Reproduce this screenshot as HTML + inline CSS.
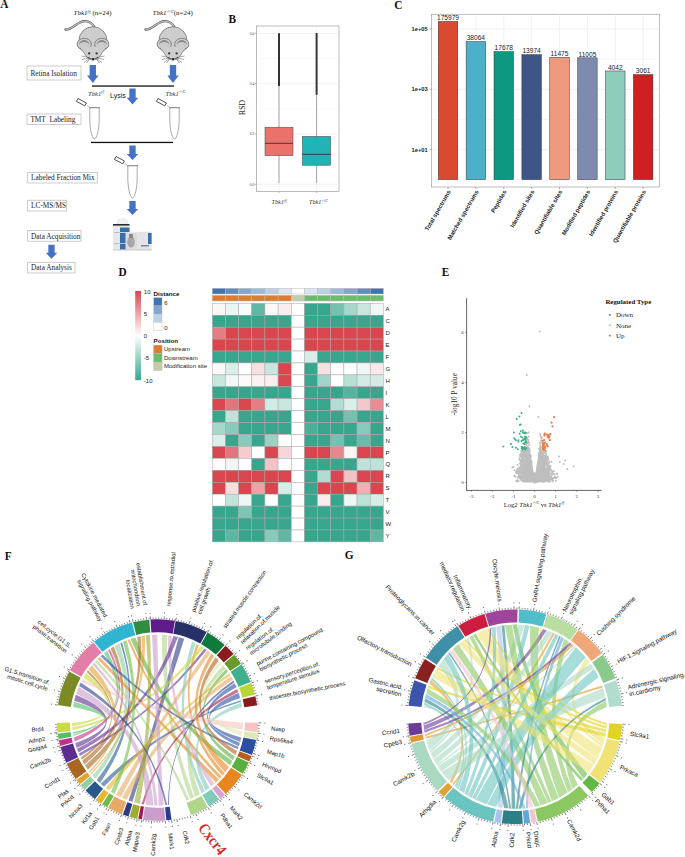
<!DOCTYPE html><html><head><meta charset="utf-8"><style>html,body{margin:0;padding:0;background:#fff;overflow:hidden}svg{display:block}</style></head><body>
<svg width="685" height="857" viewBox="0 0 685 857">
<rect width="685" height="857" fill="#fff"/>
<text x="0" y="0" font-family='"Liberation Serif", serif' font-size="11.3" font-weight="bold" fill="#111" transform="translate(0.3,8.3) scale(1,1.13)">A</text>
<text x="73.5" y="15.2" font-family='"Liberation Serif", serif' font-size="7" fill="#222"><tspan font-style="italic">Tbk1</tspan><tspan font-size="3.8" dy="-2.7" font-style="italic">f/f</tspan><tspan dy="2.7"> (n=24)</tspan></text>
<text x="152.5" y="15.2" font-family='"Liberation Serif", serif' font-size="7" fill="#222"><tspan font-style="italic">Tbk1</tspan><tspan font-size="3.8" dy="-2.7" font-style="italic">-/-/C</tspan><tspan dy="2.7">(n=24)</tspan></text>
<g transform="translate(0,0)"><path d="M95,28 C91,21 85,20 80,22.5 C75,25 70,30 65.5,29.5" fill="none" stroke="#555" stroke-width="2.3" stroke-linecap="round"/><path d="M95,28 C91,21 85,20 80,22.5 C75,25 70,30 65.8,29.5" fill="none" stroke="#c4c4c4" stroke-width="1.2" stroke-linecap="round"/><ellipse cx="93" cy="40.3" rx="14" ry="13.6" fill="#cdcdcd" stroke="#555" stroke-width="0.6"/><ellipse cx="84.2" cy="44.2" rx="7.1" ry="5.9" fill="#cbcbcb" stroke="#555" stroke-width="0.6"/><ellipse cx="101.8" cy="44.2" rx="7.1" ry="5.9" fill="#cbcbcb" stroke="#555" stroke-width="0.6"/><path d="M79.8,47.5 C81,50 84,52 86,56 C88,58.5 91,60 93,60.3 C95,60 98,58.5 100,56 C102,52 105,50 106.2,47.5 C103,45 98,47 93,47 C88,47 83,45 79.8,47.5 Z" fill="#cdcdcd"/><path d="M79.8,47.5 C81,50 84,52 86,56 C88,58.5 91,60 93,60.3 C95,60 98,58.5 100,56 C102,52 105,50 106.2,47.5" fill="none" stroke="#555" stroke-width="0.6"/><path d="M78.60000000000001,44.6 C80.7,38.6 87.7,38.6 89.8,44.6 C87.2,41.2 81.2,41.2 78.60000000000001,44.6 Z" fill="#8a8a8a"/><path d="M96.2,44.6 C98.3,38.6 105.3,38.6 107.39999999999999,44.6 C104.8,41.2 98.8,41.2 96.2,44.6 Z" fill="#8a8a8a"/><circle cx="89.2" cy="53.4" r="1.15" fill="#333"/><circle cx="96.6" cy="53.4" r="1.15" fill="#333"/><rect x="92" y="58" width="2" height="2" fill="#222"/><g stroke="#444" stroke-width="0.45" fill="none"><line x1="89" y1="57.5" x2="81.5" y2="56"/><line x1="89" y1="58" x2="82" y2="59.5"/><line x1="89.5" y1="58.5" x2="84" y2="62.5"/><line x1="90" y1="58.5" x2="86.5" y2="63"/><line x1="97" y1="57.5" x2="104.5" y2="56"/><line x1="97" y1="58" x2="104" y2="59.5"/><line x1="96.5" y1="58.5" x2="102" y2="62.5"/><line x1="96" y1="58.5" x2="99.5" y2="63"/></g><path d="M88,57 C90,59.5 96,59.5 98,57" fill="none" stroke="#444" stroke-width="0.8"/></g>
<g transform="translate(80,0)"><path d="M95,28 C91,21 85,20 80,22.5 C75,25 70,30 65.5,29.5" fill="none" stroke="#555" stroke-width="2.3" stroke-linecap="round"/><path d="M95,28 C91,21 85,20 80,22.5 C75,25 70,30 65.8,29.5" fill="none" stroke="#c4c4c4" stroke-width="1.2" stroke-linecap="round"/><ellipse cx="93" cy="40.3" rx="14" ry="13.6" fill="#cdcdcd" stroke="#555" stroke-width="0.6"/><ellipse cx="84.2" cy="44.2" rx="7.1" ry="5.9" fill="#cbcbcb" stroke="#555" stroke-width="0.6"/><ellipse cx="101.8" cy="44.2" rx="7.1" ry="5.9" fill="#cbcbcb" stroke="#555" stroke-width="0.6"/><path d="M79.8,47.5 C81,50 84,52 86,56 C88,58.5 91,60 93,60.3 C95,60 98,58.5 100,56 C102,52 105,50 106.2,47.5 C103,45 98,47 93,47 C88,47 83,45 79.8,47.5 Z" fill="#cdcdcd"/><path d="M79.8,47.5 C81,50 84,52 86,56 C88,58.5 91,60 93,60.3 C95,60 98,58.5 100,56 C102,52 105,50 106.2,47.5" fill="none" stroke="#555" stroke-width="0.6"/><path d="M78.60000000000001,44.6 C80.7,38.6 87.7,38.6 89.8,44.6 C87.2,41.2 81.2,41.2 78.60000000000001,44.6 Z" fill="#8a8a8a"/><path d="M96.2,44.6 C98.3,38.6 105.3,38.6 107.39999999999999,44.6 C104.8,41.2 98.8,41.2 96.2,44.6 Z" fill="#8a8a8a"/><circle cx="89.2" cy="53.4" r="1.15" fill="#333"/><circle cx="96.6" cy="53.4" r="1.15" fill="#333"/><rect x="92" y="58" width="2" height="2" fill="#222"/><g stroke="#444" stroke-width="0.45" fill="none"><line x1="89" y1="57.5" x2="81.5" y2="56"/><line x1="89" y1="58" x2="82" y2="59.5"/><line x1="89.5" y1="58.5" x2="84" y2="62.5"/><line x1="90" y1="58.5" x2="86.5" y2="63"/><line x1="97" y1="57.5" x2="104.5" y2="56"/><line x1="97" y1="58" x2="104" y2="59.5"/><line x1="96.5" y1="58.5" x2="102" y2="62.5"/><line x1="96" y1="58.5" x2="99.5" y2="63"/></g><path d="M88,57 C90,59.5 96,59.5 98,57" fill="none" stroke="#444" stroke-width="0.8"/></g>
<path d="M89.64,65 L95.96,65 L95.96,75.44 L98.55,75.44 L92.8,83 L87.05,75.44 L89.64,75.44 Z" fill="#4472C4"/>
<path d="M169.84,65 L176.16,65 L176.16,75.44 L178.75,75.44 L173,83 L167.25,75.44 L169.84,75.44 Z" fill="#4472C4"/>
<rect x="92" y="85.4" width="82" height="1.3" fill="#111"/>
<text x="88" y="95.5" font-family='"Liberation Serif", serif' font-size="6.6" font-style="italic" fill="#333">Tbk1<tspan font-size="3.6" dy="-2.4">f/f</tspan></text>
<text x="165.5" y="95.5" font-family='"Liberation Serif", serif' font-size="6.6" font-style="italic" fill="#333">Tbk1<tspan font-size="3.6" dy="-2.4">-/-/C</tspan></text>
<text x="110.00" y="98.00" font-family='"Liberation Sans", sans-serif' font-size="7" text-anchor="start" fill="#222">Lysis</text>
<path d="M129.34,88.5 L135.66,88.5 L135.66,97.78 L138.25,97.78 L132.5,104.5 L126.75,97.78 L129.34,97.78 Z" fill="#4472C4"/>
<rect x="27" y="66" width="54" height="14" fill="#fff" stroke="#aaa" stroke-width="0.6"/>
<text x="30.40" y="75.77" font-family='"Liberation Serif", serif' font-size="7.3" text-anchor="start" fill="#222">Retina Isolation</text>
<rect x="27" y="114" width="54" height="10.5" fill="#fff" stroke="#aaa" stroke-width="0.6"/>
<text x="30.40" y="122.02" font-family='"Liberation Serif", serif' font-size="7.3" text-anchor="start" fill="#222">TMT&#160;&#160;Labeling</text>
<path d="M89.8,108 L89.8,121.4 C90.5,134 93.0,139 94.5,139 C96.0,139 98.5,134 99.2,121.4 L99.2,108" fill="#fff" stroke="#555" stroke-width="0.5"/>
<rect x="89" y="107" width="11" height="1.3" fill="#999"/>
<g transform="rotate(28 81.5 102.5)"><rect x="76.5" y="100.6" width="9.5" height="3.3" fill="#fff" stroke="#333" stroke-width="0.75"/></g>
<path d="M87,105.5 L89,107" stroke="#777" stroke-width="0.5"/>
<path d="M169.8,108 L169.8,121.4 C170.5,134 173.0,139 174.5,139 C176.0,139 178.5,134 179.2,121.4 L179.2,108" fill="#fff" stroke="#555" stroke-width="0.5"/>
<rect x="169" y="107" width="11" height="1.3" fill="#999"/>
<g transform="rotate(28 161.5 102.5)"><rect x="156.5" y="100.6" width="9.5" height="3.3" fill="#fff" stroke="#333" stroke-width="0.75"/></g>
<path d="M167,105.5 L169,107" stroke="#777" stroke-width="0.5"/>
<rect x="91" y="141.8" width="82" height="1.3" fill="#111"/>
<path d="M129.34,145.5 L135.66,145.5 L135.66,153.91 L138.25,153.91 L132.5,160 L126.75,153.91 L129.34,153.91 Z" fill="#4472C4"/>
<path d="M127.8,166 L127.8,179.85 C128.5,193 131.0,198 132.5,198 C134.0,198 136.5,193 137.2,179.85 L137.2,166" fill="#fff" stroke="#555" stroke-width="0.5"/>
<rect x="127" y="165" width="11" height="1.3" fill="#999"/>
<g transform="rotate(28 119.5 160.5)"><rect x="114.5" y="158.6" width="9.5" height="3.3" fill="#fff" stroke="#333" stroke-width="0.75"/></g>
<path d="M125,163.5 L127,165" stroke="#777" stroke-width="0.5"/>
<rect x="27.7" y="172.3" width="69.5" height="10.699999999999989" fill="#fff" stroke="#aaa" stroke-width="0.6"/>
<text x="31.10" y="180.42" font-family='"Liberation Serif", serif' font-size="7.3" text-anchor="start" fill="#222">Labeled Fraction Mix</text>
<rect x="27.7" y="200.2" width="38.89999999999999" height="10.800000000000011" fill="#fff" stroke="#aaa" stroke-width="0.6"/>
<text x="31.10" y="208.37" font-family='"Liberation Serif", serif' font-size="7.3" text-anchor="start" fill="#222">LC-MS/MS</text>
<path d="M129.34,201 L135.66,201 L135.66,209.12 L138.25,209.12 L132.5,215 L126.75,209.12 L129.34,209.12 Z" fill="#4472C4"/>
<rect x="27.7" y="230.6" width="53.3" height="10.599999999999994" fill="#fff" stroke="#aaa" stroke-width="0.6"/>
<text x="31.10" y="238.67" font-family='"Liberation Serif", serif' font-size="7.3" text-anchor="start" fill="#222">Data Acquisition</text>
<path d="M48.34,244.7 L54.66,244.7 L54.66,252.82 L57.25,252.82 L51.5,258.7 L45.75,252.82 L48.34,252.82 Z" fill="#4472C4"/>
<rect x="27.7" y="262.2" width="47.3" height="10.800000000000011" fill="#fff" stroke="#aaa" stroke-width="0.6"/>
<text x="31.10" y="270.37" font-family='"Liberation Serif", serif' font-size="7.3" text-anchor="start" fill="#222">Data Analysis</text>
<g><path d="M117,224 C117,220 119,219 121,219 C122,218 124,218 125,220 C126,219 128,220 128,222 L128,224 Z" fill="#f0f0f0" stroke="#ccc" stroke-width="0.3"/><rect x="113" y="224" width="16.5" height="26.3" fill="#e6e8ea"/><rect x="113" y="224" width="16.5" height="1.6" fill="#2a2a2a"/><rect x="120" y="227.5" width="9.5" height="4.5" fill="#3a6ea5"/><rect x="120" y="232.8" width="6" height="10.5" fill="#3a6ea5"/><rect x="120" y="244" width="6" height="5.5" fill="#3a6ea5"/><rect x="114" y="232" width="5.5" height="0.6" fill="#999"/><rect x="114" y="243.5" width="5.5" height="0.6" fill="#999"/><rect x="125.5" y="232.5" width="11.8" height="17" fill="#dcdcdc"/><ellipse cx="131" cy="242" rx="3.8" ry="5.5" fill="#a8a8a8"/><rect x="129" y="234" width="4" height="4" fill="#888"/><rect x="137.1" y="231.7" width="14.5" height="18.5" fill="#e4e4e4"/><rect x="148" y="233" width="3.6" height="11" fill="#3a6ea5"/><rect x="141" y="245" width="8" height="1.5" fill="#6a8fb5"/><rect x="113" y="249.6" width="38.6" height="0.8" fill="#bbb"/></g>
<text x="0" y="0" font-family='"Liberation Serif", serif' font-size="11.3" font-weight="bold" fill="#111" transform="translate(118.4,275.5) scale(1,1.13)">D</text>
<text x="0" y="0" font-family='"Liberation Serif", serif' font-size="11.3" font-weight="bold" fill="#111" transform="translate(228.5,22.8) scale(1,1.13)">B</text>
<rect x="256.5" y="26" width="82.5" height="165.5" fill="#fff" stroke="#777" stroke-width="0.5"/>
<line x1="256.5" x2="339" y1="159.15" y2="159.15" stroke="#f2f2f2" stroke-width="0.5"/>
<line x1="256.5" x2="339" y1="108.85" y2="108.85" stroke="#f2f2f2" stroke-width="0.5"/>
<line x1="256.5" x2="339" y1="58.55" y2="58.55" stroke="#f2f2f2" stroke-width="0.5"/>
<line x1="256.5" x2="339" y1="184.30" y2="184.30" stroke="#ebebeb" stroke-width="0.7"/>
<line x1="255.0" x2="256.5" y1="184.30" y2="184.30" stroke="#555" stroke-width="0.4"/>
<text x="254.50" y="185.60" font-family='"Liberation Serif", serif' font-size="3.8" text-anchor="end" fill="#444">0.0</text>
<line x1="256.5" x2="339" y1="134.00" y2="134.00" stroke="#ebebeb" stroke-width="0.7"/>
<line x1="255.0" x2="256.5" y1="134.00" y2="134.00" stroke="#555" stroke-width="0.4"/>
<text x="254.50" y="135.30" font-family='"Liberation Serif", serif' font-size="3.8" text-anchor="end" fill="#444">0.2</text>
<line x1="256.5" x2="339" y1="83.70" y2="83.70" stroke="#ebebeb" stroke-width="0.7"/>
<line x1="255.0" x2="256.5" y1="83.70" y2="83.70" stroke="#555" stroke-width="0.4"/>
<text x="254.50" y="85.00" font-family='"Liberation Serif", serif' font-size="3.8" text-anchor="end" fill="#444">0.4</text>
<line x1="256.5" x2="339" y1="33.40" y2="33.40" stroke="#ebebeb" stroke-width="0.7"/>
<line x1="255.0" x2="256.5" y1="33.40" y2="33.40" stroke="#555" stroke-width="0.4"/>
<text x="254.50" y="34.70" font-family='"Liberation Serif", serif' font-size="3.8" text-anchor="end" fill="#444">0.6</text>
<line x1="279" x2="279" y1="26" y2="191.5" stroke="#ebebeb" stroke-width="0.7"/>
<line x1="279" x2="279" y1="191.5" y2="193.0" stroke="#555" stroke-width="0.4"/>
<line x1="316.6" x2="316.6" y1="26" y2="191.5" stroke="#ebebeb" stroke-width="0.7"/>
<line x1="316.6" x2="316.6" y1="191.5" y2="193.0" stroke="#555" stroke-width="0.4"/>
<line x1="279" x2="279" y1="33.3" y2="183.2" stroke="#555" stroke-width="0.5"/>
<rect x="278" y="33.3" width="2" height="52.7" fill="#333"/>
<rect x="265" y="127.2" width="28" height="28.5" fill="#EA726A" stroke="#444" stroke-width="0.5"/>
<line x1="265" x2="293" y1="143.3" y2="143.3" stroke="#333" stroke-width="0.9"/>
<line x1="316.6" x2="316.6" y1="33.3" y2="183.2" stroke="#555" stroke-width="0.5"/>
<rect x="315.6" y="33" width="2" height="61.7" fill="#383838"/>
<rect x="302.4" y="136.4" width="28.2" height="28.8" fill="#22B3B6" stroke="#444" stroke-width="0.5"/>
<line x1="302.4" x2="330.6" y1="154.3" y2="154.3" stroke="#333" stroke-width="0.9"/>
<text x="245.00" y="107.50" font-family='"Liberation Serif", serif' font-size="7.6" text-anchor="middle" fill="#222" transform="rotate(-90.00 245.00 107.50)">RSD</text>
<text x="271.5" y="204" font-family='"Liberation Serif", serif' font-size="6.2" font-style="italic" fill="#333">Tbk1<tspan font-size="3.4" dy="-2.3">f/f</tspan></text>
<text x="309" y="204" font-family='"Liberation Serif", serif' font-size="6.2" font-style="italic" fill="#333">Tbk1<tspan font-size="3.4" dy="-2.3">-/-/C</tspan></text>
<text x="0" y="0" font-family='"Liberation Serif", serif' font-size="11.3" font-weight="bold" fill="#111" transform="translate(394.2,8.8) scale(1,1.13)">C</text>
<rect x="431.6" y="14.2" width="227.79999999999995" height="172.8" fill="#fff" stroke="#888" stroke-width="0.55"/>
<line x1="431.6" x2="659.4" y1="179.90" y2="179.90" stroke="#f0f0f0" stroke-width="0.6"/>
<line x1="431.6" x2="659.4" y1="119.50" y2="119.50" stroke="#f0f0f0" stroke-width="0.6"/>
<line x1="431.6" x2="659.4" y1="59.10" y2="59.10" stroke="#f0f0f0" stroke-width="0.6"/>
<line x1="431.6" x2="659.4" y1="149.70" y2="149.70" stroke="#e8e8e8" stroke-width="0.7"/>
<line x1="429.8" x2="431.6" y1="149.70" y2="149.70" stroke="#555" stroke-width="0.5"/>
<text x="427.80" y="151.80" font-family='"Liberation Sans", sans-serif' font-size="5.8" font-weight="bold" text-anchor="end" fill="#222">1e+01</text>
<line x1="431.6" x2="659.4" y1="89.30" y2="89.30" stroke="#e8e8e8" stroke-width="0.7"/>
<line x1="429.8" x2="431.6" y1="89.30" y2="89.30" stroke="#555" stroke-width="0.5"/>
<text x="427.80" y="91.40" font-family='"Liberation Sans", sans-serif' font-size="5.8" font-weight="bold" text-anchor="end" fill="#222">1e+03</text>
<line x1="431.6" x2="659.4" y1="28.90" y2="28.90" stroke="#e8e8e8" stroke-width="0.7"/>
<line x1="429.8" x2="431.6" y1="28.90" y2="28.90" stroke="#555" stroke-width="0.5"/>
<text x="427.80" y="31.00" font-family='"Liberation Sans", sans-serif' font-size="5.8" font-weight="bold" text-anchor="end" fill="#222">1e+05</text>
<line x1="448.00" x2="448.00" y1="14.2" y2="187" stroke="#ececec" stroke-width="0.7"/>
<line x1="475.88" x2="475.88" y1="14.2" y2="187" stroke="#ececec" stroke-width="0.7"/>
<line x1="503.76" x2="503.76" y1="14.2" y2="187" stroke="#ececec" stroke-width="0.7"/>
<line x1="531.64" x2="531.64" y1="14.2" y2="187" stroke="#ececec" stroke-width="0.7"/>
<line x1="559.52" x2="559.52" y1="14.2" y2="187" stroke="#ececec" stroke-width="0.7"/>
<line x1="587.40" x2="587.40" y1="14.2" y2="187" stroke="#ececec" stroke-width="0.7"/>
<line x1="615.28" x2="615.28" y1="14.2" y2="187" stroke="#ececec" stroke-width="0.7"/>
<line x1="643.16" x2="643.16" y1="14.2" y2="187" stroke="#ececec" stroke-width="0.7"/>
<rect x="438.25" y="21.49" width="19.5" height="158.11" fill="#DA4A33" stroke="#333" stroke-width="0.5"/>
<text x="448.00" y="20.19" font-family='"Liberation Sans", sans-serif' font-size="6.6" text-anchor="middle" fill="#222">175979</text>
<line x1="448.00" x2="448.00" y1="187" y2="188.8" stroke="#555" stroke-width="0.5"/>
<text x="451.00" y="191.60" font-family='"Liberation Sans", sans-serif' font-size="6.0" font-weight="bold" text-anchor="end" fill="#222" transform="rotate(-60.00 451.00 191.60)">Total spectrums</text>
<rect x="466.13" y="41.57" width="19.5" height="138.03" fill="#4CB0CA" stroke="#333" stroke-width="0.5"/>
<text x="475.88" y="40.27" font-family='"Liberation Sans", sans-serif' font-size="6.6" text-anchor="middle" fill="#222">38064</text>
<line x1="475.88" x2="475.88" y1="187" y2="188.8" stroke="#555" stroke-width="0.5"/>
<text x="478.88" y="191.60" font-family='"Liberation Sans", sans-serif' font-size="6.0" font-weight="bold" text-anchor="end" fill="#222" transform="rotate(-60.00 478.88 191.60)">Matched spectrums</text>
<rect x="494.01" y="51.63" width="19.5" height="127.97" fill="#0E9882" stroke="#333" stroke-width="0.5"/>
<text x="503.76" y="50.33" font-family='"Liberation Sans", sans-serif' font-size="6.6" text-anchor="middle" fill="#222">17678</text>
<line x1="503.76" x2="503.76" y1="187" y2="188.8" stroke="#555" stroke-width="0.5"/>
<text x="506.76" y="191.60" font-family='"Liberation Sans", sans-serif' font-size="6.0" font-weight="bold" text-anchor="end" fill="#222" transform="rotate(-60.00 506.76 191.60)">Peptides</text>
<rect x="521.89" y="54.71" width="19.5" height="124.89" fill="#3D5587" stroke="#333" stroke-width="0.5"/>
<text x="531.64" y="53.41" font-family='"Liberation Sans", sans-serif' font-size="6.6" text-anchor="middle" fill="#222">13974</text>
<line x1="531.64" x2="531.64" y1="187" y2="188.8" stroke="#555" stroke-width="0.5"/>
<text x="534.64" y="191.60" font-family='"Liberation Sans", sans-serif' font-size="6.0" font-weight="bold" text-anchor="end" fill="#222" transform="rotate(-60.00 534.64 191.60)">Identified sites</text>
<rect x="549.77" y="57.30" width="19.5" height="122.30" fill="#EE997E" stroke="#333" stroke-width="0.5"/>
<text x="559.52" y="56.00" font-family='"Liberation Sans", sans-serif' font-size="6.6" text-anchor="middle" fill="#222">11475</text>
<line x1="559.52" x2="559.52" y1="187" y2="188.8" stroke="#555" stroke-width="0.5"/>
<text x="562.52" y="191.60" font-family='"Liberation Sans", sans-serif' font-size="6.0" font-weight="bold" text-anchor="end" fill="#222" transform="rotate(-60.00 562.52 191.60)">Quantifiable sites</text>
<rect x="577.65" y="57.84" width="19.5" height="121.76" fill="#7F8AB0" stroke="#333" stroke-width="0.5"/>
<text x="587.40" y="56.54" font-family='"Liberation Sans", sans-serif' font-size="6.6" text-anchor="middle" fill="#222">11005</text>
<line x1="587.40" x2="587.40" y1="187" y2="188.8" stroke="#555" stroke-width="0.5"/>
<text x="590.40" y="191.60" font-family='"Liberation Sans", sans-serif' font-size="6.0" font-weight="bold" text-anchor="end" fill="#222" transform="rotate(-60.00 590.40 191.60)">Modified peptides</text>
<rect x="605.53" y="70.98" width="19.5" height="108.62" fill="#8ECDBC" stroke="#333" stroke-width="0.5"/>
<text x="615.28" y="69.68" font-family='"Liberation Sans", sans-serif' font-size="6.6" text-anchor="middle" fill="#222">4042</text>
<line x1="615.28" x2="615.28" y1="187" y2="188.8" stroke="#555" stroke-width="0.5"/>
<text x="618.28" y="191.60" font-family='"Liberation Sans", sans-serif' font-size="6.0" font-weight="bold" text-anchor="end" fill="#222" transform="rotate(-60.00 618.28 191.60)">Identified proteins</text>
<rect x="633.41" y="74.63" width="19.5" height="104.97" fill="#CE1F23" stroke="#333" stroke-width="0.5"/>
<text x="643.16" y="73.33" font-family='"Liberation Sans", sans-serif' font-size="6.6" text-anchor="middle" fill="#222">3061</text>
<line x1="643.16" x2="643.16" y1="187" y2="188.8" stroke="#555" stroke-width="0.5"/>
<text x="646.16" y="191.60" font-family='"Liberation Sans", sans-serif' font-size="6.0" font-weight="bold" text-anchor="end" fill="#222" transform="rotate(-60.00 646.16 191.60)">Quantifiable proteins</text>
<rect x="212.30" y="288.3" width="13.16" height="5.7" fill="#3f74ae" stroke="#bbb" stroke-width="0.5"/>
<rect x="225.46" y="288.3" width="13.16" height="5.7" fill="#5f8dbf" stroke="#bbb" stroke-width="0.5"/>
<rect x="238.62" y="288.3" width="13.16" height="5.7" fill="#82a6cc" stroke="#bbb" stroke-width="0.5"/>
<rect x="251.78" y="288.3" width="13.16" height="5.7" fill="#9cb9d8" stroke="#bbb" stroke-width="0.5"/>
<rect x="264.94" y="288.3" width="13.16" height="5.7" fill="#bdd0e5" stroke="#bbb" stroke-width="0.5"/>
<rect x="278.10" y="288.3" width="13.16" height="5.7" fill="#dbe5f0" stroke="#bbb" stroke-width="0.5"/>
<rect x="291.26" y="288.3" width="13.16" height="5.7" fill="#ffffff" stroke="#bbb" stroke-width="0.5"/>
<rect x="304.42" y="288.3" width="13.16" height="5.7" fill="#dbe5f0" stroke="#bbb" stroke-width="0.5"/>
<rect x="317.58" y="288.3" width="13.16" height="5.7" fill="#bdd0e5" stroke="#bbb" stroke-width="0.5"/>
<rect x="330.74" y="288.3" width="13.16" height="5.7" fill="#9cb9d8" stroke="#bbb" stroke-width="0.5"/>
<rect x="343.90" y="288.3" width="13.16" height="5.7" fill="#82a6cc" stroke="#bbb" stroke-width="0.5"/>
<rect x="357.06" y="288.3" width="13.16" height="5.7" fill="#5f8dbf" stroke="#bbb" stroke-width="0.5"/>
<rect x="370.22" y="288.3" width="13.16" height="5.7" fill="#3f74ae" stroke="#bbb" stroke-width="0.5"/>
<rect x="212.30" y="295.3" width="13.16" height="5.7" fill="#DD7C30" stroke="#bbb" stroke-width="0.5"/>
<rect x="225.46" y="295.3" width="13.16" height="5.7" fill="#DD7C30" stroke="#bbb" stroke-width="0.5"/>
<rect x="238.62" y="295.3" width="13.16" height="5.7" fill="#DD7C30" stroke="#bbb" stroke-width="0.5"/>
<rect x="251.78" y="295.3" width="13.16" height="5.7" fill="#DD7C30" stroke="#bbb" stroke-width="0.5"/>
<rect x="264.94" y="295.3" width="13.16" height="5.7" fill="#DD7C30" stroke="#bbb" stroke-width="0.5"/>
<rect x="278.10" y="295.3" width="13.16" height="5.7" fill="#DD7C30" stroke="#bbb" stroke-width="0.5"/>
<rect x="291.26" y="295.3" width="13.16" height="5.7" fill="#C2CBAE" stroke="#bbb" stroke-width="0.5"/>
<rect x="304.42" y="295.3" width="13.16" height="5.7" fill="#6ABD6B" stroke="#bbb" stroke-width="0.5"/>
<rect x="317.58" y="295.3" width="13.16" height="5.7" fill="#6ABD6B" stroke="#bbb" stroke-width="0.5"/>
<rect x="330.74" y="295.3" width="13.16" height="5.7" fill="#6ABD6B" stroke="#bbb" stroke-width="0.5"/>
<rect x="343.90" y="295.3" width="13.16" height="5.7" fill="#6ABD6B" stroke="#bbb" stroke-width="0.5"/>
<rect x="357.06" y="295.3" width="13.16" height="5.7" fill="#6ABD6B" stroke="#bbb" stroke-width="0.5"/>
<rect x="370.22" y="295.3" width="13.16" height="5.7" fill="#6ABD6B" stroke="#bbb" stroke-width="0.5"/>
<rect x="212.30" y="303.30" width="13.16" height="11.93" fill="#fdf6f6" stroke="#a8a8a8" stroke-width="0.5"/>
<rect x="225.46" y="303.30" width="13.16" height="11.93" fill="#ebf6f4" stroke="#a8a8a8" stroke-width="0.5"/>
<rect x="238.62" y="303.30" width="13.16" height="11.93" fill="#f7fbfa" stroke="#a8a8a8" stroke-width="0.5"/>
<rect x="251.78" y="303.30" width="13.16" height="11.93" fill="#60b8a4" stroke="#a8a8a8" stroke-width="0.5"/>
<rect x="264.94" y="303.30" width="13.16" height="11.93" fill="#fdf8f8" stroke="#a8a8a8" stroke-width="0.5"/>
<rect x="278.10" y="303.30" width="13.16" height="11.93" fill="#fbeced" stroke="#a8a8a8" stroke-width="0.5"/>
<rect x="291.26" y="303.30" width="13.16" height="11.93" fill="#ffffff" stroke="#a8a8a8" stroke-width="0.5"/>
<rect x="304.42" y="303.30" width="13.16" height="11.93" fill="#38a68d" stroke="#a8a8a8" stroke-width="0.5"/>
<rect x="317.58" y="303.30" width="13.16" height="11.93" fill="#38a68d" stroke="#a8a8a8" stroke-width="0.5"/>
<rect x="330.74" y="303.30" width="13.16" height="11.93" fill="#74c1af" stroke="#a8a8a8" stroke-width="0.5"/>
<rect x="343.90" y="303.30" width="13.16" height="11.93" fill="#a5d7cc" stroke="#a8a8a8" stroke-width="0.5"/>
<rect x="357.06" y="303.30" width="13.16" height="11.93" fill="#c7e6df" stroke="#a8a8a8" stroke-width="0.5"/>
<rect x="370.22" y="303.30" width="13.16" height="11.93" fill="#eff8f6" stroke="#a8a8a8" stroke-width="0.5"/>
<text x="385.58" y="311.37" font-family='"Liberation Sans", sans-serif' font-size="6" text-anchor="start" fill="#222">A</text>
<rect x="212.30" y="315.23" width="13.16" height="11.93" fill="#38a68d" stroke="#a8a8a8" stroke-width="0.5"/>
<rect x="225.46" y="315.23" width="13.16" height="11.93" fill="#38a68d" stroke="#a8a8a8" stroke-width="0.5"/>
<rect x="238.62" y="315.23" width="13.16" height="11.93" fill="#38a68d" stroke="#a8a8a8" stroke-width="0.5"/>
<rect x="251.78" y="315.23" width="13.16" height="11.93" fill="#38a68d" stroke="#a8a8a8" stroke-width="0.5"/>
<rect x="264.94" y="315.23" width="13.16" height="11.93" fill="#38a68d" stroke="#a8a8a8" stroke-width="0.5"/>
<rect x="278.10" y="315.23" width="13.16" height="11.93" fill="#38a68d" stroke="#a8a8a8" stroke-width="0.5"/>
<rect x="291.26" y="315.23" width="13.16" height="11.93" fill="#ffffff" stroke="#a8a8a8" stroke-width="0.5"/>
<rect x="304.42" y="315.23" width="13.16" height="11.93" fill="#38a68d" stroke="#a8a8a8" stroke-width="0.5"/>
<rect x="317.58" y="315.23" width="13.16" height="11.93" fill="#38a68d" stroke="#a8a8a8" stroke-width="0.5"/>
<rect x="330.74" y="315.23" width="13.16" height="11.93" fill="#38a68d" stroke="#a8a8a8" stroke-width="0.5"/>
<rect x="343.90" y="315.23" width="13.16" height="11.93" fill="#38a68d" stroke="#a8a8a8" stroke-width="0.5"/>
<rect x="357.06" y="315.23" width="13.16" height="11.93" fill="#38a68d" stroke="#a8a8a8" stroke-width="0.5"/>
<rect x="370.22" y="315.23" width="13.16" height="11.93" fill="#38a68d" stroke="#a8a8a8" stroke-width="0.5"/>
<text x="385.58" y="323.30" font-family='"Liberation Sans", sans-serif' font-size="6" text-anchor="start" fill="#222">C</text>
<rect x="212.30" y="327.16" width="13.16" height="11.93" fill="#e47e84" stroke="#a8a8a8" stroke-width="0.5"/>
<rect x="225.46" y="327.16" width="13.16" height="11.93" fill="#d9464f" stroke="#a8a8a8" stroke-width="0.5"/>
<rect x="238.62" y="327.16" width="13.16" height="11.93" fill="#d9464f" stroke="#a8a8a8" stroke-width="0.5"/>
<rect x="251.78" y="327.16" width="13.16" height="11.93" fill="#d9464f" stroke="#a8a8a8" stroke-width="0.5"/>
<rect x="264.94" y="327.16" width="13.16" height="11.93" fill="#d9464f" stroke="#a8a8a8" stroke-width="0.5"/>
<rect x="278.10" y="327.16" width="13.16" height="11.93" fill="#d9464f" stroke="#a8a8a8" stroke-width="0.5"/>
<rect x="291.26" y="327.16" width="13.16" height="11.93" fill="#ffffff" stroke="#a8a8a8" stroke-width="0.5"/>
<rect x="304.42" y="327.16" width="13.16" height="11.93" fill="#d9464f" stroke="#a8a8a8" stroke-width="0.5"/>
<rect x="317.58" y="327.16" width="13.16" height="11.93" fill="#d9464f" stroke="#a8a8a8" stroke-width="0.5"/>
<rect x="330.74" y="327.16" width="13.16" height="11.93" fill="#d9464f" stroke="#a8a8a8" stroke-width="0.5"/>
<rect x="343.90" y="327.16" width="13.16" height="11.93" fill="#d9464f" stroke="#a8a8a8" stroke-width="0.5"/>
<rect x="357.06" y="327.16" width="13.16" height="11.93" fill="#d9464f" stroke="#a8a8a8" stroke-width="0.5"/>
<rect x="370.22" y="327.16" width="13.16" height="11.93" fill="#d9464f" stroke="#a8a8a8" stroke-width="0.5"/>
<text x="385.58" y="335.23" font-family='"Liberation Sans", sans-serif' font-size="6" text-anchor="start" fill="#222">D</text>
<rect x="212.30" y="339.09" width="13.16" height="11.93" fill="#d9464f" stroke="#a8a8a8" stroke-width="0.5"/>
<rect x="225.46" y="339.09" width="13.16" height="11.93" fill="#d9464f" stroke="#a8a8a8" stroke-width="0.5"/>
<rect x="238.62" y="339.09" width="13.16" height="11.93" fill="#d9464f" stroke="#a8a8a8" stroke-width="0.5"/>
<rect x="251.78" y="339.09" width="13.16" height="11.93" fill="#d9464f" stroke="#a8a8a8" stroke-width="0.5"/>
<rect x="264.94" y="339.09" width="13.16" height="11.93" fill="#d9464f" stroke="#a8a8a8" stroke-width="0.5"/>
<rect x="278.10" y="339.09" width="13.16" height="11.93" fill="#d9464f" stroke="#a8a8a8" stroke-width="0.5"/>
<rect x="291.26" y="339.09" width="13.16" height="11.93" fill="#ffffff" stroke="#a8a8a8" stroke-width="0.5"/>
<rect x="304.42" y="339.09" width="13.16" height="11.93" fill="#d9464f" stroke="#a8a8a8" stroke-width="0.5"/>
<rect x="317.58" y="339.09" width="13.16" height="11.93" fill="#d9464f" stroke="#a8a8a8" stroke-width="0.5"/>
<rect x="330.74" y="339.09" width="13.16" height="11.93" fill="#d9464f" stroke="#a8a8a8" stroke-width="0.5"/>
<rect x="343.90" y="339.09" width="13.16" height="11.93" fill="#d9464f" stroke="#a8a8a8" stroke-width="0.5"/>
<rect x="357.06" y="339.09" width="13.16" height="11.93" fill="#d9464f" stroke="#a8a8a8" stroke-width="0.5"/>
<rect x="370.22" y="339.09" width="13.16" height="11.93" fill="#d9464f" stroke="#a8a8a8" stroke-width="0.5"/>
<text x="385.58" y="347.16" font-family='"Liberation Sans", sans-serif' font-size="6" text-anchor="start" fill="#222">E</text>
<rect x="212.30" y="351.02" width="13.16" height="11.93" fill="#38a68d" stroke="#a8a8a8" stroke-width="0.5"/>
<rect x="225.46" y="351.02" width="13.16" height="11.93" fill="#38a68d" stroke="#a8a8a8" stroke-width="0.5"/>
<rect x="238.62" y="351.02" width="13.16" height="11.93" fill="#38a68d" stroke="#a8a8a8" stroke-width="0.5"/>
<rect x="251.78" y="351.02" width="13.16" height="11.93" fill="#38a68d" stroke="#a8a8a8" stroke-width="0.5"/>
<rect x="264.94" y="351.02" width="13.16" height="11.93" fill="#38a68d" stroke="#a8a8a8" stroke-width="0.5"/>
<rect x="278.10" y="351.02" width="13.16" height="11.93" fill="#38a68d" stroke="#a8a8a8" stroke-width="0.5"/>
<rect x="291.26" y="351.02" width="13.16" height="11.93" fill="#ffffff" stroke="#a8a8a8" stroke-width="0.5"/>
<rect x="304.42" y="351.02" width="13.16" height="11.93" fill="#d7ede8" stroke="#a8a8a8" stroke-width="0.5"/>
<rect x="317.58" y="351.02" width="13.16" height="11.93" fill="#38a68d" stroke="#a8a8a8" stroke-width="0.5"/>
<rect x="330.74" y="351.02" width="13.16" height="11.93" fill="#38a68d" stroke="#a8a8a8" stroke-width="0.5"/>
<rect x="343.90" y="351.02" width="13.16" height="11.93" fill="#38a68d" stroke="#a8a8a8" stroke-width="0.5"/>
<rect x="357.06" y="351.02" width="13.16" height="11.93" fill="#38a68d" stroke="#a8a8a8" stroke-width="0.5"/>
<rect x="370.22" y="351.02" width="13.16" height="11.93" fill="#38a68d" stroke="#a8a8a8" stroke-width="0.5"/>
<text x="385.58" y="359.08" font-family='"Liberation Sans", sans-serif' font-size="6" text-anchor="start" fill="#222">F</text>
<rect x="212.30" y="362.95" width="13.16" height="11.93" fill="#fdf8f8" stroke="#a8a8a8" stroke-width="0.5"/>
<rect x="225.46" y="362.95" width="13.16" height="11.93" fill="#dbefea" stroke="#a8a8a8" stroke-width="0.5"/>
<rect x="238.62" y="362.95" width="13.16" height="11.93" fill="#ffffff" stroke="#a8a8a8" stroke-width="0.5"/>
<rect x="251.78" y="362.95" width="13.16" height="11.93" fill="#f9e1e3" stroke="#a8a8a8" stroke-width="0.5"/>
<rect x="264.94" y="362.95" width="13.16" height="11.93" fill="#c7e6df" stroke="#a8a8a8" stroke-width="0.5"/>
<rect x="278.10" y="362.95" width="13.16" height="11.93" fill="#d9464f" stroke="#a8a8a8" stroke-width="0.5"/>
<rect x="291.26" y="362.95" width="13.16" height="11.93" fill="#ffffff" stroke="#a8a8a8" stroke-width="0.5"/>
<rect x="304.42" y="362.95" width="13.16" height="11.93" fill="#38a68d" stroke="#a8a8a8" stroke-width="0.5"/>
<rect x="317.58" y="362.95" width="13.16" height="11.93" fill="#f9e1e3" stroke="#a8a8a8" stroke-width="0.5"/>
<rect x="330.74" y="362.95" width="13.16" height="11.93" fill="#ffffff" stroke="#a8a8a8" stroke-width="0.5"/>
<rect x="343.90" y="362.95" width="13.16" height="11.93" fill="#ffffff" stroke="#a8a8a8" stroke-width="0.5"/>
<rect x="357.06" y="362.95" width="13.16" height="11.93" fill="#eff8f6" stroke="#a8a8a8" stroke-width="0.5"/>
<rect x="370.22" y="362.95" width="13.16" height="11.93" fill="#fae9ea" stroke="#a8a8a8" stroke-width="0.5"/>
<text x="385.58" y="371.01" font-family='"Liberation Sans", sans-serif' font-size="6" text-anchor="start" fill="#222">G</text>
<rect x="212.30" y="374.88" width="13.16" height="11.93" fill="#c7e6df" stroke="#a8a8a8" stroke-width="0.5"/>
<rect x="225.46" y="374.88" width="13.16" height="11.93" fill="#eff8f6" stroke="#a8a8a8" stroke-width="0.5"/>
<rect x="238.62" y="374.88" width="13.16" height="11.93" fill="#fef9fa" stroke="#a8a8a8" stroke-width="0.5"/>
<rect x="251.78" y="374.88" width="13.16" height="11.93" fill="#fcf0f1" stroke="#a8a8a8" stroke-width="0.5"/>
<rect x="264.94" y="374.88" width="13.16" height="11.93" fill="#fbeced" stroke="#a8a8a8" stroke-width="0.5"/>
<rect x="278.10" y="374.88" width="13.16" height="11.93" fill="#d9464f" stroke="#a8a8a8" stroke-width="0.5"/>
<rect x="291.26" y="374.88" width="13.16" height="11.93" fill="#ffffff" stroke="#a8a8a8" stroke-width="0.5"/>
<rect x="304.42" y="374.88" width="13.16" height="11.93" fill="#38a68d" stroke="#a8a8a8" stroke-width="0.5"/>
<rect x="317.58" y="374.88" width="13.16" height="11.93" fill="#9fd4c8" stroke="#a8a8a8" stroke-width="0.5"/>
<rect x="330.74" y="374.88" width="13.16" height="11.93" fill="#ffffff" stroke="#a8a8a8" stroke-width="0.5"/>
<rect x="343.90" y="374.88" width="13.16" height="11.93" fill="#b9e0d7" stroke="#a8a8a8" stroke-width="0.5"/>
<rect x="357.06" y="374.88" width="13.16" height="11.93" fill="#d3ebe6" stroke="#a8a8a8" stroke-width="0.5"/>
<rect x="370.22" y="374.88" width="13.16" height="11.93" fill="#d3ebe6" stroke="#a8a8a8" stroke-width="0.5"/>
<text x="385.58" y="382.94" font-family='"Liberation Sans", sans-serif' font-size="6" text-anchor="start" fill="#222">H</text>
<rect x="212.30" y="386.81" width="13.16" height="11.93" fill="#38a68d" stroke="#a8a8a8" stroke-width="0.5"/>
<rect x="225.46" y="386.81" width="13.16" height="11.93" fill="#38a68d" stroke="#a8a8a8" stroke-width="0.5"/>
<rect x="238.62" y="386.81" width="13.16" height="11.93" fill="#38a68d" stroke="#a8a8a8" stroke-width="0.5"/>
<rect x="251.78" y="386.81" width="13.16" height="11.93" fill="#38a68d" stroke="#a8a8a8" stroke-width="0.5"/>
<rect x="264.94" y="386.81" width="13.16" height="11.93" fill="#38a68d" stroke="#a8a8a8" stroke-width="0.5"/>
<rect x="278.10" y="386.81" width="13.16" height="11.93" fill="#38a68d" stroke="#a8a8a8" stroke-width="0.5"/>
<rect x="291.26" y="386.81" width="13.16" height="11.93" fill="#ffffff" stroke="#a8a8a8" stroke-width="0.5"/>
<rect x="304.42" y="386.81" width="13.16" height="11.93" fill="#38a68d" stroke="#a8a8a8" stroke-width="0.5"/>
<rect x="317.58" y="386.81" width="13.16" height="11.93" fill="#38a68d" stroke="#a8a8a8" stroke-width="0.5"/>
<rect x="330.74" y="386.81" width="13.16" height="11.93" fill="#38a68d" stroke="#a8a8a8" stroke-width="0.5"/>
<rect x="343.90" y="386.81" width="13.16" height="11.93" fill="#56b39e" stroke="#a8a8a8" stroke-width="0.5"/>
<rect x="357.06" y="386.81" width="13.16" height="11.93" fill="#38a68d" stroke="#a8a8a8" stroke-width="0.5"/>
<rect x="370.22" y="386.81" width="13.16" height="11.93" fill="#38a68d" stroke="#a8a8a8" stroke-width="0.5"/>
<text x="385.58" y="394.88" font-family='"Liberation Sans", sans-serif' font-size="6" text-anchor="start" fill="#222">I</text>
<rect x="212.30" y="398.74" width="13.16" height="11.93" fill="#d9464f" stroke="#a8a8a8" stroke-width="0.5"/>
<rect x="225.46" y="398.74" width="13.16" height="11.93" fill="#e2747b" stroke="#a8a8a8" stroke-width="0.5"/>
<rect x="238.62" y="398.74" width="13.16" height="11.93" fill="#d9464f" stroke="#a8a8a8" stroke-width="0.5"/>
<rect x="251.78" y="398.74" width="13.16" height="11.93" fill="#e47e84" stroke="#a8a8a8" stroke-width="0.5"/>
<rect x="264.94" y="398.74" width="13.16" height="11.93" fill="#d1ebe5" stroke="#a8a8a8" stroke-width="0.5"/>
<rect x="278.10" y="398.74" width="13.16" height="11.93" fill="#c7e6df" stroke="#a8a8a8" stroke-width="0.5"/>
<rect x="291.26" y="398.74" width="13.16" height="11.93" fill="#ffffff" stroke="#a8a8a8" stroke-width="0.5"/>
<rect x="304.42" y="398.74" width="13.16" height="11.93" fill="#38a68d" stroke="#a8a8a8" stroke-width="0.5"/>
<rect x="317.58" y="398.74" width="13.16" height="11.93" fill="#38a68d" stroke="#a8a8a8" stroke-width="0.5"/>
<rect x="330.74" y="398.74" width="13.16" height="11.93" fill="#b3ddd4" stroke="#a8a8a8" stroke-width="0.5"/>
<rect x="343.90" y="398.74" width="13.16" height="11.93" fill="#dbefea" stroke="#a8a8a8" stroke-width="0.5"/>
<rect x="357.06" y="398.74" width="13.16" height="11.93" fill="#f4c8ca" stroke="#a8a8a8" stroke-width="0.5"/>
<rect x="370.22" y="398.74" width="13.16" height="11.93" fill="#e78c92" stroke="#a8a8a8" stroke-width="0.5"/>
<text x="385.58" y="406.81" font-family='"Liberation Sans", sans-serif' font-size="6" text-anchor="start" fill="#222">K</text>
<rect x="212.30" y="410.67" width="13.16" height="11.93" fill="#38a68d" stroke="#a8a8a8" stroke-width="0.5"/>
<rect x="225.46" y="410.67" width="13.16" height="11.93" fill="#bfe3db" stroke="#a8a8a8" stroke-width="0.5"/>
<rect x="238.62" y="410.67" width="13.16" height="11.93" fill="#38a68d" stroke="#a8a8a8" stroke-width="0.5"/>
<rect x="251.78" y="410.67" width="13.16" height="11.93" fill="#38a68d" stroke="#a8a8a8" stroke-width="0.5"/>
<rect x="264.94" y="410.67" width="13.16" height="11.93" fill="#38a68d" stroke="#a8a8a8" stroke-width="0.5"/>
<rect x="278.10" y="410.67" width="13.16" height="11.93" fill="#38a68d" stroke="#a8a8a8" stroke-width="0.5"/>
<rect x="291.26" y="410.67" width="13.16" height="11.93" fill="#ffffff" stroke="#a8a8a8" stroke-width="0.5"/>
<rect x="304.42" y="410.67" width="13.16" height="11.93" fill="#38a68d" stroke="#a8a8a8" stroke-width="0.5"/>
<rect x="317.58" y="410.67" width="13.16" height="11.93" fill="#38a68d" stroke="#a8a8a8" stroke-width="0.5"/>
<rect x="330.74" y="410.67" width="13.16" height="11.93" fill="#38a68d" stroke="#a8a8a8" stroke-width="0.5"/>
<rect x="343.90" y="410.67" width="13.16" height="11.93" fill="#74c1af" stroke="#a8a8a8" stroke-width="0.5"/>
<rect x="357.06" y="410.67" width="13.16" height="11.93" fill="#38a68d" stroke="#a8a8a8" stroke-width="0.5"/>
<rect x="370.22" y="410.67" width="13.16" height="11.93" fill="#38a68d" stroke="#a8a8a8" stroke-width="0.5"/>
<text x="385.58" y="418.74" font-family='"Liberation Sans", sans-serif' font-size="6" text-anchor="start" fill="#222">L</text>
<rect x="212.30" y="422.60" width="13.16" height="11.93" fill="#a5d7cc" stroke="#a8a8a8" stroke-width="0.5"/>
<rect x="225.46" y="422.60" width="13.16" height="11.93" fill="#88cabb" stroke="#a8a8a8" stroke-width="0.5"/>
<rect x="238.62" y="422.60" width="13.16" height="11.93" fill="#38a68d" stroke="#a8a8a8" stroke-width="0.5"/>
<rect x="251.78" y="422.60" width="13.16" height="11.93" fill="#38a68d" stroke="#a8a8a8" stroke-width="0.5"/>
<rect x="264.94" y="422.60" width="13.16" height="11.93" fill="#38a68d" stroke="#a8a8a8" stroke-width="0.5"/>
<rect x="278.10" y="422.60" width="13.16" height="11.93" fill="#38a68d" stroke="#a8a8a8" stroke-width="0.5"/>
<rect x="291.26" y="422.60" width="13.16" height="11.93" fill="#ffffff" stroke="#a8a8a8" stroke-width="0.5"/>
<rect x="304.42" y="422.60" width="13.16" height="11.93" fill="#4caf98" stroke="#a8a8a8" stroke-width="0.5"/>
<rect x="317.58" y="422.60" width="13.16" height="11.93" fill="#38a68d" stroke="#a8a8a8" stroke-width="0.5"/>
<rect x="330.74" y="422.60" width="13.16" height="11.93" fill="#38a68d" stroke="#a8a8a8" stroke-width="0.5"/>
<rect x="343.90" y="422.60" width="13.16" height="11.93" fill="#38a68d" stroke="#a8a8a8" stroke-width="0.5"/>
<rect x="357.06" y="422.60" width="13.16" height="11.93" fill="#88cabb" stroke="#a8a8a8" stroke-width="0.5"/>
<rect x="370.22" y="422.60" width="13.16" height="11.93" fill="#38a68d" stroke="#a8a8a8" stroke-width="0.5"/>
<text x="385.58" y="430.67" font-family='"Liberation Sans", sans-serif' font-size="6" text-anchor="start" fill="#222">M</text>
<rect x="212.30" y="434.53" width="13.16" height="11.93" fill="#dbefea" stroke="#a8a8a8" stroke-width="0.5"/>
<rect x="225.46" y="434.53" width="13.16" height="11.93" fill="#38a68d" stroke="#a8a8a8" stroke-width="0.5"/>
<rect x="238.62" y="434.53" width="13.16" height="11.93" fill="#88cabb" stroke="#a8a8a8" stroke-width="0.5"/>
<rect x="251.78" y="434.53" width="13.16" height="11.93" fill="#38a68d" stroke="#a8a8a8" stroke-width="0.5"/>
<rect x="264.94" y="434.53" width="13.16" height="11.93" fill="#9cd2c6" stroke="#a8a8a8" stroke-width="0.5"/>
<rect x="278.10" y="434.53" width="13.16" height="11.93" fill="#ffffff" stroke="#a8a8a8" stroke-width="0.5"/>
<rect x="291.26" y="434.53" width="13.16" height="11.93" fill="#ffffff" stroke="#a8a8a8" stroke-width="0.5"/>
<rect x="304.42" y="434.53" width="13.16" height="11.93" fill="#38a68d" stroke="#a8a8a8" stroke-width="0.5"/>
<rect x="317.58" y="434.53" width="13.16" height="11.93" fill="#38a68d" stroke="#a8a8a8" stroke-width="0.5"/>
<rect x="330.74" y="434.53" width="13.16" height="11.93" fill="#74c1af" stroke="#a8a8a8" stroke-width="0.5"/>
<rect x="343.90" y="434.53" width="13.16" height="11.93" fill="#38a68d" stroke="#a8a8a8" stroke-width="0.5"/>
<rect x="357.06" y="434.53" width="13.16" height="11.93" fill="#6abcaa" stroke="#a8a8a8" stroke-width="0.5"/>
<rect x="370.22" y="434.53" width="13.16" height="11.93" fill="#38a68d" stroke="#a8a8a8" stroke-width="0.5"/>
<text x="385.58" y="442.59" font-family='"Liberation Sans", sans-serif' font-size="6" text-anchor="start" fill="#222">N</text>
<rect x="212.30" y="446.46" width="13.16" height="11.93" fill="#d9464f" stroke="#a8a8a8" stroke-width="0.5"/>
<rect x="225.46" y="446.46" width="13.16" height="11.93" fill="#e2747b" stroke="#a8a8a8" stroke-width="0.5"/>
<rect x="238.62" y="446.46" width="13.16" height="11.93" fill="#f4cbce" stroke="#a8a8a8" stroke-width="0.5"/>
<rect x="251.78" y="446.46" width="13.16" height="11.93" fill="#ffffff" stroke="#a8a8a8" stroke-width="0.5"/>
<rect x="264.94" y="446.46" width="13.16" height="11.93" fill="#d9464f" stroke="#a8a8a8" stroke-width="0.5"/>
<rect x="278.10" y="446.46" width="13.16" height="11.93" fill="#f7d6d8" stroke="#a8a8a8" stroke-width="0.5"/>
<rect x="291.26" y="446.46" width="13.16" height="11.93" fill="#ffffff" stroke="#a8a8a8" stroke-width="0.5"/>
<rect x="304.42" y="446.46" width="13.16" height="11.93" fill="#d9464f" stroke="#a8a8a8" stroke-width="0.5"/>
<rect x="317.58" y="446.46" width="13.16" height="11.93" fill="#d9464f" stroke="#a8a8a8" stroke-width="0.5"/>
<rect x="330.74" y="446.46" width="13.16" height="11.93" fill="#e6878d" stroke="#a8a8a8" stroke-width="0.5"/>
<rect x="343.90" y="446.46" width="13.16" height="11.93" fill="#fdf4f4" stroke="#a8a8a8" stroke-width="0.5"/>
<rect x="357.06" y="446.46" width="13.16" height="11.93" fill="#d9464f" stroke="#a8a8a8" stroke-width="0.5"/>
<rect x="370.22" y="446.46" width="13.16" height="11.93" fill="#d9464f" stroke="#a8a8a8" stroke-width="0.5"/>
<text x="385.58" y="454.53" font-family='"Liberation Sans", sans-serif' font-size="6" text-anchor="start" fill="#222">P</text>
<rect x="212.30" y="458.39" width="13.16" height="11.93" fill="#ffffff" stroke="#a8a8a8" stroke-width="0.5"/>
<rect x="225.46" y="458.39" width="13.16" height="11.93" fill="#eff8f6" stroke="#a8a8a8" stroke-width="0.5"/>
<rect x="238.62" y="458.39" width="13.16" height="11.93" fill="#ffffff" stroke="#a8a8a8" stroke-width="0.5"/>
<rect x="251.78" y="458.39" width="13.16" height="11.93" fill="#38a68d" stroke="#a8a8a8" stroke-width="0.5"/>
<rect x="264.94" y="458.39" width="13.16" height="11.93" fill="#f2c2c5" stroke="#a8a8a8" stroke-width="0.5"/>
<rect x="278.10" y="458.39" width="13.16" height="11.93" fill="#ffffff" stroke="#a8a8a8" stroke-width="0.5"/>
<rect x="291.26" y="458.39" width="13.16" height="11.93" fill="#ffffff" stroke="#a8a8a8" stroke-width="0.5"/>
<rect x="304.42" y="458.39" width="13.16" height="11.93" fill="#38a68d" stroke="#a8a8a8" stroke-width="0.5"/>
<rect x="317.58" y="458.39" width="13.16" height="11.93" fill="#38a68d" stroke="#a8a8a8" stroke-width="0.5"/>
<rect x="330.74" y="458.39" width="13.16" height="11.93" fill="#38a68d" stroke="#a8a8a8" stroke-width="0.5"/>
<rect x="343.90" y="458.39" width="13.16" height="11.93" fill="#38a68d" stroke="#a8a8a8" stroke-width="0.5"/>
<rect x="357.06" y="458.39" width="13.16" height="11.93" fill="#bde2d9" stroke="#a8a8a8" stroke-width="0.5"/>
<rect x="370.22" y="458.39" width="13.16" height="11.93" fill="#bde2d9" stroke="#a8a8a8" stroke-width="0.5"/>
<text x="385.58" y="466.45" font-family='"Liberation Sans", sans-serif' font-size="6" text-anchor="start" fill="#222">Q</text>
<rect x="212.30" y="470.32" width="13.16" height="11.93" fill="#d9464f" stroke="#a8a8a8" stroke-width="0.5"/>
<rect x="225.46" y="470.32" width="13.16" height="11.93" fill="#d9464f" stroke="#a8a8a8" stroke-width="0.5"/>
<rect x="238.62" y="470.32" width="13.16" height="11.93" fill="#d9464f" stroke="#a8a8a8" stroke-width="0.5"/>
<rect x="251.78" y="470.32" width="13.16" height="11.93" fill="#d9464f" stroke="#a8a8a8" stroke-width="0.5"/>
<rect x="264.94" y="470.32" width="13.16" height="11.93" fill="#d9464f" stroke="#a8a8a8" stroke-width="0.5"/>
<rect x="278.10" y="470.32" width="13.16" height="11.93" fill="#d9464f" stroke="#a8a8a8" stroke-width="0.5"/>
<rect x="291.26" y="470.32" width="13.16" height="11.93" fill="#ffffff" stroke="#a8a8a8" stroke-width="0.5"/>
<rect x="304.42" y="470.32" width="13.16" height="11.93" fill="#38a68d" stroke="#a8a8a8" stroke-width="0.5"/>
<rect x="317.58" y="470.32" width="13.16" height="11.93" fill="#afdbd1" stroke="#a8a8a8" stroke-width="0.5"/>
<rect x="330.74" y="470.32" width="13.16" height="11.93" fill="#d9464f" stroke="#a8a8a8" stroke-width="0.5"/>
<rect x="343.90" y="470.32" width="13.16" height="11.93" fill="#f2c2c5" stroke="#a8a8a8" stroke-width="0.5"/>
<rect x="357.06" y="470.32" width="13.16" height="11.93" fill="#d9464f" stroke="#a8a8a8" stroke-width="0.5"/>
<rect x="370.22" y="470.32" width="13.16" height="11.93" fill="#d9464f" stroke="#a8a8a8" stroke-width="0.5"/>
<text x="385.58" y="478.38" font-family='"Liberation Sans", sans-serif' font-size="6" text-anchor="start" fill="#222">R</text>
<rect x="212.30" y="482.25" width="13.16" height="11.93" fill="#d9464f" stroke="#a8a8a8" stroke-width="0.5"/>
<rect x="225.46" y="482.25" width="13.16" height="11.93" fill="#f8dedf" stroke="#a8a8a8" stroke-width="0.5"/>
<rect x="238.62" y="482.25" width="13.16" height="11.93" fill="#d9464f" stroke="#a8a8a8" stroke-width="0.5"/>
<rect x="251.78" y="482.25" width="13.16" height="11.93" fill="#eca2a7" stroke="#a8a8a8" stroke-width="0.5"/>
<rect x="264.94" y="482.25" width="13.16" height="11.93" fill="#d9464f" stroke="#a8a8a8" stroke-width="0.5"/>
<rect x="278.10" y="482.25" width="13.16" height="11.93" fill="#d7ede8" stroke="#a8a8a8" stroke-width="0.5"/>
<rect x="291.26" y="482.25" width="13.16" height="11.93" fill="#ffffff" stroke="#a8a8a8" stroke-width="0.5"/>
<rect x="304.42" y="482.25" width="13.16" height="11.93" fill="#38a68d" stroke="#a8a8a8" stroke-width="0.5"/>
<rect x="317.58" y="482.25" width="13.16" height="11.93" fill="#d9464f" stroke="#a8a8a8" stroke-width="0.5"/>
<rect x="330.74" y="482.25" width="13.16" height="11.93" fill="#d9464f" stroke="#a8a8a8" stroke-width="0.5"/>
<rect x="343.90" y="482.25" width="13.16" height="11.93" fill="#d9464f" stroke="#a8a8a8" stroke-width="0.5"/>
<rect x="357.06" y="482.25" width="13.16" height="11.93" fill="#efafb3" stroke="#a8a8a8" stroke-width="0.5"/>
<rect x="370.22" y="482.25" width="13.16" height="11.93" fill="#d9464f" stroke="#a8a8a8" stroke-width="0.5"/>
<text x="385.58" y="490.31" font-family='"Liberation Sans", sans-serif' font-size="6" text-anchor="start" fill="#222">S</text>
<rect x="212.30" y="494.18" width="13.16" height="11.93" fill="#ffffff" stroke="#a8a8a8" stroke-width="0.5"/>
<rect x="225.46" y="494.18" width="13.16" height="11.93" fill="#c3e4dd" stroke="#a8a8a8" stroke-width="0.5"/>
<rect x="238.62" y="494.18" width="13.16" height="11.93" fill="#edf7f5" stroke="#a8a8a8" stroke-width="0.5"/>
<rect x="251.78" y="494.18" width="13.16" height="11.93" fill="#38a68d" stroke="#a8a8a8" stroke-width="0.5"/>
<rect x="264.94" y="494.18" width="13.16" height="11.93" fill="#ffffff" stroke="#a8a8a8" stroke-width="0.5"/>
<rect x="278.10" y="494.18" width="13.16" height="11.93" fill="#38a68d" stroke="#a8a8a8" stroke-width="0.5"/>
<rect x="291.26" y="494.18" width="13.16" height="11.93" fill="#ffffff" stroke="#a8a8a8" stroke-width="0.5"/>
<rect x="304.42" y="494.18" width="13.16" height="11.93" fill="#38a68d" stroke="#a8a8a8" stroke-width="0.5"/>
<rect x="317.58" y="494.18" width="13.16" height="11.93" fill="#fbebec" stroke="#a8a8a8" stroke-width="0.5"/>
<rect x="330.74" y="494.18" width="13.16" height="11.93" fill="#38a68d" stroke="#a8a8a8" stroke-width="0.5"/>
<rect x="343.90" y="494.18" width="13.16" height="11.93" fill="#edf7f5" stroke="#a8a8a8" stroke-width="0.5"/>
<rect x="357.06" y="494.18" width="13.16" height="11.93" fill="#bde2d9" stroke="#a8a8a8" stroke-width="0.5"/>
<rect x="370.22" y="494.18" width="13.16" height="11.93" fill="#d7ede8" stroke="#a8a8a8" stroke-width="0.5"/>
<text x="385.58" y="502.25" font-family='"Liberation Sans", sans-serif' font-size="6" text-anchor="start" fill="#222">T</text>
<rect x="212.30" y="506.11" width="13.16" height="11.93" fill="#38a68d" stroke="#a8a8a8" stroke-width="0.5"/>
<rect x="225.46" y="506.11" width="13.16" height="11.93" fill="#38a68d" stroke="#a8a8a8" stroke-width="0.5"/>
<rect x="238.62" y="506.11" width="13.16" height="11.93" fill="#7ec5b5" stroke="#a8a8a8" stroke-width="0.5"/>
<rect x="251.78" y="506.11" width="13.16" height="11.93" fill="#38a68d" stroke="#a8a8a8" stroke-width="0.5"/>
<rect x="264.94" y="506.11" width="13.16" height="11.93" fill="#38a68d" stroke="#a8a8a8" stroke-width="0.5"/>
<rect x="278.10" y="506.11" width="13.16" height="11.93" fill="#38a68d" stroke="#a8a8a8" stroke-width="0.5"/>
<rect x="291.26" y="506.11" width="13.16" height="11.93" fill="#ffffff" stroke="#a8a8a8" stroke-width="0.5"/>
<rect x="304.42" y="506.11" width="13.16" height="11.93" fill="#38a68d" stroke="#a8a8a8" stroke-width="0.5"/>
<rect x="317.58" y="506.11" width="13.16" height="11.93" fill="#38a68d" stroke="#a8a8a8" stroke-width="0.5"/>
<rect x="330.74" y="506.11" width="13.16" height="11.93" fill="#38a68d" stroke="#a8a8a8" stroke-width="0.5"/>
<rect x="343.90" y="506.11" width="13.16" height="11.93" fill="#38a68d" stroke="#a8a8a8" stroke-width="0.5"/>
<rect x="357.06" y="506.11" width="13.16" height="11.93" fill="#38a68d" stroke="#a8a8a8" stroke-width="0.5"/>
<rect x="370.22" y="506.11" width="13.16" height="11.93" fill="#38a68d" stroke="#a8a8a8" stroke-width="0.5"/>
<text x="385.58" y="514.18" font-family='"Liberation Sans", sans-serif' font-size="6" text-anchor="start" fill="#222">V</text>
<rect x="212.30" y="518.04" width="13.16" height="11.93" fill="#38a68d" stroke="#a8a8a8" stroke-width="0.5"/>
<rect x="225.46" y="518.04" width="13.16" height="11.93" fill="#38a68d" stroke="#a8a8a8" stroke-width="0.5"/>
<rect x="238.62" y="518.04" width="13.16" height="11.93" fill="#38a68d" stroke="#a8a8a8" stroke-width="0.5"/>
<rect x="251.78" y="518.04" width="13.16" height="11.93" fill="#38a68d" stroke="#a8a8a8" stroke-width="0.5"/>
<rect x="264.94" y="518.04" width="13.16" height="11.93" fill="#38a68d" stroke="#a8a8a8" stroke-width="0.5"/>
<rect x="278.10" y="518.04" width="13.16" height="11.93" fill="#38a68d" stroke="#a8a8a8" stroke-width="0.5"/>
<rect x="291.26" y="518.04" width="13.16" height="11.93" fill="#ffffff" stroke="#a8a8a8" stroke-width="0.5"/>
<rect x="304.42" y="518.04" width="13.16" height="11.93" fill="#38a68d" stroke="#a8a8a8" stroke-width="0.5"/>
<rect x="317.58" y="518.04" width="13.16" height="11.93" fill="#38a68d" stroke="#a8a8a8" stroke-width="0.5"/>
<rect x="330.74" y="518.04" width="13.16" height="11.93" fill="#38a68d" stroke="#a8a8a8" stroke-width="0.5"/>
<rect x="343.90" y="518.04" width="13.16" height="11.93" fill="#38a68d" stroke="#a8a8a8" stroke-width="0.5"/>
<rect x="357.06" y="518.04" width="13.16" height="11.93" fill="#38a68d" stroke="#a8a8a8" stroke-width="0.5"/>
<rect x="370.22" y="518.04" width="13.16" height="11.93" fill="#38a68d" stroke="#a8a8a8" stroke-width="0.5"/>
<text x="385.58" y="526.11" font-family='"Liberation Sans", sans-serif' font-size="6" text-anchor="start" fill="#222">W</text>
<rect x="212.30" y="529.97" width="13.16" height="11.93" fill="#38a68d" stroke="#a8a8a8" stroke-width="0.5"/>
<rect x="225.46" y="529.97" width="13.16" height="11.93" fill="#5cb6a2" stroke="#a8a8a8" stroke-width="0.5"/>
<rect x="238.62" y="529.97" width="13.16" height="11.93" fill="#38a68d" stroke="#a8a8a8" stroke-width="0.5"/>
<rect x="251.78" y="529.97" width="13.16" height="11.93" fill="#38a68d" stroke="#a8a8a8" stroke-width="0.5"/>
<rect x="264.94" y="529.97" width="13.16" height="11.93" fill="#88cabb" stroke="#a8a8a8" stroke-width="0.5"/>
<rect x="278.10" y="529.97" width="13.16" height="11.93" fill="#60b8a4" stroke="#a8a8a8" stroke-width="0.5"/>
<rect x="291.26" y="529.97" width="13.16" height="11.93" fill="#ffffff" stroke="#a8a8a8" stroke-width="0.5"/>
<rect x="304.42" y="529.97" width="13.16" height="11.93" fill="#38a68d" stroke="#a8a8a8" stroke-width="0.5"/>
<rect x="317.58" y="529.97" width="13.16" height="11.93" fill="#38a68d" stroke="#a8a8a8" stroke-width="0.5"/>
<rect x="330.74" y="529.97" width="13.16" height="11.93" fill="#38a68d" stroke="#a8a8a8" stroke-width="0.5"/>
<rect x="343.90" y="529.97" width="13.16" height="11.93" fill="#38a68d" stroke="#a8a8a8" stroke-width="0.5"/>
<rect x="357.06" y="529.97" width="13.16" height="11.93" fill="#38a68d" stroke="#a8a8a8" stroke-width="0.5"/>
<rect x="370.22" y="529.97" width="13.16" height="11.93" fill="#60b8a4" stroke="#a8a8a8" stroke-width="0.5"/>
<text x="385.58" y="538.04" font-family='"Liberation Sans", sans-serif' font-size="6" text-anchor="start" fill="#222">Y</text>
<defs><linearGradient id="cb" x1="0" y1="0" x2="0" y2="1"><stop offset="0" stop-color="#d9464f"/><stop offset="0.25" stop-color="#eca2a7"/><stop offset="0.5" stop-color="#ffffff"/><stop offset="0.75" stop-color="#9cd2c6"/><stop offset="1" stop-color="#38a68d"/></linearGradient></defs>
<rect x="135.2" y="291" width="5.8" height="89.2" fill="url(#cb)"/>
<text x="143.80" y="293.60" font-family='"Liberation Sans", sans-serif' font-size="6" text-anchor="start" fill="#222">10</text>
<text x="143.80" y="315.80" font-family='"Liberation Sans", sans-serif' font-size="6" text-anchor="start" fill="#222">5</text>
<text x="143.80" y="338.10" font-family='"Liberation Sans", sans-serif' font-size="6" text-anchor="start" fill="#222">0</text>
<text x="143.80" y="360.30" font-family='"Liberation Sans", sans-serif' font-size="6" text-anchor="start" fill="#222">-5</text>
<text x="143.80" y="382.60" font-family='"Liberation Sans", sans-serif' font-size="6" text-anchor="start" fill="#222">-10</text>
<text x="153.60" y="295.60" font-family='"Liberation Sans", sans-serif' font-size="6.2" font-weight="bold" text-anchor="start" fill="#111">Distance</text>
<rect x="153.8" y="297.70" width="8.2" height="8.2" fill="#3f74ae" stroke="#bbb" stroke-width="0.4"/>
<rect x="153.8" y="305.90" width="8.2" height="8.2" fill="#82a6cc" stroke="#bbb" stroke-width="0.4"/>
<rect x="153.8" y="314.10" width="8.2" height="8.2" fill="#bdd0e5" stroke="#bbb" stroke-width="0.4"/>
<rect x="153.8" y="322.30" width="8.2" height="8.2" fill="#ffffff" stroke="#bbb" stroke-width="0.4"/>
<text x="164.20" y="304.50" font-family='"Liberation Sans", sans-serif' font-size="6" text-anchor="start" fill="#222">6</text>
<text x="164.20" y="329.80" font-family='"Liberation Sans", sans-serif' font-size="6" text-anchor="start" fill="#222">0</text>
<text x="153.60" y="342.70" font-family='"Liberation Sans", sans-serif' font-size="6.2" font-weight="bold" text-anchor="start" fill="#111">Position</text>
<rect x="153.6" y="345.10" width="8.5" height="8.5" fill="#DD7C30" stroke="#bbb" stroke-width="0.4"/>
<text x="164.00" y="351.40" font-family='"Liberation Sans", sans-serif' font-size="6" text-anchor="start" fill="#222">Upstream</text>
<rect x="153.6" y="353.60" width="8.5" height="8.5" fill="#6ABD6B" stroke="#bbb" stroke-width="0.4"/>
<text x="164.00" y="359.90" font-family='"Liberation Sans", sans-serif' font-size="6" text-anchor="start" fill="#222">Downstream</text>
<rect x="153.6" y="362.10" width="8.5" height="8.5" fill="#C2CBAE" stroke="#bbb" stroke-width="0.4"/>
<text x="164.00" y="368.40" font-family='"Liberation Sans", sans-serif' font-size="6" text-anchor="start" fill="#222">Modification site</text>
<text x="0" y="0" font-family='"Liberation Serif", serif' font-size="11.3" font-weight="bold" fill="#111" transform="translate(441.7,276.0) scale(1,1.13)">E</text>
<line x1="466.6" x2="466.6" y1="298.2" y2="490.6" stroke="#222" stroke-width="0.7"/>
<line x1="466.3" x2="601.6" y1="490.4" y2="490.4" stroke="#222" stroke-width="0.7"/>
<line x1="465" x2="466.6" y1="482.60" y2="482.60" stroke="#333" stroke-width="0.4"/>
<text x="463.80" y="484.30" font-family='"Liberation Serif", serif' font-size="4.9" text-anchor="end" fill="#333">0</text>
<line x1="465" x2="466.6" y1="432.60" y2="432.60" stroke="#333" stroke-width="0.4"/>
<text x="463.80" y="434.30" font-family='"Liberation Serif", serif' font-size="4.9" text-anchor="end" fill="#333">2</text>
<line x1="465" x2="466.6" y1="382.60" y2="382.60" stroke="#333" stroke-width="0.4"/>
<text x="463.80" y="384.30" font-family='"Liberation Serif", serif' font-size="4.9" text-anchor="end" fill="#333">4</text>
<line x1="465" x2="466.6" y1="332.60" y2="332.60" stroke="#333" stroke-width="0.4"/>
<text x="463.80" y="334.30" font-family='"Liberation Serif", serif' font-size="4.9" text-anchor="end" fill="#333">6</text>
<line x1="471.30" x2="471.30" y1="490.4" y2="492" stroke="#333" stroke-width="0.4"/>
<text x="471.30" y="498.00" font-family='"Liberation Serif", serif' font-size="4.9" text-anchor="middle" fill="#333">-3</text>
<line x1="492.40" x2="492.40" y1="490.4" y2="492" stroke="#333" stroke-width="0.4"/>
<text x="492.40" y="498.00" font-family='"Liberation Serif", serif' font-size="4.9" text-anchor="middle" fill="#333">-2</text>
<line x1="513.50" x2="513.50" y1="490.4" y2="492" stroke="#333" stroke-width="0.4"/>
<text x="513.50" y="498.00" font-family='"Liberation Serif", serif' font-size="4.9" text-anchor="middle" fill="#333">-1</text>
<line x1="534.60" x2="534.60" y1="490.4" y2="492" stroke="#333" stroke-width="0.4"/>
<text x="534.60" y="498.00" font-family='"Liberation Serif", serif' font-size="4.9" text-anchor="middle" fill="#333">0</text>
<line x1="555.70" x2="555.70" y1="490.4" y2="492" stroke="#333" stroke-width="0.4"/>
<text x="555.70" y="498.00" font-family='"Liberation Serif", serif' font-size="4.9" text-anchor="middle" fill="#333">1</text>
<line x1="576.80" x2="576.80" y1="490.4" y2="492" stroke="#333" stroke-width="0.4"/>
<text x="576.80" y="498.00" font-family='"Liberation Serif", serif' font-size="4.9" text-anchor="middle" fill="#333">2</text>
<line x1="597.90" x2="597.90" y1="490.4" y2="492" stroke="#333" stroke-width="0.4"/>
<text x="597.90" y="498.00" font-family='"Liberation Serif", serif' font-size="4.9" text-anchor="middle" fill="#333">3</text>
<text x="534" y="506.8" font-family='"Liberation Serif", serif' font-size="6.6" text-anchor="middle" fill="#222">Log2 <tspan font-style="italic">Tbk1</tspan><tspan font-size="3.5" dy="-2.4" font-style="italic">-/-/C</tspan><tspan dy="2.4"> vs </tspan><tspan font-style="italic">Tbk1</tspan><tspan font-size="3.5" dy="-2.4" font-style="italic">f/f</tspan></text>
<text x="457.00" y="394.20" font-family='"Liberation Serif", serif' font-size="7.3" text-anchor="middle" fill="#222" transform="rotate(-90.00 457.00 394.20)">-log10 P value</text>
<text x="605.40" y="304.30" font-family='"Liberation Serif", serif' font-size="6.9" font-weight="bold" text-anchor="start" fill="#111">Regulated Type</text>
<circle cx="609.8" cy="315.00" r="1.1" fill="#3DAE85"/>
<text x="616.00" y="317.30" font-family='"Liberation Serif", serif' font-size="7" text-anchor="start" fill="#222">Down</text>
<circle cx="609.8" cy="325.30" r="1.1" fill="#BEBEBE"/>
<text x="616.00" y="327.60" font-family='"Liberation Serif", serif' font-size="7" text-anchor="start" fill="#222">None</text>
<circle cx="609.8" cy="335.60" r="1.1" fill="#EE7A48"/>
<text x="616.00" y="337.90" font-family='"Liberation Serif", serif' font-size="7" text-anchor="start" fill="#222">Up</text>
<path d="M536.7 477.4h0M533.3 479.6h0M533.9 480.7h0M538.7 478.4h0M536.9 480.3h0M535.7 480.9h0M536.7 472.8h0M537.8 477.6h0M530.3 456.5h0M533.1 477.9h0M534.3 482.2h0M530.5 475.8h0M536.8 478.8h0M540.5 457.1h0M542.5 467.4h0M532.0 474.5h0M534.2 481.7h0M536.3 480.3h0M531.0 471.3h0M539.0 466.9h0M535.4 480.3h0M525.6 461.9h0M540.9 465.4h0M533.9 479.5h0M531.0 473.4h0M534.2 482.1h0M536.8 473.2h0M541.3 471.5h0M539.1 479.1h0M528.1 465.5h0M530.4 476.2h0M529.9 466.2h0M533.0 477.2h0M535.2 480.4h0M541.7 476.6h0M528.7 436.7h0M530.3 474.5h0M537.4 471.0h0M536.1 481.2h0M537.0 478.3h0M543.2 476.1h0M538.1 477.0h0M537.9 465.8h0M539.2 477.2h0M533.1 475.9h0M520.2 455.0h0M539.0 470.3h0M539.0 459.4h0M533.6 481.3h0M538.3 475.7h0M540.4 468.2h0M533.2 478.5h0M534.8 482.4h0M537.6 471.5h0M529.0 478.2h0M534.2 481.4h0M533.3 479.8h0M522.3 470.2h0M521.0 466.1h0M536.7 475.9h0M543.0 472.8h0M535.4 481.3h0M537.6 476.6h0M535.8 480.0h0M534.6 482.6h0M538.9 476.7h0M540.9 479.5h0M533.2 479.0h0M538.9 471.8h0M536.1 478.9h0M535.3 480.4h0M536.0 480.4h0M537.1 475.6h0M531.7 477.3h0M541.8 479.2h0M534.2 481.7h0M534.3 482.1h0M533.6 477.7h0M524.1 467.8h0M538.9 471.4h0M546.6 461.9h0M533.7 479.2h0M537.1 476.0h0M520.9 462.7h0M523.9 461.8h0M540.8 467.4h0M535.4 480.9h0M535.7 481.3h0M541.5 461.0h0M531.9 479.8h0M532.4 480.1h0M538.2 474.9h0M538.0 475.8h0M530.7 461.5h0M528.0 471.2h0M530.2 462.3h0M542.7 474.4h0M522.8 471.6h0M529.2 468.3h0M546.6 459.9h0M539.5 460.5h0M533.0 481.0h0M537.9 463.5h0M531.9 476.3h0M537.0 478.6h0M521.5 470.3h0M549.2 461.9h0M532.4 481.0h0M538.0 470.3h0M535.2 481.5h0M531.4 480.2h0M533.7 478.8h0M536.6 473.4h0M531.1 476.2h0M538.5 473.2h0M541.1 465.0h0M539.3 470.0h0M537.6 472.5h0M532.0 469.3h0M537.1 469.5h0M534.6 482.5h0M534.5 482.4h0M535.4 480.5h0M535.3 482.2h0M541.1 470.6h0M529.3 466.2h0M538.4 469.4h0M533.1 476.3h0M541.7 473.7h0M538.4 473.6h0M528.5 467.7h0M533.0 475.8h0M529.8 476.7h0M532.2 474.0h0M534.3 481.6h0M535.6 479.1h0M535.3 479.5h0M527.9 452.0h0M532.6 480.0h0M532.7 472.5h0M532.0 478.0h0M540.3 474.4h0M536.9 479.5h0M542.1 475.5h0M545.4 465.3h0M532.7 477.9h0M536.7 475.2h0M532.5 481.5h0M540.5 472.1h0M534.3 481.8h0M539.2 473.3h0M533.7 480.8h0M533.5 479.1h0M535.4 481.7h0M531.9 473.0h0M537.9 477.8h0M541.0 478.4h0M537.0 477.3h0M537.0 470.1h0M530.6 475.0h0M532.8 475.5h0M535.6 480.9h0M530.9 471.0h0M530.8 464.7h0M549.5 470.8h0M548.0 473.5h0M535.4 480.2h0M532.9 474.4h0M537.0 477.3h0M534.2 481.5h0M536.9 479.0h0M536.0 480.7h0M537.7 473.8h0M530.6 473.3h0M534.6 482.6h0M535.3 481.2h0M535.4 481.0h0M529.1 466.3h0M541.0 469.8h0M533.4 480.9h0M528.7 471.2h0M534.7 482.1h0M536.9 474.5h0M526.9 433.4h0M539.3 460.1h0M529.3 464.2h0M536.3 477.3h0M535.7 481.0h0M543.6 474.9h0M537.4 476.4h0M548.7 471.1h0M524.8 469.3h0M537.8 474.6h0M538.9 469.5h0M540.7 472.0h0M532.3 480.6h0M538.0 472.6h0M534.7 482.5h0M535.1 480.9h0M541.2 468.5h0M534.8 482.4h0M538.9 477.1h0M534.9 482.1h0M537.4 475.2h0M532.7 475.9h0M527.7 462.4h0M527.0 450.4h0M536.5 476.7h0M534.2 482.1h0M528.7 463.3h0M543.2 477.4h0M526.2 472.4h0M526.8 454.8h0M541.7 471.6h0M534.5 482.2h0M522.5 456.1h0M532.0 469.6h0M529.7 463.6h0M535.8 480.3h0M539.5 475.0h0M549.6 467.9h0M533.2 477.5h0M531.4 469.4h0M534.6 482.6h0M524.6 459.9h0M534.5 482.4h0M533.3 479.7h0M531.1 474.2h0M537.2 479.2h0M531.6 475.4h0M534.7 482.3h0M535.1 480.8h0M527.6 464.1h0M533.3 479.6h0M538.4 476.2h0M530.7 472.9h0M534.3 482.0h0M536.8 479.8h0M530.1 464.5h0M531.7 474.5h0M534.3 481.6h0M535.0 481.7h0M531.9 478.6h0M528.1 479.6h0M535.8 481.5h0M535.4 480.3h0M541.9 465.9h0M541.8 471.5h0M533.6 481.2h0M527.7 469.4h0M524.3 470.4h0M534.7 482.4h0M534.9 482.4h0M535.4 480.2h0M539.3 474.9h0M540.3 456.4h0M534.9 482.4h0M532.2 478.4h0M526.1 474.9h0M531.2 477.8h0M537.0 474.8h0M534.5 482.5h0M537.4 473.5h0M536.0 479.7h0M549.5 468.5h0M538.3 473.8h0M534.4 482.2h0M539.0 455.6h0M520.5 467.0h0M530.4 459.2h0M530.0 478.0h0M533.2 479.6h0M529.8 469.2h0M527.7 462.9h0M536.0 479.7h0M533.2 480.5h0M535.1 481.2h0M540.4 460.3h0M533.7 481.6h0M532.0 475.0h0M533.5 479.2h0M537.5 477.4h0M534.6 482.5h0M535.2 481.1h0M536.7 478.6h0M536.1 479.1h0M538.3 474.0h0M532.5 472.4h0M529.7 470.1h0M536.5 476.0h0M536.8 475.9h0M536.9 479.7h0M533.9 481.7h0M534.5 482.3h0M531.3 477.2h0M537.9 474.3h0M536.6 475.8h0M525.1 476.9h0M533.8 481.3h0M538.8 479.6h0M528.9 475.1h0M534.6 482.5h0M538.1 462.9h0M520.1 456.4h0M533.6 481.4h0M536.8 479.1h0M534.1 480.7h0M527.2 476.6h0M530.5 464.4h0M535.5 479.4h0M541.0 478.4h0M532.1 475.4h0M538.1 477.0h0M531.1 467.8h0M536.0 480.3h0M534.0 480.8h0M536.3 478.0h0M534.2 481.9h0M538.7 469.8h0M530.2 479.1h0M528.6 474.2h0M538.3 474.3h0M529.6 478.9h0M535.5 480.8h0M534.6 482.5h0M535.9 479.0h0M528.9 451.1h0M535.9 480.2h0M537.8 472.3h0M532.1 476.2h0M524.8 460.3h0M534.5 482.4h0M533.3 481.1h0M530.9 475.6h0M543.9 458.3h0M534.7 482.5h0M539.9 470.2h0M528.8 448.1h0M540.0 473.7h0M535.9 480.3h0M537.7 479.0h0M531.7 479.0h0M533.4 480.2h0M531.5 473.1h0M536.8 475.8h0M534.9 482.0h0M538.5 472.0h0M533.7 481.3h0M533.5 481.2h0M538.8 462.6h0M528.7 471.3h0M537.8 479.3h0M538.7 459.4h0M539.7 472.3h0M533.8 481.3h0M537.1 471.1h0M533.2 479.9h0M535.1 481.9h0M532.0 479.0h0M537.2 475.3h0M530.5 479.1h0M541.6 460.0h0M537.5 474.6h0M535.2 482.3h0M527.1 474.9h0M534.2 481.9h0M540.3 468.5h0M521.1 475.5h0M536.4 477.6h0M536.1 477.6h0M532.8 480.0h0M524.6 460.7h0M523.0 460.8h0M532.7 476.9h0M537.9 472.8h0M532.6 478.7h0M544.9 460.0h0M536.3 479.1h0M537.4 480.1h0M541.4 437.5h0M536.5 478.5h0M540.4 475.4h0M530.3 469.8h0M539.8 470.1h0M531.6 470.2h0M525.6 452.1h0M532.8 478.3h0M530.3 475.0h0M533.4 478.8h0M531.6 475.5h0M538.2 474.3h0M533.2 478.5h0M538.7 453.0h0M534.5 482.3h0M525.9 464.4h0M534.4 482.4h0M535.3 479.9h0M536.2 480.7h0M537.4 478.2h0M532.1 480.6h0M531.3 478.6h0M528.6 473.4h0M542.3 456.8h0M533.6 481.2h0M532.3 473.8h0M539.5 471.6h0M537.8 477.3h0M540.8 464.6h0M532.5 476.9h0M535.1 482.1h0M532.3 476.6h0M537.2 476.0h0M527.6 467.1h0M535.7 481.0h0M536.9 474.0h0M533.2 479.4h0M544.8 465.1h0M536.1 478.3h0M541.9 442.5h0M539.0 467.4h0M537.4 473.5h0M536.5 477.5h0M531.6 475.4h0M536.2 481.9h0M536.7 472.8h0M537.4 468.2h0M535.1 481.3h0M535.9 481.6h0M530.1 457.6h0M542.1 474.5h0M537.4 472.8h0M538.7 475.7h0M533.9 479.8h0M540.7 474.6h0M537.1 477.6h0M534.7 482.3h0M531.0 478.2h0M526.8 473.8h0M531.7 477.2h0M531.0 475.1h0M537.4 469.1h0M531.5 476.8h0M539.8 470.8h0M534.3 481.6h0M538.0 477.2h0M538.1 479.5h0M533.3 480.0h0M532.3 478.4h0M532.4 474.5h0M532.4 476.2h0M536.4 475.9h0M536.4 475.5h0M535.7 479.2h0M537.0 480.8h0M534.8 482.2h0M525.7 456.8h0M535.2 481.1h0M534.9 481.9h0M540.3 474.1h0M539.5 476.5h0M534.5 482.4h0M533.3 479.6h0M527.2 457.0h0M534.5 482.4h0M534.5 482.4h0M533.5 481.1h0M526.9 454.7h0M534.9 481.5h0M532.7 479.8h0M537.6 479.0h0M531.8 476.5h0M531.2 477.7h0M531.9 477.4h0M534.5 482.3h0M538.6 474.3h0M534.5 482.3h0M535.6 481.3h0M528.6 452.5h0M546.9 461.1h0M541.4 473.4h0M532.1 474.8h0M527.1 472.0h0M532.2 470.7h0M532.1 474.6h0M530.6 474.3h0M533.7 481.9h0M538.4 465.4h0M535.4 480.6h0M533.1 479.6h0M530.7 475.1h0M529.3 445.3h0M532.5 474.2h0M534.9 482.1h0M535.4 481.5h0M532.3 474.9h0M534.2 481.1h0M537.9 477.2h0M533.8 481.0h0M534.7 482.5h0M538.9 476.5h0M541.5 465.4h0M533.3 479.1h0M532.0 473.7h0M537.3 476.7h0M542.8 473.5h0M521.6 466.2h0M536.2 478.1h0M535.9 481.7h0M533.5 479.2h0M531.7 472.8h0M526.5 476.0h0M538.0 479.4h0M536.0 478.6h0M543.4 476.0h0M535.7 481.7h0M533.3 480.8h0M542.5 465.5h0M534.4 482.1h0M531.5 476.7h0M537.8 473.8h0M546.7 475.9h0M525.8 460.6h0M536.0 481.9h0M529.4 468.7h0M529.6 469.1h0M536.9 477.9h0M535.9 480.0h0M539.1 463.1h0M528.4 454.9h0M531.3 474.1h0M533.5 479.2h0M528.0 467.6h0M540.8 463.1h0M533.5 481.2h0M534.0 481.5h0M538.0 474.6h0M530.5 472.3h0M530.3 476.2h0M531.3 468.6h0M528.3 440.2h0M535.5 479.1h0M528.1 453.7h0M536.2 476.1h0M533.4 479.1h0M542.3 464.5h0M535.5 480.9h0M536.4 478.0h0M534.9 482.2h0M529.7 465.0h0M529.0 460.8h0M540.2 477.1h0M538.5 463.7h0M548.3 473.5h0M537.3 478.4h0M535.5 481.1h0M520.8 461.8h0M530.7 463.8h0M532.4 476.2h0M536.2 480.1h0M531.4 475.3h0M538.2 471.4h0M535.4 481.7h0M540.8 460.6h0M536.9 475.7h0M532.0 480.1h0M525.8 468.7h0M536.4 480.8h0M536.3 475.4h0M538.6 465.8h0M534.0 481.1h0M532.8 479.4h0M531.6 476.9h0M534.6 482.6h0M534.9 482.3h0M534.8 481.8h0M541.2 469.5h0M539.1 460.7h0M537.6 475.3h0M530.2 468.7h0M543.2 472.1h0M546.0 472.8h0M528.7 458.3h0M532.3 475.3h0M536.5 476.5h0M533.1 480.1h0M533.8 481.3h0M538.6 474.3h0M528.7 475.2h0M538.3 463.1h0M540.1 468.9h0M533.8 479.5h0M527.7 462.8h0M537.2 474.7h0M530.2 463.6h0M540.6 471.6h0M527.8 465.5h0M540.7 473.7h0M531.4 477.7h0M539.0 473.8h0M528.0 454.3h0M537.3 477.8h0M538.8 472.3h0M534.3 481.9h0M536.9 476.7h0M531.1 480.3h0M539.1 476.5h0M531.7 481.0h0M529.9 469.6h0M543.0 464.7h0M537.3 478.4h0M535.3 481.1h0M537.4 469.8h0M530.4 468.9h0M531.9 473.3h0M543.1 469.7h0M537.1 471.8h0M529.8 476.6h0M532.7 474.4h0M535.8 479.3h0M526.7 449.9h0M526.3 461.0h0M524.6 467.2h0M531.7 472.8h0M539.3 465.6h0M539.4 476.3h0M525.8 460.7h0M532.6 476.9h0M536.1 477.4h0M532.2 474.9h0M528.5 449.2h0M543.6 464.9h0M529.5 471.0h0M535.0 481.0h0M537.7 479.8h0M547.1 462.1h0M530.3 478.2h0M541.8 474.0h0M533.6 478.6h0M534.3 481.6h0M527.5 469.5h0M537.6 465.5h0M543.2 462.3h0M537.5 469.7h0M535.7 480.1h0M538.9 470.7h0M535.4 481.8h0M536.6 474.5h0M536.9 475.9h0M543.5 459.1h0M530.2 478.1h0M544.8 456.1h0M536.2 478.3h0M547.4 466.3h0M526.1 465.1h0M535.3 480.3h0M538.2 468.4h0M521.9 458.1h0M535.1 481.1h0M534.0 481.2h0M529.6 473.5h0M530.7 475.9h0M536.5 477.1h0M535.6 479.9h0M535.0 482.4h0M537.8 474.5h0M538.8 469.3h0M536.3 476.1h0M531.7 473.6h0M521.1 472.9h0M545.0 475.6h0M522.5 471.0h0M549.6 462.5h0M534.0 481.5h0M538.2 481.0h0M532.2 475.9h0M536.6 479.5h0M543.6 457.0h0M536.5 477.9h0M522.1 470.6h0M531.6 469.0h0M529.1 454.2h0M523.2 454.0h0M543.8 462.6h0M533.8 479.6h0M536.4 473.9h0M533.7 480.1h0M537.2 477.0h0M534.7 482.5h0M535.0 481.6h0M534.8 482.1h0M533.5 477.7h0M536.0 481.9h0M535.3 480.2h0M529.6 458.6h0M537.0 474.5h0M534.0 481.8h0M531.3 469.4h0M537.4 480.3h0M528.1 447.8h0M541.2 437.9h0M534.4 481.9h0M533.8 481.2h0M529.0 464.2h0M539.6 457.8h0M537.4 473.0h0M533.9 480.0h0M540.3 470.0h0M536.3 476.4h0M530.2 474.5h0M529.0 472.2h0M534.5 482.4h0M534.4 481.6h0M530.2 462.4h0M537.5 474.2h0M539.5 466.1h0M530.9 465.3h0M540.0 478.7h0M527.5 473.2h0M536.6 480.2h0M534.8 482.4h0M527.9 475.7h0M530.1 462.1h0M527.2 474.5h0M531.8 471.6h0M529.8 466.0h0M532.1 476.0h0M531.2 471.3h0M532.4 478.0h0M535.9 480.3h0M531.7 473.7h0M522.6 460.1h0M533.6 479.8h0M538.5 470.8h0M538.2 471.2h0M529.9 455.0h0M539.1 478.3h0M535.4 481.5h0M527.0 467.0h0M530.0 477.2h0M535.4 481.8h0M531.6 465.8h0M533.3 481.4h0M535.5 480.4h0M532.5 477.0h0M535.3 481.3h0M535.2 482.2h0M550.8 469.6h0M535.3 481.4h0M531.4 474.6h0M531.7 475.8h0M542.3 477.1h0M527.4 452.6h0M532.7 478.5h0M531.3 468.4h0M535.9 476.7h0M533.9 481.3h0M536.3 481.4h0M532.7 479.0h0M539.9 461.7h0M534.7 482.3h0M537.6 471.1h0M536.1 476.8h0M548.0 463.4h0M537.9 469.2h0M532.1 474.2h0M537.7 468.1h0M526.0 476.4h0M533.5 479.4h0M528.1 455.4h0M538.6 467.5h0M530.0 480.1h0M532.9 477.4h0M536.7 472.0h0M537.7 469.6h0M531.5 466.1h0M530.4 474.1h0M534.7 482.5h0M536.4 476.0h0M542.9 477.6h0M520.6 453.9h0M533.4 479.3h0M520.9 462.5h0M528.2 449.8h0M536.0 479.3h0M533.1 476.4h0M544.7 459.9h0M532.5 479.7h0M531.9 471.6h0M535.1 481.3h0M542.2 458.2h0M528.6 469.5h0M547.3 471.4h0M531.0 474.7h0M532.2 470.3h0M527.9 473.6h0M535.1 480.8h0M537.9 476.2h0M544.5 463.5h0M537.7 471.0h0M536.7 475.1h0M535.9 480.4h0M534.4 482.5h0M543.0 472.5h0M531.7 476.7h0M532.9 477.2h0M534.5 482.4h0M547.5 475.8h0M528.1 472.8h0M533.5 479.6h0M529.2 470.1h0M526.7 476.8h0M535.9 480.0h0M537.8 476.3h0M535.5 481.1h0M532.9 474.8h0M536.0 476.0h0M533.5 480.8h0M532.7 476.5h0M540.5 465.7h0M529.7 452.1h0M531.4 472.5h0M535.3 480.9h0M521.2 475.5h0M535.9 480.0h0M538.9 471.7h0M533.2 480.1h0M525.7 461.0h0M529.0 442.4h0M535.8 480.9h0M531.7 474.3h0M532.2 471.9h0M538.5 477.0h0M537.0 477.4h0M534.8 482.0h0M537.3 476.9h0M534.0 481.3h0M531.8 475.7h0M545.0 477.4h0M540.6 473.1h0M525.7 467.7h0M535.4 480.1h0M528.1 470.3h0M533.1 478.7h0M536.2 479.4h0M529.6 466.7h0M539.2 470.2h0M538.6 475.5h0M529.8 474.1h0M541.3 470.5h0M540.7 451.4h0M548.7 474.4h0M532.2 476.3h0M535.0 481.6h0M537.7 475.4h0M539.9 442.5h0M534.0 482.4h0M538.0 477.8h0M533.4 480.7h0M531.0 473.3h0M534.5 482.4h0M529.8 472.8h0M534.8 482.2h0M527.4 469.6h0M540.5 470.9h0M532.1 479.0h0M533.7 480.4h0M546.0 460.6h0M531.8 475.8h0M535.8 480.7h0M532.3 474.5h0M537.6 475.4h0M531.7 470.3h0M526.8 466.9h0M536.4 479.2h0M530.1 470.3h0M533.1 479.4h0M529.8 473.1h0M534.6 482.5h0M529.3 476.2h0M530.9 476.7h0M547.5 456.7h0M536.3 478.2h0M537.6 471.1h0M535.0 482.3h0M535.8 478.7h0M545.4 469.2h0M520.3 454.6h0M539.4 463.2h0M537.8 468.5h0M547.9 474.2h0M531.4 479.4h0M534.3 481.7h0M534.4 482.2h0M533.6 481.3h0M536.8 478.4h0M543.3 454.3h0M535.1 481.9h0M532.0 476.0h0M536.3 481.3h0M533.0 476.8h0M532.7 478.2h0M523.6 468.0h0M535.5 481.3h0M534.7 482.2h0M536.8 477.5h0M535.7 479.7h0M531.9 469.3h0M542.6 470.0h0M531.8 476.3h0M536.8 475.4h0M527.4 470.1h0M538.0 462.6h0M530.0 472.2h0M539.0 472.1h0M537.0 468.8h0M521.1 455.7h0M538.5 478.7h0M522.2 476.2h0M539.5 469.9h0M532.2 474.9h0M534.3 482.0h0M536.0 477.7h0M535.1 482.0h0M529.7 479.5h0M528.5 477.0h0M533.7 481.0h0M532.4 476.2h0M531.8 474.7h0M533.3 476.4h0M532.7 477.3h0M534.2 481.4h0M532.7 480.3h0M539.6 464.4h0M542.7 471.8h0M531.3 479.5h0M539.5 468.8h0M534.2 481.5h0M536.8 479.0h0M538.6 470.9h0M537.7 474.7h0M540.8 475.6h0M526.0 468.0h0M532.9 476.1h0M544.0 461.7h0M535.5 479.7h0M532.3 474.6h0M537.4 475.1h0M540.9 467.7h0M537.3 472.3h0M535.2 482.0h0M531.1 476.8h0M533.4 478.6h0M540.7 458.6h0M536.2 479.6h0M528.8 473.9h0M537.8 479.0h0M536.1 476.3h0M537.6 478.1h0M528.9 478.5h0M539.4 474.4h0M538.3 467.3h0M531.2 465.5h0M527.6 469.2h0M527.3 458.7h0M529.1 468.4h0M525.8 461.0h0M533.0 480.1h0M534.3 482.0h0M527.9 465.1h0M534.7 482.3h0M533.2 478.1h0M522.6 450.9h0M532.6 476.2h0M535.6 479.5h0M531.0 473.3h0M537.0 473.5h0M536.6 476.5h0M523.0 453.1h0M534.6 482.6h0M539.1 473.9h0M542.6 470.1h0M533.8 480.7h0M531.4 478.4h0M519.9 459.9h0M533.4 481.0h0M536.9 470.9h0M534.7 482.4h0M533.2 478.0h0M523.8 473.2h0M532.9 472.8h0M534.2 481.4h0M531.1 472.0h0M537.9 469.9h0M539.7 451.6h0M530.7 469.1h0M538.9 476.8h0M536.8 474.3h0M532.4 471.8h0M532.1 480.2h0M536.0 477.4h0M534.4 482.4h0M533.8 479.3h0M539.2 474.1h0M530.3 480.3h0M534.5 482.3h0M524.9 471.5h0M529.4 475.3h0M538.9 475.2h0M534.4 481.8h0M537.8 476.5h0M531.5 470.8h0M540.6 436.1h0M533.7 480.6h0M537.0 471.7h0M539.8 463.0h0M534.8 482.4h0M526.4 468.8h0M532.3 476.6h0M534.6 482.5h0M540.9 463.0h0M533.3 475.4h0M533.2 478.0h0M537.0 478.7h0M532.3 477.8h0M536.9 479.1h0M534.0 480.2h0M531.4 467.6h0M534.9 482.1h0M530.2 472.5h0M530.7 472.0h0M538.7 475.2h0M533.1 478.0h0M535.5 479.7h0M548.0 474.9h0M531.8 466.3h0M536.0 477.4h0M536.0 479.8h0M521.3 473.2h0M540.8 451.4h0M530.1 473.9h0M531.1 461.2h0M534.7 482.0h0M539.4 470.7h0M531.6 475.1h0M540.9 452.9h0M535.0 481.0h0M537.5 476.1h0M536.5 477.6h0M533.4 481.3h0M533.9 480.9h0M534.0 480.7h0M535.4 480.7h0M549.5 465.4h0M536.9 476.3h0M538.8 474.2h0M535.9 480.1h0M531.7 473.8h0M545.2 465.5h0M537.7 478.3h0M532.1 478.1h0M536.2 475.5h0M531.7 476.9h0M538.5 465.9h0M538.8 456.1h0M534.5 482.4h0M535.2 481.2h0M531.4 474.4h0M527.2 473.8h0M536.6 476.9h0M533.0 478.3h0M532.5 479.1h0M534.3 481.7h0M541.7 457.4h0M537.4 471.1h0M533.4 479.2h0M535.7 480.1h0M539.2 465.0h0M541.8 473.5h0M537.6 472.2h0M536.2 479.2h0M537.3 475.5h0M545.5 468.5h0M538.8 470.7h0M523.0 471.6h0M517.7 464.9h0M538.5 476.4h0M538.1 480.0h0M531.7 473.7h0M536.7 474.1h0M531.6 474.8h0M529.7 474.1h0M532.9 478.0h0M527.8 460.2h0M535.0 482.0h0M537.9 476.7h0M538.3 471.8h0M536.3 480.7h0M532.8 477.8h0M526.7 469.0h0M531.4 474.3h0M536.2 476.3h0M534.8 482.3h0M522.4 461.8h0M535.9 479.9h0M526.0 469.3h0M536.2 480.6h0M547.8 468.4h0M532.6 478.4h0M530.9 471.6h0M525.9 453.5h0M536.5 478.4h0M531.5 479.3h0M526.9 475.7h0M526.4 453.5h0M532.0 473.8h0M541.1 477.3h0M536.1 477.3h0M533.2 480.5h0M533.2 479.8h0M528.3 456.8h0M540.2 466.3h0M531.4 480.1h0M533.9 480.7h0M537.4 479.3h0M535.9 479.2h0M536.7 477.5h0M529.1 463.0h0M538.2 474.4h0M534.3 481.7h0M531.7 479.1h0M541.4 451.1h0M542.4 470.6h0M539.5 459.8h0M533.3 477.5h0M544.1 465.6h0M532.6 475.7h0M524.8 453.5h0M538.3 477.0h0M536.6 477.3h0M536.9 479.8h0M544.0 462.3h0M535.2 481.2h0M538.3 470.6h0M536.4 478.0h0M534.9 482.0h0M533.4 481.9h0M544.0 473.6h0M532.9 481.2h0M540.7 474.6h0M535.5 480.2h0M534.4 482.3h0M527.1 475.1h0M530.4 457.9h0M532.2 476.0h0M537.2 477.0h0M539.1 479.8h0M530.3 474.9h0M543.2 465.3h0M546.9 461.1h0M523.5 462.8h0M536.9 476.7h0M529.9 473.9h0M537.5 471.7h0M538.4 464.0h0M536.0 479.9h0M533.0 476.6h0M524.6 463.3h0M534.7 482.2h0M539.0 474.9h0M533.8 480.8h0M532.3 476.9h0M536.6 471.8h0M535.4 481.2h0M535.4 480.4h0M534.3 482.0h0M519.2 458.5h0M529.1 470.2h0M540.4 462.9h0M534.3 481.8h0M537.8 472.0h0M529.6 459.3h0M532.5 479.4h0M538.8 470.0h0M533.5 479.2h0M536.6 478.7h0M538.3 470.7h0M526.6 478.8h0M530.8 479.5h0M532.9 479.5h0M530.3 466.8h0M539.4 466.5h0M531.4 479.4h0M532.1 475.4h0M539.6 456.8h0M535.4 481.6h0M531.0 470.9h0M542.7 474.3h0M537.5 471.4h0M536.4 476.1h0M533.4 478.7h0M537.2 478.5h0M527.6 473.6h0M536.7 478.2h0M534.1 481.3h0M534.8 481.9h0M541.4 465.7h0M541.1 473.9h0M533.8 480.6h0M535.4 480.7h0M536.4 474.5h0M533.3 477.6h0M532.3 477.6h0M533.3 481.8h0M549.2 468.6h0M536.0 478.9h0M531.2 479.6h0M532.0 477.1h0M533.0 479.4h0M539.3 471.2h0M536.1 481.5h0M538.9 473.3h0M530.5 470.4h0M526.2 472.2h0M527.0 471.8h0M518.8 470.6h0M545.8 462.9h0M539.0 463.1h0M529.1 457.6h0M539.4 475.4h0M533.3 479.8h0M533.5 480.0h0M533.3 477.0h0M531.9 475.2h0M540.6 470.3h0M526.5 468.6h0M535.3 481.4h0M548.1 468.2h0M542.0 467.9h0M540.3 462.2h0M536.1 478.9h0M527.4 472.5h0M528.9 457.8h0M534.3 482.1h0M536.5 477.8h0M534.5 482.4h0M533.3 480.2h0M547.3 457.9h0M531.2 472.1h0M534.9 481.8h0M529.1 473.2h0M526.1 470.9h0M537.8 478.6h0M533.9 481.2h0M539.7 473.2h0M535.3 480.1h0M536.6 476.3h0M535.2 482.2h0M535.4 481.0h0M536.1 474.5h0M535.6 481.2h0M531.9 475.0h0M539.6 467.9h0M540.4 465.6h0M533.7 478.2h0M534.5 482.5h0M533.0 475.8h0M521.9 466.6h0M531.4 469.8h0M536.8 476.1h0M521.7 451.8h0M527.8 476.7h0M540.3 459.6h0M529.2 467.5h0M532.2 475.0h0M533.6 479.6h0M537.3 479.4h0M534.9 481.6h0M538.1 474.6h0M536.4 478.3h0M536.4 481.8h0M535.5 479.6h0M533.4 479.2h0M536.3 479.5h0M537.9 473.4h0M529.3 466.4h0M531.8 479.3h0M528.3 476.0h0M536.6 479.8h0M531.6 463.0h0M538.6 464.6h0M536.7 472.5h0M539.0 477.8h0M531.3 477.8h0M535.6 480.6h0M538.6 475.3h0M531.7 475.4h0M536.0 478.8h0M531.6 467.2h0M532.6 477.2h0M533.6 480.4h0M536.4 478.1h0M541.7 468.2h0M525.6 470.5h0M532.4 479.5h0M539.4 462.2h0M531.7 473.3h0M531.4 473.4h0M537.8 479.1h0M539.1 478.7h0M538.1 470.5h0M533.1 478.2h0M534.8 482.3h0M528.8 476.5h0M534.4 482.4h0M531.6 469.8h0M536.2 478.8h0M537.2 478.0h0M532.5 478.3h0M528.8 471.2h0M533.7 479.6h0M533.3 477.6h0M532.8 477.1h0M531.1 474.0h0M528.3 458.6h0M530.3 472.9h0M535.4 480.4h0M533.8 479.3h0M535.1 481.7h0M535.2 480.6h0M529.8 471.6h0M534.3 482.2h0M532.5 478.3h0M535.2 481.8h0M538.8 478.3h0M533.8 480.6h0M531.7 479.2h0M537.5 477.5h0M535.6 480.7h0M530.9 474.6h0M533.3 481.4h0M532.2 475.1h0M528.5 469.8h0M540.5 452.2h0M545.6 470.3h0M541.1 476.6h0M537.5 468.1h0M539.5 477.8h0M537.4 467.3h0M529.2 477.8h0M538.4 474.3h0M539.4 469.6h0M537.9 475.4h0M527.5 463.0h0M541.6 466.1h0M530.9 476.6h0M525.8 453.9h0M538.4 472.5h0M535.0 480.9h0M544.5 465.7h0M532.6 475.9h0M532.2 470.8h0M538.5 464.8h0M531.7 477.8h0M535.6 480.7h0M537.2 481.4h0M546.0 465.1h0M536.8 479.2h0M532.9 478.7h0M539.9 453.1h0M527.0 450.1h0M534.4 482.3h0M543.7 456.1h0M533.5 480.2h0M534.5 482.4h0M535.4 480.8h0M542.3 478.9h0M540.6 453.5h0M540.9 473.7h0M540.3 473.7h0M544.2 464.2h0M546.1 465.3h0M534.6 482.6h0M537.7 471.7h0M531.1 478.1h0M523.4 469.2h0M537.4 476.1h0M536.3 479.0h0M537.8 479.6h0M536.6 475.1h0M535.1 481.6h0M529.8 464.7h0M533.6 479.3h0M526.8 432.9h0M523.6 468.5h0M536.3 477.3h0M537.5 465.4h0M536.7 475.8h0M535.7 479.8h0M534.6 482.6h0M531.1 463.0h0M540.9 464.1h0M536.5 477.3h0M537.0 477.9h0M521.9 462.5h0M533.6 481.0h0M531.3 473.2h0M531.3 470.6h0M541.8 438.8h0M534.7 482.5h0M527.6 471.4h0M530.9 455.8h0M541.7 463.6h0M530.1 471.0h0M530.6 471.1h0M534.0 480.5h0M531.5 473.8h0M531.7 472.1h0M541.9 464.4h0M535.3 480.1h0M534.1 481.2h0M537.3 477.0h0M529.4 477.1h0M534.1 480.9h0M530.8 475.3h0M547.9 458.8h0M535.5 479.2h0M533.4 480.6h0M538.0 465.8h0M532.1 477.9h0M538.4 476.0h0M538.8 476.7h0M527.8 468.2h0M535.1 481.5h0M539.0 448.7h0M530.6 470.2h0M535.2 480.4h0M531.9 476.7h0M531.3 472.7h0M534.3 481.8h0M536.9 475.5h0M535.2 481.5h0M541.9 466.6h0M536.1 480.6h0M531.2 473.8h0M537.2 475.5h0M532.6 478.9h0M530.5 461.8h0M540.2 470.6h0M526.8 464.8h0M535.5 480.6h0M535.7 479.4h0M531.1 473.4h0M536.8 473.8h0M529.6 472.7h0M537.2 472.7h0M532.6 479.8h0M530.8 480.0h0M537.8 469.6h0M536.0 479.4h0M529.9 471.0h0M534.1 480.9h0M523.2 471.0h0M537.0 480.6h0M535.4 480.2h0M528.9 472.5h0M535.4 479.3h0M535.9 478.4h0M534.3 481.4h0M529.9 462.8h0M535.3 481.1h0M530.5 468.2h0M525.6 457.5h0M537.7 477.8h0M546.9 472.8h0M536.1 480.2h0M528.4 465.7h0M540.8 477.4h0M530.1 468.8h0M541.0 477.3h0M536.5 475.6h0M534.2 482.4h0M532.2 478.7h0M538.2 469.9h0M536.9 481.6h0M538.0 474.0h0M537.5 474.9h0M526.9 470.8h0M534.4 482.0h0M536.7 480.1h0M520.8 464.8h0M530.8 476.3h0M536.2 479.6h0M533.9 480.6h0M535.3 480.2h0M533.1 477.8h0M531.2 475.9h0M528.6 476.1h0M536.8 480.0h0M534.0 480.7h0M533.5 479.2h0M541.8 456.1h0M540.4 461.3h0M526.9 466.1h0M536.1 475.6h0M536.2 475.1h0M538.0 478.9h0M533.6 480.4h0M533.0 479.8h0M533.3 479.2h0M528.7 476.3h0M528.1 468.8h0M530.1 464.9h0M537.4 475.5h0M531.9 477.8h0M532.3 479.4h0M536.1 480.1h0M536.7 474.3h0M532.4 477.1h0M541.3 477.1h0M542.9 477.6h0M537.6 475.0h0M533.2 478.3h0M533.8 480.6h0M531.1 477.9h0M531.9 477.8h0M535.3 481.1h0M537.5 470.9h0M541.2 466.6h0M539.8 476.1h0M530.0 469.8h0M532.7 478.2h0M532.2 478.1h0M530.1 478.1h0M538.3 472.3h0M529.1 467.8h0M533.5 480.9h0M535.0 480.9h0M532.5 474.8h0M536.4 479.9h0M531.1 476.4h0M534.0 481.6h0M531.2 461.2h0M540.0 450.7h0M533.5 480.1h0M538.0 471.5h0M542.5 458.7h0M546.5 459.9h0M536.2 479.1h0M534.0 481.1h0M533.2 476.8h0M532.7 475.9h0M537.1 480.3h0M543.0 473.2h0M542.6 471.1h0M537.3 474.0h0M532.5 477.4h0M539.7 458.1h0M528.3 473.4h0M536.6 479.2h0M532.6 479.3h0M534.7 482.3h0M540.6 474.2h0M542.0 469.6h0M534.5 482.3h0M540.1 471.2h0M537.2 477.6h0M534.5 482.4h0M539.2 480.5h0M534.9 481.5h0M532.9 475.6h0M543.4 458.6h0M538.5 475.8h0M536.3 480.9h0M534.3 481.8h0M533.1 480.1h0M533.4 479.3h0M532.0 470.8h0M533.0 479.3h0M541.1 464.6h0M534.4 482.3h0M531.6 470.0h0M529.7 473.0h0M528.4 470.1h0M534.2 482.0h0M531.3 478.9h0M535.5 480.4h0M542.5 459.1h0M532.5 477.3h0M536.4 478.1h0M538.2 475.4h0M541.1 440.5h0M534.1 482.3h0M535.0 481.3h0M527.9 463.2h0M542.7 465.0h0M521.8 462.7h0M544.5 472.6h0M536.5 477.7h0M530.6 479.6h0M532.1 477.1h0M523.8 471.7h0M521.7 460.4h0M532.8 476.6h0M522.6 460.5h0M530.5 476.2h0M531.5 479.8h0M533.6 481.1h0M529.3 479.3h0M543.5 452.8h0M537.8 475.5h0M535.2 480.9h0M534.8 481.7h0M529.6 462.8h0M537.5 469.0h0M525.9 462.5h0M524.1 475.4h0M535.5 480.4h0M530.1 460.5h0M538.4 468.4h0M521.9 461.3h0M534.9 482.3h0M534.9 482.2h0M528.9 471.2h0M532.5 475.3h0M536.9 476.4h0M539.0 461.0h0M532.6 476.7h0M537.6 478.5h0M530.5 470.2h0M529.9 460.9h0M544.6 470.0h0M542.4 477.8h0M538.7 474.6h0M532.5 480.3h0M531.2 464.5h0M536.8 474.7h0M531.4 479.5h0M534.3 482.2h0M531.7 477.3h0M534.6 482.6h0M535.8 477.4h0M539.0 471.7h0M541.4 474.3h0M527.6 472.0h0M538.6 459.5h0M525.4 471.9h0M541.4 475.8h0M536.5 472.7h0M538.0 468.6h0M532.1 474.8h0M534.1 480.7h0M528.9 475.7h0M539.6 449.0h0M545.3 475.5h0M530.4 467.9h0M536.0 477.1h0M523.7 470.3h0M533.3 480.1h0M536.6 477.7h0M522.7 476.1h0M542.8 469.8h0M534.0 481.3h0M537.4 470.0h0M532.3 475.9h0M530.6 473.2h0M533.7 479.9h0M532.2 480.8h0M525.6 463.4h0M538.8 456.4h0M528.9 462.0h0M537.2 476.5h0M532.5 472.9h0M529.8 472.3h0M541.6 471.8h0M532.1 478.5h0M531.8 476.2h0M535.9 479.7h0M538.4 471.6h0M523.9 477.2h0M539.1 473.7h0M533.0 480.5h0M538.2 471.1h0M537.9 477.7h0M536.6 476.2h0M533.2 481.0h0M536.0 476.5h0M530.8 465.2h0M536.8 477.2h0M529.2 468.6h0M533.2 477.1h0M530.8 473.6h0M539.0 457.6h0M534.1 481.3h0M532.6 476.7h0M533.2 479.9h0M526.9 468.2h0M539.6 453.3h0M538.0 474.4h0M539.9 477.1h0M527.4 461.6h0M537.0 471.5h0M538.5 476.9h0M529.4 449.0h0M531.2 468.3h0M529.5 470.8h0M526.6 476.3h0M537.6 473.1h0M529.7 472.6h0M533.9 480.4h0M529.0 453.4h0M539.2 475.3h0M538.2 478.5h0M534.5 482.4h0M530.7 468.3h0M536.8 474.4h0M542.3 452.8h0M523.2 454.1h0M544.4 467.1h0M529.0 467.7h0M526.3 454.1h0M530.0 458.5h0M545.2 468.2h0M529.5 465.2h0M536.3 479.0h0M531.7 468.5h0M537.7 475.2h0M536.7 478.3h0M527.8 439.4h0M529.6 472.3h0M533.0 479.1h0M529.9 474.3h0M535.0 482.3h0M538.5 476.1h0M538.1 478.8h0M533.1 476.1h0M542.2 478.0h0M537.6 478.1h0M532.3 475.5h0M538.5 468.5h0M544.7 456.6h0M546.2 454.2h0M527.5 468.0h0M539.6 479.5h0M536.7 480.7h0M535.3 481.1h0M531.2 467.8h0M533.0 477.4h0M534.3 481.7h0M545.7 450.9h0M533.8 482.2h0M532.9 480.6h0M534.4 482.3h0M534.9 482.0h0M535.7 478.3h0M530.3 469.6h0M536.7 477.0h0M536.2 477.9h0M544.7 461.0h0M534.3 481.6h0M544.0 462.2h0M538.6 474.4h0M533.1 476.6h0M530.6 480.0h0M520.1 474.8h0M528.2 460.2h0M536.4 480.2h0M537.7 481.1h0M528.9 463.9h0M538.8 471.7h0M543.5 467.1h0M534.2 482.2h0M535.7 481.1h0M539.2 457.7h0M528.5 470.0h0M536.3 479.9h0M547.1 463.1h0M535.7 477.0h0M522.4 471.6h0M535.3 480.0h0M536.6 479.3h0M533.3 478.0h0M538.5 474.5h0M540.5 479.9h0M533.4 481.4h0M530.3 471.0h0M521.5 455.8h0M535.2 481.5h0M541.8 465.6h0M535.0 481.8h0M522.3 460.9h0M534.9 482.0h0M527.8 473.7h0M537.5 478.9h0M530.8 462.3h0M535.0 481.4h0M538.4 474.8h0M530.3 477.0h0M542.2 473.4h0M537.6 477.8h0M535.6 479.1h0M531.1 467.6h0M535.1 481.4h0M533.1 479.5h0M535.2 480.9h0M530.0 463.6h0M541.8 462.8h0M530.5 469.7h0M533.8 480.7h0M539.6 470.8h0M523.5 455.0h0M531.0 466.8h0M535.2 481.7h0M530.3 480.1h0M535.0 482.0h0M542.7 462.4h0M527.9 476.3h0M531.9 478.9h0M535.4 481.2h0M532.4 477.9h0M531.1 480.1h0M546.7 458.1h0M541.6 470.3h0M547.4 469.3h0M535.1 482.4h0M533.0 475.8h0M534.5 482.4h0M532.0 470.6h0M535.5 481.2h0M533.8 480.5h0M534.9 482.0h0M533.6 480.6h0M521.5 459.6h0M535.1 481.4h0M532.5 476.9h0M535.4 480.7h0M532.6 480.9h0M536.1 479.2h0M526.6 452.2h0M532.5 479.0h0M536.8 476.0h0M531.9 476.8h0M530.7 457.1h0M534.0 481.6h0M536.0 480.6h0M529.9 466.2h0M534.2 481.4h0M536.8 474.3h0M529.7 455.5h0M527.1 455.9h0M520.5 470.8h0M533.5 480.4h0M528.9 456.0h0M536.7 472.7h0M536.1 476.8h0M538.5 473.0h0M537.2 474.7h0M539.6 476.2h0M532.4 481.0h0M525.3 475.0h0M530.8 473.6h0M539.5 470.1h0M535.3 481.8h0M539.5 461.5h0M527.8 467.6h0M549.1 468.3h0M539.2 465.6h0M537.5 471.9h0M533.8 481.5h0M533.9 480.0h0M533.4 476.8h0M537.5 467.0h0M527.2 439.2h0M537.1 479.0h0M542.3 447.6h0M535.1 482.0h0M540.6 471.2h0M529.6 463.4h0M526.9 458.1h0M538.2 474.0h0M538.0 480.1h0M538.5 474.3h0M530.8 479.6h0M532.4 473.7h0M532.1 472.3h0M536.1 479.3h0M535.0 482.0h0M536.3 478.4h0M540.8 474.2h0M530.9 479.9h0M541.6 457.6h0M536.8 478.6h0M538.4 471.1h0M530.7 470.5h0M532.6 478.2h0M531.6 478.9h0M533.5 480.6h0M531.0 475.9h0M521.0 463.2h0M531.9 474.9h0M534.9 482.3h0M532.5 479.5h0M530.9 468.7h0M532.5 477.1h0M536.6 479.2h0M533.7 481.7h0M531.1 469.6h0M536.4 479.1h0M537.9 481.0h0M538.2 467.1h0M547.8 464.7h0M539.1 471.3h0M534.3 482.0h0M543.1 455.7h0M538.6 471.3h0M531.1 474.9h0M538.2 475.5h0M536.7 475.9h0M531.7 472.5h0M533.3 480.4h0M529.7 459.0h0M535.8 480.4h0M535.3 480.9h0M535.6 478.8h0M536.3 480.0h0M534.9 481.9h0M540.0 469.5h0M536.0 480.3h0M537.5 472.7h0M529.6 477.6h0M536.7 479.7h0M528.7 465.8h0M532.5 479.0h0M530.4 478.4h0M537.5 476.2h0M531.4 477.3h0M537.4 478.8h0M530.1 477.4h0M532.8 478.8h0M535.4 480.2h0M543.1 463.3h0M536.1 478.8h0M533.5 481.6h0M535.3 481.4h0M531.3 470.9h0M536.3 481.1h0M529.0 466.6h0M540.5 467.8h0M532.1 472.3h0M548.3 463.1h0M527.2 476.9h0M529.6 474.4h0M532.3 479.1h0M541.6 464.9h0M533.2 480.4h0M535.9 480.1h0M535.4 480.7h0M545.1 460.6h0M531.9 467.6h0M537.0 472.6h0M538.5 480.9h0M540.3 468.5h0M534.2 481.0h0M534.9 481.2h0M532.8 477.8h0M531.3 476.6h0M534.6 482.6h0M538.1 471.9h0M538.6 466.6h0M535.8 481.4h0M548.6 459.7h0M534.6 482.6h0M539.6 469.0h0M533.0 476.3h0M538.1 476.8h0M537.1 478.3h0M534.1 480.9h0M533.4 480.6h0M537.5 476.3h0M532.9 476.8h0M537.4 468.4h0M529.6 457.8h0M533.0 480.7h0M531.5 479.1h0M548.9 474.9h0M535.2 481.6h0M538.0 473.6h0M526.7 478.5h0M536.3 476.4h0M521.0 462.2h0M531.3 470.9h0M537.9 477.5h0M530.9 468.8h0M533.5 481.2h0M551.9 470.9h0M533.6 480.1h0M531.7 474.8h0M539.3 471.4h0M534.0 480.5h0M543.8 474.6h0M532.0 473.7h0M529.6 460.0h0M535.3 482.0h0M529.8 463.4h0M532.6 477.5h0M527.8 478.1h0M539.9 469.7h0M533.3 481.0h0M537.7 464.0h0M531.7 478.4h0M530.4 471.6h0M530.0 462.5h0M537.8 477.4h0M538.6 474.1h0M535.4 481.5h0M536.4 476.6h0M540.8 476.1h0M529.7 478.0h0M538.3 466.8h0M535.4 480.4h0M534.7 482.4h0M532.4 477.2h0M539.2 453.7h0M524.6 453.2h0M531.1 468.9h0M545.2 459.5h0M537.6 474.6h0M526.4 466.9h0M533.3 479.2h0M535.8 481.6h0M531.1 473.8h0M534.8 482.2h0M544.6 464.3h0M534.7 482.4h0M541.4 460.3h0M534.5 482.5h0M533.9 481.7h0M538.2 469.9h0M538.1 471.6h0M534.9 481.7h0M535.4 481.3h0M536.6 479.0h0M531.4 469.2h0M542.3 456.1h0M530.6 472.1h0M534.7 482.3h0M529.1 476.9h0M535.8 481.0h0M531.0 471.8h0M531.5 474.9h0M523.5 457.0h0M541.7 474.5h0M544.3 462.4h0M523.4 458.2h0M536.7 478.2h0M530.8 468.9h0M537.6 477.5h0M533.7 480.4h0M532.6 476.9h0M539.4 469.9h0M533.8 479.4h0M538.8 479.7h0M538.8 473.4h0M531.0 467.7h0M531.0 463.2h0M539.1 473.2h0M532.1 475.5h0M538.1 476.3h0M524.5 454.0h0M530.1 473.2h0M539.7 462.4h0M539.8 477.9h0M535.5 481.1h0M534.4 482.2h0M520.0 472.9h0M535.1 481.2h0M541.2 473.5h0M534.2 481.5h0M529.7 467.3h0M532.3 477.9h0M538.1 478.5h0M534.9 481.9h0M532.2 476.1h0M538.4 470.1h0M528.2 458.2h0M537.2 473.8h0M533.3 479.6h0M535.6 478.8h0M535.8 480.1h0M529.4 480.2h0M540.8 473.5h0M532.6 476.6h0M543.7 475.1h0M529.2 469.6h0M538.7 477.4h0M536.6 480.2h0M532.0 477.1h0M535.9 480.4h0M541.9 469.7h0M531.6 477.2h0M546.2 461.5h0M535.9 478.6h0M538.0 477.3h0M534.0 481.8h0M541.9 458.8h0M535.5 478.4h0M532.9 477.5h0M535.5 479.3h0M532.2 477.3h0M548.6 468.3h0M537.1 475.8h0M539.8 468.6h0M534.4 482.3h0M530.1 475.0h0M545.7 462.4h0M536.7 477.1h0M536.9 472.0h0M526.7 470.8h0M536.3 481.6h0M531.3 465.0h0M532.5 480.1h0M520.5 461.6h0M538.8 471.4h0M536.9 475.5h0M535.9 479.4h0M536.7 474.2h0M522.7 469.1h0M527.7 458.4h0M530.7 474.9h0M531.7 473.4h0M532.1 478.1h0M533.9 480.6h0M529.7 473.2h0M519.4 459.4h0M532.4 478.9h0M526.4 476.0h0M530.1 465.5h0M545.5 476.3h0M533.6 479.5h0M539.2 462.1h0M522.8 451.1h0M539.3 472.3h0M536.8 478.0h0M535.5 480.8h0M531.0 475.2h0M535.5 481.2h0M531.5 475.5h0M535.3 480.4h0M539.4 465.2h0M528.9 475.1h0M523.9 471.3h0M540.8 453.3h0M533.8 480.7h0M532.1 470.9h0M534.2 481.4h0M537.1 470.1h0M532.3 476.5h0M537.1 474.7h0M529.5 478.7h0M537.8 479.9h0M536.3 475.6h0M535.3 480.9h0M533.9 480.0h0M529.7 472.0h0M543.6 459.1h0M531.0 475.5h0M535.8 478.7h0M526.7 444.7h0M539.0 473.5h0M539.3 463.1h0M541.9 468.0h0M534.6 482.6h0M534.6 482.6h0M531.4 476.2h0M528.3 475.3h0M524.5 450.3h0M539.1 456.8h0M535.6 480.7h0M534.5 482.3h0M534.3 481.2h0M533.9 480.7h0M530.9 465.1h0M536.4 476.0h0M538.3 473.6h0M536.3 476.6h0M534.9 481.8h0M534.9 482.3h0M528.2 459.1h0M538.3 474.1h0M534.4 482.0h0M531.4 465.4h0M542.1 466.1h0M528.0 458.9h0M528.6 461.1h0M542.3 453.2h0M533.8 481.3h0M531.3 479.0h0M535.7 480.8h0M525.8 462.9h0M540.8 472.7h0M528.7 432.5h0M539.2 462.4h0M537.8 475.5h0M540.3 472.6h0M532.6 476.6h0M538.1 476.3h0M536.8 479.4h0M538.6 469.3h0M541.1 469.9h0M536.7 470.8h0M535.1 480.7h0M535.0 481.6h0M533.5 479.7h0M536.4 479.3h0M536.3 477.1h0M536.0 478.4h0M531.0 471.7h0M534.4 482.2h0M523.4 465.3h0M538.1 468.7h0M530.6 477.7h0M535.7 479.3h0M533.3 477.6h0M539.7 474.3h0M521.5 463.2h0M532.4 473.5h0M540.2 449.8h0M533.7 479.7h0M537.0 478.1h0M521.4 469.4h0M535.8 481.3h0M535.0 481.3h0M538.9 459.5h0M537.9 470.7h0M527.9 476.2h0M535.0 481.5h0M537.2 472.3h0M530.7 474.2h0M537.0 474.7h0M539.0 458.0h0M534.0 480.8h0M539.6 459.4h0M544.7 465.6h0M535.2 481.8h0M544.4 475.5h0M538.1 476.6h0M536.6 480.0h0M527.8 459.9h0M533.0 474.9h0M535.5 480.2h0M525.4 451.1h0M535.8 479.9h0M522.6 467.3h0M531.1 460.3h0M535.1 481.9h0M535.4 481.3h0M529.3 464.4h0M537.0 478.9h0M542.9 466.5h0M528.1 441.9h0M539.8 447.2h0M535.8 478.7h0M538.0 474.6h0M524.1 477.4h0M532.0 476.4h0M537.4 477.3h0M538.6 465.2h0M539.0 478.2h0M533.5 480.4h0M536.2 475.6h0M533.1 477.5h0M526.4 471.9h0M537.7 472.8h0M522.8 475.1h0M528.3 475.6h0M537.5 477.7h0M537.5 470.2h0M535.4 482.2h0M528.2 467.8h0M535.6 482.1h0M536.7 474.1h0M532.8 475.2h0M537.7 464.1h0M521.7 475.9h0M532.6 476.6h0M536.6 476.9h0M522.0 470.5h0M523.6 455.2h0M533.4 481.8h0M539.8 461.1h0M540.7 464.2h0M534.8 482.1h0M533.5 480.8h0M525.2 474.8h0M546.7 464.3h0M532.3 471.1h0M532.9 477.0h0M533.6 481.0h0M532.3 478.0h0M536.8 477.7h0M528.8 473.9h0M531.2 474.2h0M528.5 463.0h0M540.4 475.4h0M531.6 475.2h0M532.1 475.5h0M538.8 458.9h0M536.2 476.6h0M523.9 460.2h0M535.9 477.0h0M537.9 463.2h0M534.9 481.9h0M532.0 476.8h0M533.3 479.8h0M533.6 481.8h0M532.2 477.2h0M532.1 474.5h0M543.3 454.4h0M536.9 480.4h0M549.5 470.4h0M533.7 481.1h0M535.3 480.3h0M528.3 459.9h0M539.9 452.1h0M537.2 477.6h0M532.2 478.0h0M541.3 469.3h0M536.7 477.4h0M530.2 477.7h0M530.8 474.5h0M532.1 479.0h0M527.0 474.1h0M530.0 479.7h0M531.7 472.1h0M528.6 472.8h0M525.5 463.2h0M531.2 474.7h0M535.6 478.4h0M523.7 477.1h0M544.6 465.8h0M533.6 479.4h0M537.2 477.9h0M535.2 480.6h0M538.8 471.4h0M533.2 476.8h0M533.4 479.6h0M530.0 476.0h0M520.3 474.9h0M542.7 470.3h0M532.8 480.7h0M533.8 480.2h0M535.5 481.5h0M538.4 476.6h0M531.7 471.6h0M528.6 477.7h0M539.3 453.9h0M531.6 471.7h0M524.8 468.5h0M537.9 469.9h0M534.9 482.1h0M533.8 480.6h0M534.5 482.4h0M525.0 466.0h0M528.1 448.3h0M533.6 482.0h0M534.3 482.1h0M537.5 479.6h0M533.3 481.1h0M534.4 482.1h0M537.2 469.2h0M532.1 470.7h0M535.0 482.1h0M547.9 457.4h0M534.3 481.9h0M532.7 480.7h0M533.0 479.2h0M546.1 469.7h0M537.1 476.8h0M538.0 468.9h0M516.0 471.9h0M533.9 482.1h0M532.7 477.7h0M529.3 466.4h0M539.1 458.3h0M537.2 476.9h0M537.3 477.8h0M532.2 471.4h0M541.5 470.7h0M532.9 476.6h0M536.5 475.6h0M534.8 482.3h0M535.8 479.3h0M531.0 474.4h0M530.8 475.5h0M540.0 476.0h0M536.6 476.5h0M531.2 474.9h0M529.4 458.3h0M535.6 479.3h0M528.1 476.0h0M536.4 479.3h0M538.0 478.2h0M542.6 474.1h0M535.9 478.7h0M534.2 481.0h0M537.4 476.6h0M538.0 473.2h0M525.2 473.1h0M535.5 480.2h0M535.5 481.3h0M525.3 467.6h0M543.5 467.9h0M538.7 478.4h0M536.3 478.7h0M527.4 459.9h0M534.5 482.3h0M531.2 471.7h0M533.1 479.0h0M534.4 482.2h0M539.8 470.7h0M536.7 478.6h0M537.2 475.3h0M532.1 476.0h0M537.1 472.3h0M535.5 480.3h0M539.8 477.1h0M531.9 481.4h0M540.6 475.1h0M534.8 482.2h0M530.9 470.2h0M530.3 474.0h0M523.6 474.5h0M534.9 481.8h0M534.8 482.1h0M529.6 463.2h0M531.8 465.7h0M540.4 478.2h0M532.2 478.0h0M535.9 479.8h0M532.5 473.7h0M538.5 466.3h0M538.1 467.8h0M534.7 482.3h0M544.7 472.5h0M525.5 469.5h0M532.4 477.7h0M537.6 470.4h0M534.6 482.5h0M539.1 459.2h0M534.4 482.4h0M522.6 471.4h0M526.4 470.7h0M531.3 480.0h0M530.3 478.5h0M541.4 468.3h0M534.9 481.8h0M537.3 472.9h0M533.3 479.0h0M539.5 467.9h0M534.5 482.4h0M532.4 476.9h0M534.1 481.2h0M526.5 460.7h0M528.2 467.6h0M534.4 482.0h0M538.6 470.9h0M528.0 455.6h0M535.0 481.0h0M540.4 469.5h0M537.0 475.5h0M538.4 465.6h0M531.5 475.3h0M543.7 456.6h0M530.7 466.6h0M531.1 468.1h0M536.2 479.2h0M535.4 480.8h0M531.7 479.9h0M528.3 443.2h0M530.9 475.3h0M536.3 478.6h0M524.9 460.3h0M534.8 482.0h0M539.6 468.2h0M527.0 449.0h0M535.8 478.8h0M541.9 437.6h0M537.5 477.1h0M529.9 474.8h0M535.6 479.9h0M529.7 471.3h0M535.7 479.0h0M533.1 478.3h0M535.7 481.5h0M535.1 481.7h0M538.1 466.9h0M538.9 465.4h0M532.9 478.1h0M537.0 480.9h0M532.8 477.1h0M531.9 478.8h0M532.7 475.4h0M535.7 480.3h0M539.0 465.9h0M532.4 474.8h0M537.6 477.8h0M538.3 471.2h0M538.9 458.9h0M544.5 451.4h0M541.0 465.0h0M535.4 480.8h0M523.4 456.5h0M541.8 457.1h0M535.4 478.9h0M537.4 479.5h0M541.9 463.9h0M523.8 453.2h0M533.7 479.8h0M532.3 478.2h0M542.0 458.2h0M537.0 468.1h0M539.7 476.3h0M534.9 482.1h0M536.0 480.4h0M537.2 473.9h0M534.5 482.3h0M530.1 468.2h0M534.1 482.0h0M534.4 481.9h0M538.4 463.0h0M537.1 475.0h0M532.0 472.9h0M536.4 478.6h0M532.4 480.1h0M543.8 471.2h0M534.0 481.0h0M539.9 457.5h0M537.8 472.4h0M532.5 480.3h0M535.9 479.3h0M530.5 466.2h0M535.6 479.4h0M543.8 456.3h0M535.8 477.5h0M537.9 468.2h0M535.5 481.5h0M529.9 479.0h0M530.8 469.9h0M535.0 481.6h0M543.6 466.0h0M531.6 474.7h0M532.9 478.4h0M533.1 478.7h0M534.4 482.2h0M534.0 481.1h0M535.0 481.3h0M538.9 475.8h0M530.5 468.5h0M531.4 467.9h0M533.5 479.7h0M536.2 475.5h0M532.9 475.3h0M537.4 473.3h0M528.8 479.2h0M533.0 478.8h0M533.9 481.1h0M531.1 473.9h0M531.6 477.4h0M527.5 469.5h0M538.8 480.7h0M536.3 475.1h0M530.3 468.3h0M531.5 477.4h0M530.6 477.0h0M535.8 481.3h0M535.5 481.2h0M533.2 479.2h0M538.9 475.0h0M517.9 468.5h0M534.0 482.0h0M530.4 473.9h0M523.0 473.4h0M531.4 474.8h0M533.4 478.2h0M532.1 478.4h0M530.4 469.7h0M528.8 469.4h0M541.1 459.2h0M530.8 475.6h0M530.9 471.5h0M538.1 475.1h0M532.3 480.1h0M534.4 482.0h0M538.6 480.0h0M536.6 477.1h0M538.7 465.0h0M531.5 472.8h0M534.3 481.8h0M529.7 476.9h0M534.4 481.9h0M544.3 461.4h0M538.8 462.5h0M537.8 478.1h0M531.8 472.7h0M537.4 471.9h0M540.2 469.8h0M534.9 482.4h0M543.2 453.3h0M533.4 478.3h0M533.2 479.0h0M530.4 473.4h0M521.4 464.9h0M529.3 458.5h0M536.1 476.6h0M533.3 480.9h0M539.4 476.2h0M534.5 482.3h0M546.1 451.2h0M536.0 479.1h0M542.4 467.3h0M541.0 469.7h0M533.9 480.3h0M534.5 482.2h0M539.5 480.4h0M535.9 480.1h0M528.0 465.7h0M534.0 481.1h0M530.3 473.1h0M531.4 474.8h0M532.9 475.8h0M537.3 473.3h0M541.0 476.7h0M532.3 477.1h0M533.3 477.4h0M549.7 468.4h0M533.4 480.5h0M536.6 478.5h0M536.6 478.4h0M534.8 482.2h0M538.8 469.7h0M538.2 466.0h0M532.4 477.7h0M535.2 481.5h0M536.4 478.5h0M528.7 458.7h0M534.5 482.4h0M540.1 478.9h0M537.4 467.0h0M536.4 477.0h0M534.4 481.9h0M536.3 475.6h0M528.1 470.7h0M540.2 471.9h0M529.6 475.7h0M530.9 469.2h0M535.5 479.6h0M540.7 465.9h0M532.9 479.7h0M538.6 461.4h0M534.5 482.4h0M531.5 470.4h0M528.2 471.6h0M538.7 476.1h0M528.5 460.3h0M542.8 464.1h0M530.7 466.9h0M536.0 481.3h0M538.8 467.3h0M536.4 478.2h0M531.8 474.7h0M530.2 473.3h0M533.3 477.3h0M545.8 469.4h0M538.1 480.3h0M536.4 478.0h0M536.8 474.7h0M535.6 480.2h0M534.2 481.5h0M532.9 480.8h0M535.6 479.9h0M533.2 481.1h0M530.3 461.6h0M537.4 469.9h0M536.7 477.9h0M537.2 479.9h0M531.6 477.8h0M536.2 476.1h0M537.1 476.7h0M534.2 481.5h0M519.5 473.6h0M541.0 465.9h0M535.2 481.4h0M536.3 474.2h0M539.4 466.3h0M533.0 479.2h0M533.3 480.6h0M540.1 461.6h0M535.6 481.6h0M540.8 473.5h0M535.0 482.1h0M536.6 478.6h0M536.9 479.2h0M534.4 482.1h0M528.9 471.6h0M538.1 474.4h0M533.2 480.2h0M532.5 478.1h0M531.6 479.2h0M531.7 468.2h0M535.8 480.6h0M529.9 466.5h0M531.1 473.7h0M534.6 482.5h0M535.6 479.6h0M533.2 478.3h0M540.5 463.3h0M546.9 471.9h0M534.7 482.4h0M541.1 473.8h0M534.5 482.3h0M537.0 474.5h0M531.2 477.5h0M529.5 480.3h0M531.6 481.3h0M542.9 454.5h0M533.0 478.3h0M534.3 482.4h0M527.2 467.5h0M549.6 471.3h0M538.6 475.1h0M533.0 478.3h0M535.5 479.0h0M543.2 473.1h0M540.3 475.1h0M530.8 466.8h0M535.8 481.0h0M532.5 480.3h0M536.0 478.2h0M529.0 460.7h0M531.7 473.3h0M533.1 477.4h0M528.9 478.9h0M534.1 482.2h0M530.9 475.9h0M527.4 460.0h0M523.4 474.8h0M531.0 477.0h0M528.5 468.9h0M538.1 472.4h0M522.4 454.5h0M524.9 466.7h0M537.4 477.4h0M533.6 479.9h0M536.3 478.7h0M545.4 465.3h0M545.4 452.6h0M539.9 457.3h0M537.7 474.4h0M535.0 481.8h0M535.8 478.9h0M537.6 481.2h0M534.7 482.4h0M533.3 481.0h0M535.6 480.6h0M544.6 471.9h0M532.9 476.5h0M538.5 473.3h0M533.1 481.0h0M531.8 481.4h0M537.4 480.7h0M525.1 463.0h0M533.2 476.8h0M542.0 470.2h0M539.1 470.6h0M544.3 462.4h0M532.6 474.0h0M531.6 471.0h0M522.5 472.7h0M533.4 479.1h0M531.2 478.5h0M538.5 477.1h0M526.9 444.8h0M531.0 467.8h0M525.3 475.5h0M535.7 479.0h0M530.4 472.6h0M542.9 472.4h0M530.7 475.0h0M528.5 452.2h0M536.9 478.8h0M534.7 482.3h0M536.1 476.4h0M532.9 478.1h0M533.9 481.6h0M539.0 477.5h0M535.9 481.5h0M537.6 465.4h0M537.1 470.5h0M527.5 465.4h0M538.8 472.9h0M534.8 482.1h0M531.5 471.6h0M538.9 466.9h0M534.5 482.5h0M535.2 481.4h0M535.6 480.9h0M536.8 472.4h0M526.7 438.3h0M526.5 468.4h0M534.3 481.9h0M536.4 477.3h0M533.6 480.3h0M533.8 480.2h0M534.8 482.2h0M545.3 471.1h0M526.9 465.8h0M542.7 472.2h0M533.1 479.7h0M525.1 470.3h0M540.8 465.3h0M536.6 476.6h0M527.7 464.0h0M538.4 469.2h0M529.0 476.8h0M528.2 475.4h0M534.5 482.5h0M535.5 479.6h0M532.0 473.7h0M531.6 471.8h0M526.7 442.1h0M535.2 481.9h0M533.3 480.3h0M533.4 480.4h0M530.4 462.9h0M539.4 471.0h0M542.9 460.8h0M533.9 480.3h0M538.7 467.6h0M527.4 477.7h0M533.0 480.5h0M534.3 481.7h0M539.0 462.0h0M542.2 468.3h0M535.3 481.8h0M534.8 481.7h0M536.9 474.2h0M533.7 481.2h0M536.7 477.4h0M538.8 475.9h0M529.8 466.3h0M548.4 466.5h0M534.5 482.4h0M521.7 458.0h0M530.9 475.4h0M534.8 482.5h0M532.5 478.7h0M525.7 457.2h0M530.7 463.5h0M533.9 481.9h0M539.5 463.7h0M528.8 455.7h0M533.5 479.5h0M540.4 466.4h0M531.4 477.8h0M529.4 463.4h0M547.4 467.2h0M530.4 472.9h0M537.9 477.9h0M528.9 468.8h0M531.7 477.1h0M538.8 476.6h0M532.1 478.6h0M544.2 474.4h0M543.2 473.5h0M537.2 479.0h0M529.5 456.6h0M536.4 476.4h0M536.1 481.0h0M543.3 456.2h0M528.0 457.3h0M533.8 479.7h0M539.7 474.9h0M537.9 473.8h0M531.4 475.1h0M537.4 474.7h0M525.5 469.4h0M535.0 481.6h0M535.7 478.7h0M530.9 476.5h0M536.8 477.9h0M534.5 482.4h0M540.5 472.4h0M533.9 482.0h0M538.0 465.7h0M530.0 476.2h0M543.6 470.7h0M531.9 474.7h0M534.4 481.9h0M535.7 479.0h0M530.0 477.4h0M533.8 481.5h0M527.3 475.3h0M529.2 474.4h0M534.5 482.5h0M520.5 461.5h0M538.2 464.9h0M544.2 459.1h0M535.2 480.8h0M546.0 457.6h0M532.6 478.4h0M533.9 481.8h0M537.0 474.6h0M532.3 471.1h0M529.2 477.8h0M536.0 479.2h0M539.4 477.5h0M532.9 477.0h0M533.6 481.6h0M537.5 473.1h0M532.6 475.3h0M535.8 479.3h0M538.6 469.5h0M536.5 471.8h0M533.7 480.2h0M535.9 480.8h0M538.9 462.9h0M531.5 477.9h0M529.0 469.7h0M533.8 479.9h0M535.2 481.7h0M530.2 465.0h0M538.4 461.1h0M530.1 474.1h0M539.8 477.3h0M532.3 476.5h0M537.6 479.6h0M539.4 479.3h0M532.6 476.6h0M535.4 480.4h0M537.8 476.5h0M528.5 470.5h0M530.8 472.1h0M526.8 466.2h0M531.7 473.3h0M533.7 480.3h0M531.5 480.3h0M533.8 479.9h0M538.5 477.2h0M544.9 452.7h0M535.4 481.8h0M521.6 465.8h0M531.0 473.2h0M542.7 460.6h0M540.3 461.1h0M538.7 464.2h0M532.6 473.4h0M533.8 481.8h0M534.5 482.5h0M533.7 481.1h0M533.7 480.0h0M530.3 472.7h0M545.0 457.7h0M533.3 477.3h0M534.7 482.4h0M531.2 475.1h0M534.6 482.6h0M541.3 462.1h0M527.4 463.3h0M536.1 476.7h0M532.2 476.4h0M533.8 479.8h0M531.6 475.6h0M538.0 472.9h0M538.6 477.2h0M529.0 465.5h0M545.4 463.0h0M546.4 468.7h0M536.6 479.1h0M540.2 467.3h0M532.3 479.7h0M527.3 460.8h0M533.6 479.9h0M518.8 473.9h0M535.2 482.0h0M537.0 476.3h0M536.7 472.1h0M539.5 479.9h0M535.3 481.2h0M531.3 477.9h0M537.0 477.7h0M536.1 479.0h0M538.5 475.2h0M533.0 477.4h0M539.0 468.2h0M526.0 459.9h0M539.8 453.9h0M527.5 466.6h0M535.0 481.4h0M533.5 479.9h0M518.4 471.5h0M538.9 479.5h0M540.7 466.7h0M529.6 473.6h0M534.6 482.5h0M542.9 465.3h0M537.3 465.7h0M544.5 462.5h0M536.2 480.7h0M536.9 478.9h0M534.2 481.6h0M532.4 478.3h0M530.9 463.9h0M537.7 477.5h0M529.0 468.6h0M531.6 479.0h0M538.1 461.6h0M540.3 446.4h0M531.9 478.4h0M533.1 475.3h0M525.7 458.7h0M533.5 480.1h0M533.9 481.5h0M525.6 460.3h0M539.4 463.9h0M537.0 472.4h0M547.3 476.0h0M537.8 467.4h0M535.4 479.5h0M539.2 467.5h0M536.4 481.0h0M549.3 471.5h0M531.1 471.5h0M526.7 478.8h0M533.9 481.6h0M528.8 460.8h0M534.1 481.6h0M530.3 477.6h0M531.9 470.1h0M535.7 480.4h0M531.9 479.1h0M535.5 481.4h0M533.8 482.1h0M537.4 477.0h0M525.6 472.4h0M533.6 480.1h0M537.5 466.4h0M534.8 482.4h0M523.5 464.3h0M539.8 478.6h0M534.7 482.2h0M541.6 471.4h0M532.0 477.5h0M529.2 474.6h0M537.9 474.5h0M535.6 479.1h0M532.5 472.3h0M534.4 481.9h0M534.3 482.2h0M535.4 481.8h0M536.6 477.8h0M535.1 481.4h0M529.7 476.9h0M524.3 469.6h0M527.6 458.1h0M540.2 461.0h0M541.6 466.9h0M532.0 471.0h0M539.5 473.7h0M522.0 459.4h0M534.2 482.0h0M536.9 478.0h0M527.9 459.0h0M530.5 463.7h0M534.2 481.5h0M527.1 475.2h0M530.9 468.9h0M534.8 482.0h0M533.7 480.5h0M536.0 477.9h0M536.1 477.2h0M537.2 474.2h0M536.0 478.4h0M534.1 481.9h0M536.9 481.1h0M536.7 475.4h0M532.9 477.3h0M535.4 481.0h0M539.1 469.2h0M535.9 479.7h0M519.4 467.5h0M538.3 474.1h0M528.6 457.7h0M535.2 480.9h0M543.9 455.7h0M542.5 472.4h0M532.6 481.3h0M535.1 481.3h0M542.4 476.3h0M545.6 474.2h0M531.1 471.0h0M533.4 479.7h0M532.9 476.9h0M532.3 477.5h0M539.2 472.1h0M533.3 478.8h0M536.3 475.3h0M544.8 462.6h0M540.6 448.0h0M532.5 480.1h0M533.4 479.8h0M536.7 474.4h0M532.1 475.0h0M535.3 481.6h0M533.8 480.5h0M539.4 465.5h0M528.5 475.0h0M540.7 465.0h0M541.6 457.0h0M538.5 475.7h0M536.5 473.3h0M537.8 476.8h0M537.8 477.4h0M537.8 472.6h0M529.7 470.4h0M535.1 481.2h0M537.0 470.4h0M534.0 480.4h0M536.5 477.1h0M538.2 467.4h0M535.4 479.8h0M537.7 476.3h0M538.8 465.6h0M534.5 482.4h0M530.4 470.1h0M537.0 479.5h0M545.7 455.1h0M533.7 480.0h0M538.5 473.2h0M538.5 472.1h0M524.2 457.4h0M527.9 451.3h0M533.0 478.7h0M535.7 481.1h0M540.2 466.9h0M526.6 467.4h0M535.7 479.6h0M531.8 480.9h0M535.7 480.2h0M533.9 481.8h0M532.3 478.6h0M531.8 474.1h0M530.8 477.1h0M537.2 478.8h0M531.0 467.6h0M538.0 473.9h0M538.8 479.0h0M536.6 477.3h0M536.6 472.1h0M537.4 476.3h0M531.4 469.6h0M534.5 482.2h0M532.6 479.3h0M538.4 475.5h0M534.3 481.7h0M533.2 477.2h0M528.9 475.1h0M542.7 477.6h0M535.4 481.7h0M543.1 469.6h0M532.0 477.4h0M541.4 453.5h0M532.7 478.2h0M529.1 458.8h0M535.8 479.6h0M531.9 474.5h0M537.3 478.2h0M535.7 479.8h0M537.2 473.1h0M533.6 479.5h0M532.5 478.6h0M540.5 449.6h0M528.4 466.7h0M527.5 466.1h0M538.0 477.3h0M538.1 471.9h0M534.2 481.6h0M528.3 457.2h0M521.3 451.1h0M536.7 477.4h0M526.9 461.0h0M536.9 475.5h0M535.7 478.2h0M537.4 474.4h0M534.3 481.4h0M530.1 476.0h0M530.9 471.4h0M522.4 465.7h0M533.6 479.5h0M530.2 473.5h0M536.8 479.4h0M534.3 482.1h0M527.6 468.3h0M533.4 478.5h0M536.6 475.2h0M536.6 479.5h0M530.3 466.2h0M525.3 462.9h0M533.8 481.4h0M535.0 482.2h0M531.8 476.7h0M533.8 479.4h0M541.9 470.3h0M523.5 471.1h0M536.7 475.2h0M526.3 462.1h0M540.1 461.1h0M535.0 481.3h0M538.8 460.5h0M530.8 470.6h0M532.9 475.1h0M533.6 478.0h0M536.6 481.8h0M530.0 468.5h0M532.0 478.0h0M538.9 464.6h0M529.4 472.7h0M533.9 482.1h0M535.5 481.3h0M540.6 476.3h0M537.4 475.0h0M535.1 481.4h0M520.1 470.1h0M533.4 478.8h0M539.3 466.1h0M540.3 444.6h0M528.7 478.3h0M532.8 479.2h0M539.1 475.7h0M540.1 474.4h0M531.7 481.1h0M533.3 481.0h0M535.6 480.6h0M536.1 479.4h0M534.1 481.3h0M530.6 468.4h0M533.0 477.7h0M528.0 461.2h0M530.1 469.0h0M535.2 480.9h0M537.2 480.0h0M533.0 478.4h0M520.5 462.4h0M534.8 482.2h0M541.4 459.2h0M534.3 482.2h0M534.9 482.3h0M538.2 469.1h0M550.3 466.4h0M539.9 453.9h0M537.5 474.3h0M532.1 470.7h0M539.4 477.7h0M533.5 481.0h0M540.2 433.9h0M533.4 477.0h0M535.7 480.5h0M532.7 480.2h0M533.5 479.2h0M532.1 469.2h0M522.4 475.4h0M543.0 454.1h0M535.7 481.5h0M532.7 480.2h0M537.7 471.0h0M542.5 460.4h0M533.1 479.1h0M533.5 480.9h0M531.1 472.6h0M536.3 479.6h0M534.2 482.4h0M535.7 478.1h0M525.9 478.3h0M534.1 481.1h0M533.9 479.5h0M528.3 462.1h0M528.9 472.8h0M532.9 475.0h0M536.6 480.9h0M533.7 480.2h0M530.3 477.5h0M540.3 471.5h0M532.8 476.6h0M534.6 482.5h0M532.3 477.3h0M542.9 455.0h0M535.0 481.8h0M528.1 464.6h0M535.2 481.3h0M535.6 479.7h0M531.4 462.2h0M536.5 478.9h0M532.7 478.1h0M540.1 469.7h0M534.0 481.9h0M538.5 470.0h0M540.2 472.7h0M531.2 473.0h0M531.4 476.2h0M542.8 473.1h0M536.1 475.6h0M545.9 470.4h0M531.5 473.0h0M543.1 470.7h0M529.1 468.5h0M535.3 480.2h0M532.5 475.5h0M540.9 470.2h0M533.1 475.6h0M534.1 482.2h0M537.1 476.0h0M531.1 467.4h0M541.9 461.1h0M534.6 482.6h0M531.0 478.7h0M529.9 458.8h0M539.4 472.4h0M534.4 482.3h0M538.7 469.5h0M528.1 463.4h0M527.3 475.9h0M534.6 482.6h0M536.8 480.4h0M536.7 480.7h0M532.7 477.6h0M529.0 473.5h0M532.6 480.4h0M531.9 472.8h0M542.2 456.8h0M534.7 482.4h0M540.4 453.7h0M534.6 482.6h0M539.6 465.4h0M532.3 478.2h0M529.5 471.0h0M534.1 481.2h0M537.0 468.1h0M527.8 460.8h0M535.7 480.7h0M525.0 465.4h0M532.4 475.9h0M534.4 482.3h0M537.5 473.9h0M521.0 469.8h0M534.9 482.4h0M545.5 470.0h0M523.2 458.7h0M532.1 477.7h0M534.8 482.3h0M520.3 460.2h0M534.4 482.0h0M532.4 478.7h0M534.9 482.1h0M533.6 481.6h0M525.0 455.7h0M531.5 463.0h0M534.0 481.8h0M531.2 474.8h0M537.7 473.4h0M534.5 482.4h0M535.4 480.7h0M534.4 482.4h0M530.1 468.0h0M530.1 472.2h0M536.9 472.8h0M527.6 450.6h0M540.7 455.1h0M528.8 465.5h0M536.7 474.9h0M535.8 480.7h0M536.6 477.8h0M540.8 477.8h0M528.7 464.1h0M544.0 460.9h0M526.0 466.7h0M541.3 465.9h0M536.3 477.7h0M530.2 457.2h0M538.6 475.1h0M534.5 482.4h0M539.1 467.7h0M535.2 480.3h0M532.8 475.5h0M532.3 472.3h0M534.7 482.4h0M531.2 480.6h0M536.6 479.3h0M542.5 462.8h0M535.3 481.3h0M534.6 482.6h0M539.1 470.9h0M534.9 482.0h0M538.0 474.4h0M538.0 471.8h0M537.0 475.2h0M538.6 480.5h0M529.4 468.0h0M534.7 482.5h0M529.3 475.7h0M546.0 455.8h0M532.7 479.5h0M534.6 482.5h0M538.7 476.4h0M531.7 470.4h0M531.5 470.5h0M535.7 480.2h0M538.0 480.9h0M544.9 473.8h0M539.5 473.4h0M521.4 457.2h0M538.5 459.9h0M540.5 465.4h0M532.0 475.7h0M535.8 479.7h0M531.4 476.2h0M538.5 476.2h0M531.2 469.0h0M533.9 479.7h0M531.4 475.2h0M534.1 481.4h0M537.3 476.8h0M538.0 478.3h0M525.4 471.3h0M537.1 479.0h0M532.6 475.4h0M535.1 482.0h0M533.1 477.0h0M545.4 473.2h0M541.2 464.9h0M534.1 481.1h0M531.8 479.4h0M536.3 476.6h0M528.3 466.7h0M529.0 463.7h0M521.0 475.4h0M531.2 475.1h0M533.2 478.1h0M543.8 456.8h0M543.2 460.7h0M534.8 482.0h0M528.7 460.7h0M529.7 480.4h0M530.6 474.4h0M531.0 470.3h0M531.0 478.7h0M535.4 481.0h0M535.2 480.5h0M536.5 478.2h0M534.7 482.3h0M540.7 471.3h0M537.9 471.2h0M534.0 480.9h0M535.3 481.3h0M532.5 471.2h0M538.5 472.0h0M539.6 461.8h0M534.8 481.9h0M534.7 482.5h0M539.6 471.8h0M536.5 476.5h0M532.5 480.5h0M532.0 467.7h0M531.3 469.9h0M529.8 473.7h0M546.0 476.8h0M533.8 480.0h0M543.3 475.4h0M537.7 470.3h0M536.7 476.4h0M531.7 478.3h0M539.6 468.2h0M534.2 482.1h0M545.1 456.9h0M538.6 477.9h0M525.8 460.8h0M532.2 477.8h0M530.2 476.3h0M528.2 470.0h0M528.7 474.8h0M537.2 476.7h0M534.6 482.5h0M532.4 472.3h0M541.2 471.7h0M534.9 481.8h0M529.6 467.7h0M531.4 466.2h0M530.4 478.9h0M546.0 475.9h0M538.3 475.8h0M541.5 472.0h0M532.9 476.9h0M535.0 481.7h0M529.6 467.0h0M540.6 456.1h0M517.5 473.0h0M534.4 482.3h0M536.8 475.0h0M542.1 458.6h0M532.7 479.7h0M534.4 481.7h0M529.0 475.0h0M540.1 475.3h0M534.1 480.8h0M538.8 474.4h0M534.5 482.5h0M533.5 479.9h0M529.6 469.8h0M532.4 479.6h0M531.4 477.5h0M535.3 481.5h0M538.3 478.1h0M533.2 481.1h0M533.4 480.2h0M534.3 481.5h0M541.7 474.2h0M535.5 479.8h0M524.6 464.7h0M536.5 479.5h0M536.5 480.3h0M529.7 450.8h0M527.4 478.8h0M548.0 466.5h0M529.0 468.5h0M534.2 482.3h0M537.6 477.9h0M543.1 470.6h0M530.9 463.9h0M534.6 482.5h0M533.6 481.4h0M543.2 450.6h0M547.8 468.3h0M527.6 474.0h0M534.3 482.0h0M532.1 472.8h0M528.4 467.4h0M537.6 477.9h0M533.2 479.4h0M537.8 477.9h0M527.6 467.2h0M539.7 450.2h0M533.4 479.1h0M532.7 473.8h0M537.2 473.8h0M531.7 464.0h0M532.7 477.7h0M533.2 478.3h0M535.3 480.2h0M536.1 481.3h0M539.1 466.5h0M528.3 470.4h0M532.5 476.3h0M540.1 467.4h0M534.1 481.3h0M528.7 467.8h0M536.8 476.3h0M532.5 479.9h0M541.2 476.2h0M540.2 479.7h0M531.4 473.4h0M536.0 477.0h0M539.7 473.6h0M526.1 462.3h0M533.7 480.4h0M538.5 474.3h0M538.0 480.0h0M532.3 470.6h0M532.9 474.3h0M535.3 480.4h0M539.2 469.1h0M530.4 478.2h0M534.7 482.5h0M542.7 465.1h0M534.4 482.0h0M524.8 474.3h0M535.3 481.5h0M529.7 465.8h0M531.3 471.2h0M536.9 480.3h0M526.2 467.9h0M535.5 481.3h0M528.1 474.9h0M545.0 464.7h0M519.9 472.0h0M530.4 462.9h0M539.6 476.5h0M529.7 472.9h0M534.1 481.6h0M539.6 477.6h0M530.1 478.7h0M532.7 479.5h0M533.6 479.9h0M536.6 477.6h0M534.9 482.0h0M530.7 467.3h0M523.0 471.2h0M549.6 471.8h0M533.2 476.0h0M534.7 482.4h0M532.1 476.4h0M533.3 481.5h0M528.8 475.4h0M539.0 465.4h0M530.2 469.4h0M539.0 470.1h0M531.6 475.0h0M541.2 471.2h0M533.3 479.7h0M541.9 457.3h0M536.3 478.7h0M535.0 481.0h0M533.1 479.7h0M529.5 464.9h0M535.0 481.1h0M534.3 481.8h0M532.5 477.6h0M540.7 454.9h0M533.1 477.6h0M530.0 468.5h0M537.2 473.0h0M535.7 481.5h0M551.0 473.5h0M526.3 473.7h0M541.5 456.0h0M531.0 468.9h0M531.0 473.8h0M527.2 469.3h0M525.2 452.7h0M539.4 470.2h0M535.9 479.7h0M524.5 469.5h0M534.8 481.9h0M533.2 480.2h0M538.2 467.5h0M533.9 480.3h0M537.9 474.9h0M531.6 473.6h0M518.9 473.3h0M533.5 481.3h0M534.4 482.2h0M535.9 479.7h0M534.5 482.4h0M529.9 471.4h0M545.1 476.0h0M533.0 479.8h0M529.5 478.3h0M536.8 475.3h0M532.2 474.0h0M535.1 481.6h0M526.8 463.2h0M533.2 479.5h0M552.0 470.9h0M537.4 472.9h0M533.8 481.6h0M533.5 480.1h0M533.0 476.1h0M546.5 463.4h0M528.5 479.1h0M529.5 466.7h0M522.0 459.3h0M531.4 469.4h0M539.5 473.4h0M540.1 456.2h0M530.4 473.5h0M534.5 482.5h0M537.2 479.4h0M537.3 474.1h0M527.3 471.0h0M532.0 473.8h0M535.9 476.0h0M539.7 467.3h0M534.9 482.0h0M541.5 471.5h0M528.9 470.4h0M551.8 472.9h0M539.4 478.6h0M538.4 476.1h0M536.7 473.7h0M535.9 478.6h0M536.7 475.0h0M537.2 477.6h0M533.7 480.0h0M533.3 480.0h0M531.4 472.9h0M531.8 479.0h0M535.8 479.2h0M534.1 481.1h0M531.3 472.1h0M531.2 473.6h0M535.6 479.3h0M528.8 463.2h0M535.3 481.0h0M536.8 479.1h0M537.8 476.5h0M531.7 474.0h0M531.9 478.7h0M537.6 475.9h0M544.7 467.4h0M533.4 479.1h0M525.4 463.8h0M536.3 476.4h0M531.4 472.2h0M538.6 477.3h0M531.9 479.6h0M533.3 479.5h0M523.5 451.2h0M536.9 475.1h0M534.4 482.1h0M537.2 477.4h0M530.5 469.0h0M520.5 475.1h0M533.6 480.9h0M526.0 470.9h0M532.2 474.6h0M535.5 480.2h0M533.8 480.4h0M532.4 471.8h0M539.5 466.2h0M542.0 454.0h0M542.7 463.7h0M533.6 479.8h0M539.6 476.9h0M534.0 480.1h0M537.8 476.2h0M540.5 457.7h0M541.9 463.5h0M535.1 481.9h0M530.0 468.5h0M540.5 474.5h0M531.5 479.1h0M533.5 479.1h0M534.6 482.5h0M526.9 472.4h0M537.1 475.4h0M529.3 473.3h0M532.3 474.1h0M535.8 480.3h0M531.9 476.4h0M534.3 482.0h0M535.2 481.9h0M530.9 468.5h0M533.6 481.9h0M534.5 482.4h0M531.7 479.8h0M533.4 480.5h0M528.1 471.0h0M539.9 470.7h0M540.7 476.3h0M543.1 461.2h0M544.4 464.4h0M531.6 469.6h0M532.6 480.2h0M531.1 471.9h0M520.1 468.1h0M527.8 464.6h0M524.9 477.8h0M539.4 460.1h0M529.1 456.9h0M528.6 470.0h0M537.5 469.2h0M531.1 470.2h0M533.7 481.0h0M535.5 481.8h0M549.7 469.0h0M537.2 477.2h0M527.4 461.6h0M536.7 474.8h0M532.8 473.7h0M534.4 482.1h0M535.3 480.4h0M532.7 478.1h0M527.7 446.9h0M528.4 466.4h0M536.1 479.1h0M540.8 475.2h0M545.4 461.3h0M528.2 469.5h0M531.6 477.5h0M538.2 470.1h0M529.9 469.3h0M541.1 452.9h0M536.7 475.6h0M540.5 468.5h0M530.8 472.0h0M531.1 470.7h0M538.5 480.9h0M539.5 466.9h0M533.4 481.0h0M536.4 480.1h0M534.5 482.3h0M539.7 467.6h0M539.1 474.2h0M529.5 476.2h0M541.4 464.7h0M541.2 473.8h0M533.2 479.3h0M533.8 480.2h0M528.3 464.0h0M527.3 474.5h0M537.8 476.5h0M528.3 456.5h0M538.0 478.7h0M539.2 469.0h0M527.0 471.9h0M526.9 457.5h0M540.3 464.3h0M537.2 473.6h0M533.9 480.0h0M539.1 474.5h0M539.2 454.6h0M546.4 476.6h0M535.9 480.2h0M531.7 476.4h0M534.0 481.6h0M539.3 475.5h0M539.6 476.7h0M538.8 464.6h0M534.8 481.6h0M531.7 477.4h0M516.8 469.8h0M533.2 477.7h0M539.3 474.0h0M537.9 475.7h0M532.6 476.5h0M528.0 465.6h0M532.6 478.9h0M527.6 471.0h0M532.6 477.0h0M530.8 471.2h0M529.2 465.4h0M538.8 475.6h0M533.8 481.0h0M531.7 471.8h0M530.9 472.6h0M535.1 481.1h0M532.8 478.8h0M534.4 482.2h0M533.2 478.6h0M538.3 475.0h0M530.2 476.5h0M523.2 468.8h0M540.1 466.2h0M537.2 481.5h0M533.2 479.2h0M534.2 481.4h0M531.8 474.7h0M527.0 474.3h0M546.5 473.4h0M530.7 476.8h0M527.5 452.4h0M533.2 480.2h0M530.8 475.7h0M525.5 462.8h0M535.6 478.0h0M531.0 479.4h0M528.1 462.0h0M536.7 475.2h0M534.5 482.3h0M543.0 452.4h0M524.2 466.0h0M530.4 468.9h0M532.8 475.6h0M535.1 482.2h0M533.7 481.5h0M534.9 481.9h0M543.1 453.8h0M540.4 479.1h0M521.6 452.5h0M537.2 473.8h0M530.7 478.9h0M532.7 478.3h0M534.8 482.4h0M549.1 468.2h0M532.2 476.5h0M531.0 472.9h0M534.3 482.0h0M522.2 461.2h0M532.6 474.4h0M536.4 478.2h0M539.4 462.4h0M533.8 480.7h0M540.1 468.4h0M534.8 482.4h0M535.2 481.1h0M532.6 479.4h0M526.3 455.8h0M538.8 468.2h0M533.8 482.0h0M538.7 455.8h0M538.4 471.1h0M539.3 464.9h0M524.5 470.2h0M529.6 467.8h0M532.5 478.9h0M531.9 470.4h0M526.6 462.2h0M538.6 478.3h0M540.5 464.4h0M536.7 475.5h0M533.7 479.6h0M531.0 477.3h0M537.4 475.9h0M550.6 466.2h0M533.1 480.3h0M539.0 458.2h0M534.3 482.3h0M536.8 479.7h0M534.6 482.6h0M539.9 468.5h0M532.4 477.2h0M538.9 476.0h0M536.3 480.0h0M547.8 469.3h0M533.5 480.8h0M522.0 455.0h0M532.1 475.2h0M532.7 479.0h0M549.1 474.8h0M533.1 479.7h0M542.9 473.5h0M544.3 467.7h0M532.1 475.8h0M534.9 481.7h0M525.7 470.3h0M529.8 465.5h0M548.7 473.9h0M528.3 467.6h0M532.7 476.0h0M528.7 466.7h0M539.6 467.5h0M535.1 481.8h0M534.0 480.2h0M531.6 475.4h0M534.4 482.0h0M533.0 477.2h0M534.4 481.8h0M527.9 473.4h0M526.2 462.2h0M538.1 477.2h0M538.0 472.7h0M534.7 482.2h0M534.3 482.4h0M537.9 468.6h0M532.9 480.1h0M530.1 454.6h0M538.4 462.8h0M530.0 473.2h0M548.4 463.1h0M536.1 477.9h0M535.5 479.1h0M531.6 476.1h0M535.0 481.9h0M539.4 472.6h0M541.1 470.3h0M544.0 469.5h0M536.0 478.7h0M531.4 473.3h0M539.6 479.9h0M537.8 474.3h0M532.3 477.2h0M530.9 479.7h0M534.2 481.7h0M538.9 470.2h0M534.2 482.0h0M533.7 480.6h0M530.3 479.8h0M524.0 460.9h0M538.4 475.4h0M537.8 479.7h0M536.7 479.6h0M530.4 473.7h0M533.9 481.7h0M539.8 474.2h0M532.4 478.4h0M527.8 467.0h0M529.8 472.7h0M535.3 481.5h0M529.6 467.8h0M531.4 475.5h0M537.6 475.3h0M524.0 466.3h0M545.7 465.0h0M537.2 480.1h0M542.3 457.5h0M528.6 461.9h0M536.0 480.0h0M531.0 467.5h0M536.6 481.6h0M530.3 476.7h0M534.1 481.0h0M527.4 475.7h0M534.2 481.1h0M534.7 482.5h0M533.7 479.7h0M537.7 472.7h0M539.0 472.9h0M535.8 477.3h0M541.4 472.8h0M526.7 456.6h0M536.1 478.8h0M530.8 479.4h0M531.9 474.2h0M542.1 472.9h0M537.5 467.6h0M530.1 463.0h0M532.8 474.9h0M532.7 475.6h0M536.7 478.6h0M528.8 460.7h0M532.0 475.5h0M534.9 481.3h0M530.1 457.6h0M546.1 471.9h0M536.0 481.6h0M534.3 481.9h0M536.6 474.7h0M533.0 479.8h0M534.3 481.7h0M531.9 479.3h0M537.4 477.0h0M540.0 470.3h0M526.7 443.8h0M532.6 472.3h0M536.4 475.7h0M534.6 482.6h0M535.1 481.9h0M532.2 478.0h0M539.1 467.9h0M534.4 482.3h0M544.2 471.2h0M535.6 480.3h0M535.0 481.5h0M534.6 482.6h0M536.4 479.2h0M532.9 473.6h0M532.2 477.8h0M533.9 480.5h0M531.6 480.6h0M533.0 477.9h0M536.0 477.8h0M537.3 472.3h0M539.2 476.8h0M533.9 481.9h0M534.4 482.1h0M524.2 461.5h0M537.7 469.5h0M542.6 465.2h0M535.1 482.0h0M539.6 473.2h0M533.6 480.7h0M532.9 479.7h0M519.4 474.4h0M531.3 466.2h0M531.0 478.7h0M533.5 480.7h0M526.8 463.3h0M531.8 476.8h0M540.2 476.2h0M531.9 471.5h0M542.3 467.8h0M533.5 481.3h0M531.1 471.4h0M536.3 476.9h0M536.1 480.0h0M537.3 476.2h0M530.4 476.8h0M527.0 472.1h0M530.3 469.7h0M540.8 465.7h0M540.4 456.7h0M539.0 478.9h0M537.8 472.4h0M533.0 474.4h0M534.3 482.3h0M521.2 475.5h0M534.0 480.7h0M545.7 458.2h0M535.0 481.2h0M527.7 475.6h0M530.1 467.5h0M540.7 473.4h0M536.2 480.4h0M533.6 481.6h0M540.4 473.6h0M540.1 477.5h0M538.0 475.1h0M530.1 456.9h0M536.5 481.4h0M532.9 476.7h0M534.9 482.0h0M537.9 471.0h0M539.4 459.0h0M523.0 458.5h0M534.8 482.1h0M532.3 478.5h0M535.4 481.2h0M534.8 482.1h0M521.7 475.9h0M536.6 475.6h0M546.1 470.2h0M534.3 482.0h0M533.5 480.7h0M540.9 469.6h0M534.5 482.5h0M542.1 456.2h0M540.2 451.3h0M535.2 481.8h0M540.7 455.1h0M543.8 472.2h0M533.1 479.8h0M534.9 482.0h0M538.0 477.3h0M528.9 465.5h0M538.5 476.3h0M529.2 468.5h0M521.1 475.5h0M538.5 474.5h0M543.0 465.3h0M532.6 475.3h0M528.3 467.1h0M539.4 464.3h0M534.0 481.7h0M534.8 482.2h0M529.7 469.6h0M524.9 466.2h0M531.0 479.4h0M531.2 461.1h0M529.8 472.8h0M552.5 472.4h0M527.7 476.3h0M529.8 478.3h0M528.4 464.7h0M536.6 478.7h0M529.6 469.1h0M542.1 472.1h0M538.1 474.0h0M526.0 471.0h0M526.0 454.3h0M535.9 478.4h0M535.8 478.8h0M540.2 461.6h0M535.2 481.5h0M529.2 459.9h0M530.9 472.7h0M524.9 452.4h0M535.7 479.6h0M537.3 472.9h0M534.1 481.3h0M540.4 477.3h0M528.6 461.5h0M537.6 467.4h0M535.0 482.1h0M536.2 481.3h0M534.3 481.7h0M534.5 482.5h0M546.3 476.6h0M533.2 480.3h0M531.2 470.8h0M533.5 478.0h0M529.8 454.3h0M546.4 473.2h0M528.6 467.6h0M536.1 474.9h0M522.7 480.0h0M544.7 478.7h0M524.9 477.2h0M530.2 473.8h0M535.2 475.0h0M529.0 468.1h0M529.5 475.6h0M521.4 480.5h0M535.1 476.1h0M527.2 475.5h0M547.8 465.8h0M523.6 481.6h0M534.3 481.0h0M528.4 475.8h0M553.8 471.3h0M528.7 477.8h0M541.5 480.9h0M530.1 473.2h0M539.9 474.7h0M532.4 474.0h0M545.5 476.7h0M523.1 480.7h0M542.4 479.3h0M539.1 477.8h0M535.4 481.3h0M539.6 475.1h0M527.3 479.5h0M532.0 478.2h0M532.1 472.7h0M541.5 480.0h0M541.5 479.5h0M533.2 473.0h0M523.0 469.7h0M539.8 481.5h0M536.6 477.6h0M530.0 479.9h0M528.6 468.9h0M537.4 481.2h0M540.9 477.9h0M541.3 476.3h0M527.9 473.3h0M556.3 477.9h0M526.3 477.0h0M542.9 474.8h0M547.6 472.1h0M538.8 478.6h0M545.4 475.6h0M536.1 479.2h0M534.7 480.8h0M535.6 481.4h0M530.6 477.3h0M529.3 470.6h0M543.0 480.5h0M528.5 478.5h0M531.3 471.4h0M544.4 481.0h0M540.6 476.3h0M523.8 475.9h0M548.4 479.7h0M552.3 473.4h0M528.5 480.5h0M545.2 481.5h0M535.7 481.7h0M542.4 481.6h0M537.1 481.3h0M527.4 472.4h0M530.6 472.6h0M532.6 481.6h0M542.2 471.5h0M526.2 480.6h0M538.8 474.1h0M527.2 480.6h0M529.2 471.4h0M527.8 474.5h0M524.2 471.4h0M548.1 477.4h0M530.7 477.4h0M526.4 478.0h0M545.2 480.0h0M538.4 480.7h0M543.5 476.1h0M548.0 481.7h0M532.5 480.2h0M545.4 470.5h0M534.9 477.0h0M526.7 481.8h0M530.1 475.7h0M515.3 476.7h0M521.3 468.1h0M539.8 479.5h0M536.9 475.1h0M527.9 476.7h0M535.5 475.9h0M532.7 475.8h0M537.7 473.9h0M520.0 463.4h0M535.7 481.2h0M543.2 476.6h0M527.2 471.4h0M541.7 477.5h0M543.4 481.3h0M530.7 476.3h0M531.2 477.1h0M523.3 474.7h0M557.1 474.0h0M538.3 473.2h0M531.8 477.2h0M529.3 476.3h0M537.0 476.6h0M542.4 473.8h0M525.6 478.6h0M536.1 481.3h0M529.7 474.7h0M539.7 473.8h0M533.2 477.0h0M535.4 475.2h0M534.5 480.6h0M541.2 474.5h0M525.7 476.7h0M520.1 477.3h0M555.8 480.8h0M530.1 477.1h0M549.3 473.7h0M535.0 481.3h0M530.3 476.8h0M523.1 475.9h0M545.8 471.9h0M533.7 476.9h0M539.4 481.1h0M540.2 480.3h0M534.1 475.3h0M531.3 476.8h0M533.8 478.4h0M545.5 479.3h0M535.2 478.1h0M546.6 478.8h0M551.7 475.5h0M534.2 478.0h0M533.7 480.6h0M541.9 478.4h0M547.8 471.2h0M528.0 477.6h0M530.9 475.0h0M524.3 473.9h0M533.4 475.1h0M531.3 475.7h0M531.6 479.1h0M527.7 472.1h0M539.2 474.5h0M536.4 478.4h0M531.0 481.5h0M528.9 473.5h0M536.9 476.9h0M533.6 475.9h0M547.9 473.0h0M537.8 475.1h0M531.0 480.6h0M517.8 477.6h0M542.3 478.0h0M540.8 469.1h0M533.1 474.2h0M546.9 478.4h0M522.3 480.7h0M535.4 476.5h0M533.9 480.6h0M547.1 477.5h0M528.7 481.6h0M544.4 477.7h0M536.4 478.4h0M545.3 475.6h0M522.7 479.5h0M517.5 471.4h0M540.5 477.4h0M526.0 479.7h0M522.5 477.9h0M535.7 473.6h0M526.2 479.3h0M549.7 480.6h0M531.6 480.5h0M541.8 474.8h0M523.8 471.0h0M542.3 479.7h0M541.4 473.3h0M536.2 480.2h0M538.9 478.6h0M527.8 479.9h0M534.7 481.6h0M530.1 480.9h0M538.0 480.6h0M540.3 476.1h0M540.1 475.1h0M542.3 472.1h0M540.6 477.5h0M553.6 473.9h0M545.4 476.7h0M536.2 473.8h0M539.2 479.4h0M547.7 473.6h0M527.5 478.6h0M540.2 476.3h0M535.8 480.1h0M537.1 478.2h0M541.8 479.3h0M523.5 466.7h0M532.9 474.9h0M541.6 477.7h0M517.9 472.9h0M535.6 479.7h0M538.3 480.2h0M538.3 472.7h0M516.2 473.2h0M518.8 475.9h0M542.6 479.0h0M531.5 471.3h0M534.9 480.6h0M531.0 470.9h0M537.0 478.9h0M544.5 478.2h0M547.4 473.4h0M514.3 470.2h0M535.1 474.5h0M539.2 475.1h0M524.1 473.2h0M541.1 478.0h0M547.0 480.3h0M531.7 472.5h0M540.4 469.8h0M525.9 472.6h0M548.8 469.9h0M534.2 479.2h0M541.2 473.1h0M534.3 473.9h0M517.8 481.5h0M550.7 477.0h0M535.8 473.1h0M541.0 480.5h0M533.7 479.0h0M531.5 476.8h0M525.1 473.4h0M542.7 472.1h0M527.0 479.0h0M553.1 480.4h0M533.5 480.1h0M537.8 480.6h0M544.1 475.0h0M540.1 470.8h0M534.1 478.0h0M524.0 465.3h0M538.6 474.3h0M544.0 467.1h0M534.8 479.1h0M527.6 474.0h0M532.8 478.7h0M531.8 480.8h0M532.4 481.3h0M535.1 477.1h0M539.2 480.5h0M528.5 474.5h0M539.2 472.5h0M525.9 478.9h0M539.3 474.5h0M541.3 473.5h0M536.1 475.5h0M537.7 480.3h0M526.8 480.7h0M535.4 481.6h0M547.3 473.5h0M529.8 480.2h0M533.5 481.2h0M548.3 475.4h0M536.2 477.2h0M534.6 479.3h0M532.1 474.1h0M536.0 473.5h0M551.5 461.5h0M533.8 481.0h0M543.4 474.0h0M547.0 470.9h0M538.3 481.1h0M543.6 481.7h0M526.2 478.7h0M540.9 477.6h0M527.4 473.4h0M538.2 471.3h0M539.4 474.8h0M539.9 479.7h0M529.7 474.0h0M537.6 481.8h0M532.8 474.6h0M521.6 479.4h0M544.3 476.5h0M530.7 471.1h0M534.1 474.8h0M543.3 472.1h0M532.9 473.3h0M538.0 476.7h0M541.3 478.4h0M545.5 479.3h0M551.4 479.4h0M537.3 475.2h0M526.1 479.4h0M538.5 475.0h0M540.1 478.9h0M531.6 481.3h0M538.9 476.8h0M545.3 479.2h0M530.3 477.0h0M538.7 473.4h0M534.6 479.1h0M535.1 480.6h0M543.8 470.3h0M542.6 474.8h0M527.7 474.6h0M545.7 472.3h0M555.1 477.9h0M517.7 469.5h0M536.4 476.2h0M531.5 474.3h0M537.8 479.2h0M544.6 475.3h0M529.4 477.9h0M530.2 477.0h0M534.1 474.5h0M537.1 481.1h0M540.5 480.2h0M538.9 475.3h0M536.1 480.8h0M526.6 477.7h0M537.0 481.5h0M535.9 476.5h0M529.4 477.7h0M534.3 476.3h0M530.3 475.3h0M536.5 474.5h0M535.7 473.6h0M542.5 479.6h0M530.9 479.7h0M528.5 476.0h0M532.7 478.5h0M537.8 480.0h0M538.7 480.1h0M526.9 478.9h0M526.9 476.6h0M540.8 477.7h0M540.6 480.1h0M543.3 475.3h0M536.1 474.9h0M530.7 472.3h0M520.6 475.4h0M539.6 476.4h0M522.8 479.3h0M544.2 475.5h0M530.3 472.4h0M534.4 477.5h0M533.5 480.5h0M538.0 476.8h0M534.1 473.9h0M534.1 481.2h0M520.7 478.2h0M539.2 473.7h0M536.4 481.8h0M528.2 476.8h0M550.4 477.1h0M541.8 474.4h0M534.9 475.0h0M529.7 480.6h0M541.2 472.7h0M533.7 479.8h0M539.4 481.3h0M536.9 476.2h0M530.1 475.7h0M538.7 480.0h0M526.4 477.4h0M535.5 475.3h0M520.9 476.9h0M537.3 474.0h0M542.4 479.1h0M539.2 475.0h0M527.5 475.5h0M546.5 479.3h0M534.4 478.7h0M522.9 475.0h0M535.1 473.3h0M530.4 474.5h0M530.5 477.8h0M546.3 476.9h0M542.7 481.8h0M528.8 480.5h0M540.7 476.9h0M533.8 477.9h0M530.1 480.4h0M542.1 478.4h0M545.3 479.2h0M530.7 474.4h0M546.5 477.3h0M540.3 473.8h0M532.8 479.2h0M541.2 473.1h0M532.0 477.1h0M536.6 473.3h0M537.5 471.4h0M542.1 472.7h0M521.7 470.3h0M545.3 476.0h0M527.7 478.6h0M551.1 477.7h0M540.8 473.6h0M522.5 479.2h0M543.5 480.9h0M529.5 474.3h0M542.1 477.5h0M536.8 481.1h0M540.2 475.1h0M534.1 481.2h0M536.1 481.7h0M537.7 480.5h0M532.1 474.7h0M531.0 479.6h0M529.3 473.9h0M539.2 481.6h0M534.9 478.7h0M534.6 477.2h0M549.4 479.4h0M541.2 470.4h0M545.8 480.4h0M542.2 473.9h0M529.5 477.4h0M540.0 474.1h0M530.6 475.3h0M531.1 481.0h0M529.1 470.1h0M535.2 481.0h0M525.2 475.1h0M542.0 475.8h0M532.0 473.9h0M535.2 480.7h0M534.6 477.8h0M528.4 476.8h0M535.2 478.5h0M548.3 479.9h0M539.2 478.6h0M534.5 475.1h0M532.2 471.5h0M520.4 472.6h0M528.0 478.9h0M534.9 477.9h0M541.3 478.0h0M539.1 479.3h0M543.1 475.3h0M536.3 474.3h0M539.6 471.2h0M537.4 480.2h0M533.1 480.4h0M533.8 473.2h0M548.6 476.5h0M527.9 471.0h0M529.6 481.6h0M546.8 477.7h0M530.4 473.3h0M527.5 481.3h0M542.3 478.5h0M547.8 468.6h0M544.0 481.2h0M540.8 475.1h0M528.4 481.4h0M537.2 476.7h0M541.0 481.0h0M534.7 474.7h0M530.3 480.9h0M543.9 466.9h0M539.8 480.0h0M543.9 480.6h0M557.7 476.8h0M533.4 476.9h0M533.6 480.4h0M525.9 474.6h0M533.9 477.8h0M520.2 478.3h0M533.6 479.2h0M530.9 479.7h0M538.9 475.1h0M521.3 476.9h0M533.5 474.5h0M542.3 481.1h0M525.2 479.4h0M530.4 473.4h0M523.3 475.6h0M524.4 477.9h0M525.3 477.1h0M532.6 479.3h0M531.5 477.2h0M548.8 480.8h0M527.3 480.6h0M535.1 479.4h0M544.4 474.0h0M550.7 478.3h0M516.1 480.9h0M540.8 476.3h0M531.4 475.6h0M536.9 474.1h0M535.8 473.4h0M535.4 473.7h0M528.9 478.3h0M556.5 473.7h0M527.0 478.1h0M543.7 476.4h0M541.0 479.6h0M536.8 476.5h0M534.5 476.3h0M525.0 475.0h0M550.1 479.1h0M530.2 481.1h0M532.5 473.5h0M535.6 477.5h0M540.8 479.7h0M530.7 476.5h0M529.0 475.0h0M542.2 474.2h0M532.5 477.7h0M533.8 478.5h0M545.3 480.3h0M545.8 477.0h0M538.6 470.8h0M530.3 477.3h0M531.4 470.8h0M533.6 477.4h0M552.1 478.5h0M520.0 475.4h0M542.8 481.6h0M537.9 477.0h0M531.6 481.6h0M546.2 480.7h0M525.9 475.8h0M535.4 473.9h0M536.2 480.6h0M540.6 476.8h0M529.4 475.5h0M540.8 476.3h0M545.9 472.6h0M542.8 467.7h0M536.2 479.6h0M543.4 474.4h0M528.9 479.9h0M534.6 477.1h0M529.7 477.3h0M544.3 472.6h0M541.3 470.3h0M536.4 474.4h0M530.9 480.5h0M543.4 473.5h0M529.1 475.3h0M531.8 477.8h0M542.6 471.7h0M531.9 480.2h0M538.9 479.0h0M536.4 477.8h0M523.6 477.4h0M552.8 478.8h0M528.7 478.3h0M540.8 478.8h0M540.1 477.7h0M547.5 474.1h0M539.5 480.0h0M523.1 475.7h0M533.7 477.0h0M545.2 480.7h0M530.9 480.4h0M542.1 471.0h0M541.4 476.6h0M542.6 475.2h0M534.9 478.7h0M533.4 473.2h0M535.1 476.6h0M529.9 474.4h0M537.4 474.2h0M530.2 479.0h0M528.4 476.5h0M539.5 480.9h0M532.2 479.8h0M526.1 479.2h0M524.7 471.5h0M525.7 474.3h0M547.4 472.4h0M545.1 477.8h0M540.4 474.0h0M531.7 480.2h0M523.9 480.5h0M517.7 479.9h0M534.8 480.9h0M527.4 477.9h0M536.7 476.8h0M547.9 480.1h0M541.2 469.1h0M532.1 480.3h0M522.9 480.3h0M539.9 480.5h0M526.4 476.0h0M522.1 472.3h0M536.6 479.8h0M529.0 480.3h0M529.8 477.6h0M540.5 478.0h0M532.4 473.4h0M535.6 475.9h0M540.0 471.7h0M533.3 475.6h0M543.4 475.5h0M530.9 474.3h0M535.6 481.5h0M549.3 478.2h0M538.1 479.6h0M537.2 474.6h0M539.1 476.6h0M539.1 481.0h0M538.0 480.5h0M519.6 470.7h0M524.6 467.8h0M540.9 478.7h0M537.6 475.1h0M537.1 472.8h0M542.9 478.2h0M531.5 480.5h0M539.1 473.3h0M535.7 481.5h0M546.4 473.0h0M554.7 477.2h0M529.1 479.4h0M547.7 474.8h0M533.2 476.7h0M539.6 479.1h0M535.5 477.3h0M529.9 479.2h0M535.5 481.4h0M545.5 481.3h0M545.4 480.2h0M544.3 480.6h0M528.9 475.9h0M549.6 479.6h0M554.3 474.1h0M529.5 475.4h0M524.4 475.5h0M538.5 477.5h0M526.8 479.2h0M542.7 481.5h0M543.4 481.7h0M538.3 479.7h0M525.7 480.7h0M539.5 476.6h0M521.2 471.1h0M545.5 480.3h0M530.1 473.2h0M532.5 475.7h0M534.4 475.5h0M536.2 478.7h0M531.5 480.4h0M534.6 476.1h0M530.4 476.6h0M545.0 480.5h0M528.5 479.7h0M522.6 478.1h0M526.9 480.7h0M533.0 478.2h0M536.6 478.9h0M535.4 479.9h0M527.3 477.2h0M545.5 474.1h0M525.7 478.9h0M523.6 476.6h0M534.2 478.6h0M530.2 480.2h0M535.7 475.1h0M536.2 480.0h0M539.7 481.5h0M543.3 479.6h0M525.4 477.5h0M534.5 479.2h0M536.0 481.2h0M538.6 479.9h0M529.3 478.2h0M538.2 480.8h0M538.0 472.4h0M544.3 478.9h0M536.1 481.4h0M534.0 474.8h0M526.3 474.6h0M532.3 475.1h0M530.3 473.5h0M518.9 477.8h0M526.0 480.2h0M531.5 474.9h0M524.7 481.3h0M513.6 467.0h0M532.8 474.2h0M549.6 479.8h0M529.8 479.9h0M539.3 475.3h0M528.6 478.5h0M535.5 473.8h0M532.7 480.4h0M529.4 472.6h0M537.8 476.9h0M544.2 480.0h0M532.3 475.4h0M527.1 476.8h0M538.3 481.2h0M518.6 481.1h0M533.6 474.5h0M535.6 478.1h0M528.0 472.4h0M533.4 480.0h0M536.9 474.8h0M541.6 477.3h0M541.0 481.2h0M545.0 474.9h0M541.2 478.9h0M529.0 476.9h0M552.8 479.3h0M530.0 480.8h0M545.6 480.1h0M546.9 477.3h0M545.6 470.8h0M534.5 479.8h0M532.1 473.3h0M531.3 479.4h0M549.7 476.1h0M532.7 476.7h0M520.7 479.2h0M542.5 474.1h0M529.2 476.3h0M532.8 476.0h0M555.1 476.5h0M552.5 481.3h0M524.7 481.2h0M542.6 477.8h0M547.7 475.7h0M534.3 475.4h0M534.2 477.9h0M535.7 477.3h0M548.9 472.3h0M549.9 481.7h0M523.3 481.6h0M532.7 474.9h0M531.9 481.4h0M536.2 475.4h0M528.9 473.8h0M536.2 476.7h0M545.2 473.2h0M547.9 476.8h0M538.8 474.2h0M542.8 470.9h0M537.1 473.9h0M534.9 481.3h0M531.7 475.3h0M527.5 478.1h0M534.1 479.4h0M523.9 477.1h0M541.3 472.4h0M553.4 477.7h0M523.3 478.3h0M535.6 478.7h0M533.1 480.3h0M535.1 475.5h0M531.5 477.9h0M539.8 472.5h0M541.3 470.3h0M525.6 474.6h0M519.4 468.3h0M533.0 474.5h0M527.6 477.0h0M534.4 476.0h0M540.1 469.5h0M547.2 479.5h0M528.3 481.6h0M532.8 472.1h0M547.7 477.8h0M531.3 478.1h0M548.6 478.5h0M529.0 478.8h0M544.3 479.2h0M540.8 478.5h0M530.4 473.9h0M518.8 472.6h0M528.8 481.2h0M544.7 476.4h0M529.9 473.3h0M538.7 478.1h0M542.2 476.7h0M537.6 477.2h0M530.4 480.9h0M539.2 472.9h0M530.0 477.6h0M537.1 477.2h0M533.5 476.2h0M541.8 477.6h0M514.2 475.8h0M530.1 477.2h0M547.8 479.9h0M528.5 480.0h0M536.5 477.9h0M525.2 480.1h0M542.7 476.9h0M540.6 473.4h0M529.6 473.3h0M537.4 474.9h0M533.6 479.9h0M538.4 472.4h0M537.3 478.3h0M552.5 479.5h0M529.6 475.3h0M532.7 476.3h0M527.8 473.5h0M527.8 481.1h0M532.4 480.5h0M529.6 480.8h0M540.5 474.4h0M533.1 473.7h0M524.6 481.8h0M516.9 472.5h0M536.1 481.0h0M525.2 477.3h0M530.2 477.1h0M532.7 477.5h0M539.8 468.4h0M539.7 331.4h0M526.8 375.1h0M529.3 406.4h0M538.4 417.1h0M573.8 466.4h0M567.3 468.9h0M563.7 463.9h0M565.2 460.6h0M558.9 456.4h0M559.9 462.1h0M515.6 476.4h0M512.4 467.6h0" stroke="#BEBEBE" stroke-width="2.0" stroke-linecap="round" fill="none"/>
<path d="M521.8 448.5h0M524.7 447.1h0M526.3 447.9h0M524.3 439.4h0M524.9 444.2h0M526.4 441.9h0M522.8 448.7h0M526.3 437.2h0M525.7 438.1h0M526.5 437.5h0M524.5 439.2h0M525.3 449.5h0M524.7 443.9h0M522.4 447.2h0M524.7 449.3h0M525.0 448.6h0M522.7 449.5h0M525.1 432.2h0M523.8 447.8h0M525.6 432.8h0M516.0 447.8h0M523.2 443.5h0M519.6 433.7h0M520.7 436.4h0M522.9 430.4h0M524.3 447.6h0M522.4 437.4h0M514.3 438.3h0M525.5 440.0h0M524.9 436.5h0M522.2 446.9h0M525.6 438.0h0M525.7 440.8h0M523.0 440.0h0M518.3 440.3h0M525.0 442.4h0M515.9 440.3h0M524.0 439.2h0M522.9 432.4h0M521.7 447.0h0M524.3 433.3h0M518.4 441.8h0M519.4 416.6h0M520.6 424.6h0M517.8 449.2h0M521.5 441.1h0M524.5 447.7h0M520.8 431.3h0M525.6 439.4h0M525.4 432.9h0M522.2 448.2h0M503.4 446.4h0M511.0 443.9h0M512.4 447.1h0M515.2 439.6h0M516.7 418.9h0M521.5 413.1h0M519.8 425.1h0M513.9 432.6h0" stroke="#3DAE85" stroke-width="2.0" stroke-linecap="round" fill="none"/>
<path d="M542.9 443.3h0M542.6 441.0h0M543.8 446.1h0M544.3 446.3h0M543.1 448.2h0M544.8 450.0h0M543.2 449.4h0M543.0 445.1h0M543.1 445.2h0M543.2 445.1h0M543.1 449.1h0M542.8 449.2h0M543.9 444.5h0M542.7 445.8h0M543.5 443.3h0M544.0 446.1h0M547.0 445.4h0M544.4 435.6h0M550.3 434.0h0M548.9 436.6h0M544.9 448.1h0M548.2 436.1h0M544.0 446.0h0M545.1 442.5h0M545.1 447.1h0M546.8 444.0h0M549.8 440.2h0M544.5 434.2h0M546.5 434.5h0M548.8 437.8h0M544.7 433.5h0M548.1 436.1h0M548.5 435.1h0M547.7 436.9h0M548.9 436.6h0M554.0 417.1h0M551.5 422.6h0M552.5 426.4h0M549.4 436.4h0M547.7 446.4h0M544.1 440.1h0" stroke="#EE7A48" stroke-width="2.2" stroke-linecap="round" fill="none"/>
<text x="0" y="0" font-family='"Liberation Serif", serif' font-size="11.3" font-weight="bold" fill="#111" transform="translate(4.8,559.8) scale(1,1.13)">F</text>
<path d="M173.9,803.9A85.5,85.5 0 0 1 170.6,804.5Q159.2,719.9 158.2,634.5A85.5,85.5 0 0 1 160.9,634.6Q160.0,719.8 173.9,803.9Z" fill="#FFFFFF" fill-opacity="1.0"/><path d="M184.6,801.1A85.5,85.5 0 0 1 174.8,803.7Q163.1,720.4 185.1,639.1A85.5,85.5 0 0 1 191.2,641.4Q165.1,720.3 184.6,801.1Z" fill="#FFFFFF" fill-opacity="1.0"/><path d="M84.5,764.5A85.5,85.5 0 0 1 82.2,760.5Q142.2,716.1 110.6,648.5A85.5,85.5 0 0 1 113.8,646.5Q142.9,716.4 84.5,764.5Z" fill="#A8661E" fill-opacity="0.6"/><path d="M132.5,801.8A85.5,85.5 0 0 1 128.5,800.4Q156.5,719.7 178.8,637.2A85.5,85.5 0 0 1 184.3,638.8Q157.7,720.1 132.5,801.8Z" fill="#2C3A84" fill-opacity="0.6"/><path d="M95.4,778.7A85.5,85.5 0 0 1 92.5,775.5Q144.0,717.7 114.6,646.1A85.5,85.5 0 0 1 119.4,643.5Q145.0,717.8 95.4,778.7Z" fill="#8ED0A2" fill-opacity="0.6"/><path d="M194.1,797.3A85.5,85.5 0 0 1 190.1,799.1Q162.1,719.2 161.8,634.6A85.5,85.5 0 0 1 167.3,635.1Q163.3,719.0 194.1,797.3Z" fill="#AFD689" fill-opacity="0.6"/><path d="M79.9,755.9A85.5,85.5 0 0 1 78.8,753.4Q153.5,715.3 204.5,648.6A85.5,85.5 0 0 1 206.7,650.1Q153.9,715.7 79.9,755.9Z" fill="#5C2B8F" fill-opacity="0.6"/><path d="M72.2,726.4A85.5,85.5 0 0 1 72.1,723.0Q137.6,715.0 83.4,677.4A85.5,85.5 0 0 1 86.2,672.8Q137.9,714.9 72.2,726.4Z" fill="#C9DB3E" fill-opacity="0.6"/><path d="M234.8,756.5A85.5,85.5 0 0 1 232.9,760.2Q175.5,718.7 226.2,669.1A85.5,85.5 0 0 1 228.1,671.8Q176.0,718.5 234.8,756.5Z" fill="#58B03C" fill-opacity="0.6"/><path d="M218.9,779.5A85.5,85.5 0 0 1 215.8,782.5Q157.3,720.2 97.6,659.0A85.5,85.5 0 0 1 99.8,656.9Q158.0,719.5 218.9,779.5Z" fill="#E8871F" fill-opacity="0.6"/><path d="M143.8,804.4A85.5,85.5 0 0 1 141.6,804.0Q165.5,726.6 237.2,689.1A85.5,85.5 0 0 1 238.3,692.0Q165.9,727.0 143.8,804.4Z" fill="#A2184B" fill-opacity="0.6"/><path d="M126.7,799.8A85.5,85.5 0 0 1 121.8,797.7Q162.2,724.2 230.9,676.1A85.5,85.5 0 0 1 232.9,679.8Q163.1,724.9 126.7,799.8Z" fill="#E6AA64" fill-opacity="0.6"/><path d="M199.9,794.3A85.5,85.5 0 0 1 194.9,796.9Q170.4,722.7 223.0,665.0A85.5,85.5 0 0 1 225.7,668.4Q171.3,722.8 199.9,794.3Z" fill="#AFD689" fill-opacity="0.6"/><path d="M232.5,761.0A85.5,85.5 0 0 1 230.0,765.3Q163.2,715.5 130.5,638.9A85.5,85.5 0 0 1 135.4,637.4Q164.1,714.8 232.5,761.0Z" fill="#58B03C" fill-opacity="0.6"/><path d="M81.8,759.7A85.5,85.5 0 0 1 80.7,757.5Q139.0,718.7 86.7,672.0A85.5,85.5 0 0 1 87.9,670.3Q139.3,718.8 81.8,759.7Z" fill="#A8661E" fill-opacity="0.6"/><path d="M224.7,772.9A85.5,85.5 0 0 1 222.3,775.8Q170.5,717.5 196.5,643.9A85.5,85.5 0 0 1 198.8,645.1Q171.1,717.3 224.7,772.9Z" fill="#E8871F" fill-opacity="0.6"/><path d="M104.0,786.7A85.5,85.5 0 0 1 100.6,783.8Q160.8,725.5 240.7,700.2A85.5,85.5 0 0 1 241.1,701.8Q161.3,726.1 104.0,786.7Z" fill="#26588C" fill-opacity="0.6"/><path d="M99.9,783.2A85.5,85.5 0 0 1 96.7,780.1Q145.2,717.9 120.2,643.1A85.5,85.5 0 0 1 122.0,642.2Q145.9,718.2 99.9,783.2Z" fill="#26588C" fill-opacity="0.6"/><path d="M76.7,748.0A85.5,85.5 0 0 1 75.2,743.3Q136.8,720.5 74.2,700.8A85.5,85.5 0 0 1 75.8,694.7Q137.2,720.3 76.7,748.0Z" fill="#5C2B8F" fill-opacity="0.6"/><path d="M189.2,799.4A85.5,85.5 0 0 1 186.3,800.5Q153.3,722.8 94.8,661.8A85.5,85.5 0 0 1 96.9,659.7Q153.9,722.4 189.2,799.4Z" fill="#AFD689" fill-opacity="0.6"/><path d="M121.0,797.3A85.5,85.5 0 0 1 116.0,794.8Q158.6,720.7 207.4,650.6A85.5,85.5 0 0 1 210.5,652.9Q159.6,721.3 121.0,797.3Z" fill="#E6AA64" fill-opacity="0.6"/><path d="M204.9,791.2A85.5,85.5 0 0 1 201.7,793.2Q167.3,719.4 192.1,641.8A85.5,85.5 0 0 1 195.7,643.5Q168.2,719.3 204.9,791.2Z" fill="#7ECCB9" fill-opacity="0.6"/><path d="M73.5,735.9A85.5,85.5 0 0 1 73.2,734.6Q140.3,713.5 104.0,653.3A85.5,85.5 0 0 1 107.3,650.8Q140.7,713.3 73.5,735.9Z" fill="#54BE6D" fill-opacity="0.6"/><path d="M214.4,783.8A85.5,85.5 0 0 1 211.2,786.5Q165.6,717.7 168.2,635.2A85.5,85.5 0 0 1 171.9,635.7Q166.4,717.4 214.4,783.8Z" fill="#D9A2D0" fill-opacity="0.6"/><path d="M221.7,776.5A85.5,85.5 0 0 1 219.5,778.8Q161.5,717.3 127.5,639.9A85.5,85.5 0 0 1 129.6,639.2Q162.0,717.0 221.7,776.5Z" fill="#E8871F" fill-opacity="0.6"/><path d="M157.7,805.5A85.5,85.5 0 0 1 154.5,805.4Q149.0,723.7 92.5,664.5A85.5,85.5 0 0 1 94.2,662.5Q149.6,723.5 157.7,805.5Z" fill="#CA9DCC" fill-opacity="0.6"/><path d="M209.5,787.8A85.5,85.5 0 0 1 205.6,790.7Q174.0,726.7 241.2,702.7A85.5,85.5 0 0 1 242.0,707.1Q174.6,726.9 209.5,787.8Z" fill="#7ECCB9" fill-opacity="0.6"/><path d="M72.6,730.3A85.5,85.5 0 0 1 72.3,727.3Q152.2,711.7 200.4,646.0A85.5,85.5 0 0 1 203.8,648.1Q152.7,712.3 72.6,730.3Z" fill="#C9DB3E" fill-opacity="0.6"/><path d="M239.9,742.7A85.5,85.5 0 0 1 238.9,746.3Q177.3,718.7 234.7,683.2A85.5,85.5 0 0 1 236.5,687.3Q177.7,718.8 239.9,742.7Z" fill="#2C4EA2" fill-opacity="0.6"/><path d="M169.0,804.7A85.5,85.5 0 0 1 168.0,804.9Q168.3,725.7 233.4,680.6A85.5,85.5 0 0 1 234.3,682.4Q168.5,725.9 169.0,804.7Z" fill="#2A3C92" fill-opacity="0.6"/><path d="M241.2,737.5A85.5,85.5 0 0 1 240.2,741.9Q178.0,719.3 238.6,692.8A85.5,85.5 0 0 1 240.1,697.9Q178.3,719.4 241.2,737.5Z" fill="#2C4EA2" fill-opacity="0.6"/><path d="M74.8,741.6A85.5,85.5 0 0 1 73.8,737.6Q140.9,713.5 108.0,650.3A85.5,85.5 0 0 1 109.8,649.0Q141.2,713.8 74.8,741.6Z" fill="#C3308B" fill-opacity="0.6"/><path d="M78.5,752.6A85.5,85.5 0 0 1 77.0,748.8Q149.4,713.1 173.4,636.0A85.5,85.5 0 0 1 178.0,637.0Q150.2,713.7 78.5,752.6Z" fill="#5C2B8F" fill-opacity="0.6"/><path d="M87.9,769.7A85.5,85.5 0 0 1 85.0,765.3Q145.9,715.3 137.3,636.9A85.5,85.5 0 0 1 140.6,636.2Q146.7,715.7 87.9,769.7Z" fill="#A8661E" fill-opacity="0.6"/><path d="M91.4,774.2A85.5,85.5 0 0 1 90.6,773.2Q147.1,716.2 141.4,636.0A85.5,85.5 0 0 1 145.0,635.4Q147.7,716.2 91.4,774.2Z" fill="#E6A22E" fill-opacity="0.6"/><path d="M153.6,805.4A85.5,85.5 0 0 1 145.6,804.7Q145.8,727.3 76.1,693.8A85.5,85.5 0 0 1 78.7,686.9Q147.2,726.5 153.6,805.4Z" fill="#CA9DCC" fill-opacity="0.6"/><path d="M243.0,722.8A85.5,85.5 0 0 1 242.4,729.8Q158.6,716.4 81.1,681.6A85.5,85.5 0 0 1 82.4,679.2Q158.8,715.3 243.0,722.8Z" fill="#F6C4C0" fill-opacity="0.6"/><path d="M90.0,772.5A85.5,85.5 0 0 1 89.0,771.2Q140.3,720.1 88.4,669.6A85.5,85.5 0 0 1 91.9,665.2Q140.9,719.7 90.0,772.5Z" fill="#E6A22E" fill-opacity="0.6"/><path d="M109.3,790.6A85.5,85.5 0 0 1 105.6,787.9Q160.0,722.7 229.1,673.3A85.5,85.5 0 0 1 230.4,675.3Q160.6,723.2 109.3,790.6Z" fill="#E5B82A" fill-opacity="0.6"/><path d="M242.2,731.6A85.5,85.5 0 0 1 241.5,735.9Q175.7,714.6 219.5,661.1A85.5,85.5 0 0 1 221.7,663.6Q176.1,714.4 242.2,731.6Z" fill="#DDE9B2" fill-opacity="0.6"/><path d="M139.9,803.7A85.5,85.5 0 0 1 134.2,802.3Q153.1,719.7 145.9,635.3A85.5,85.5 0 0 1 150.0,634.8Q154.4,719.8 139.9,803.7Z" fill="#9DAC32" fill-opacity="0.6"/><path d="M238.6,747.1A85.5,85.5 0 0 1 237.8,749.2Q160.4,715.7 100.5,656.3A85.5,85.5 0 0 1 102.7,654.4Q160.8,715.2 238.6,747.1Z" fill="#2C4EA2" fill-opacity="0.6"/><path d="M114.5,793.9A85.5,85.5 0 0 1 110.9,791.7Q147.3,719.2 122.8,641.8A85.5,85.5 0 0 1 126.7,640.2Q148.3,719.3 114.5,793.9Z" fill="#6EBC48" fill-opacity="0.6"/><path d="M237.2,750.9A85.5,85.5 0 0 1 235.5,754.9Q174.5,716.5 215.6,657.3A85.5,85.5 0 0 1 218.8,660.4Q175.1,716.4 237.2,750.9Z" fill="#B4601C" fill-opacity="0.6"/><path d="M163.6,805.3A85.5,85.5 0 0 1 158.6,805.5Q156.9,720.0 152.0,634.7A85.5,85.5 0 0 1 157.3,634.5Q158.2,720.0 163.6,805.3Z" fill="#CA9DCC" fill-opacity="0.6"/><path d="M167.2,805.0A85.5,85.5 0 0 1 165.4,805.1Q148.7,726.4 79.0,686.1A85.5,85.5 0 0 1 80.7,682.4Q149.1,725.9 167.2,805.0Z" fill="#2A3C92" fill-opacity="0.6"/><path d="M229.0,766.9A85.5,85.5 0 0 1 225.2,772.2Q172.7,718.2 211.2,653.4A85.5,85.5 0 0 1 214.2,656.0Q173.5,717.9 229.0,766.9Z" fill="#E8871F" fill-opacity="0.6"/><path d="M73.1,733.7A85.5,85.5 0 0 1 72.9,732.0Q136.4,719.9 73.0,706.9A85.5,85.5 0 0 1 74.0,701.7Q136.5,719.4 73.1,733.7Z" fill="#54BE6D" fill-opacity="0.6"/>
<path d="M257.47,732.10A100.7,100.7 0 0 0 258.16,722.81L245.17,722.45A87.7,87.7 0 0 1 244.56,730.54Z" fill="#F6C4C0"/>
<path d="M256.35,739.21A100.7,100.7 0 0 0 257.34,733.14L244.45,731.45A87.7,87.7 0 0 1 243.59,736.73Z" fill="#DDE9B2"/>
<path d="M251.95,754.94A100.7,100.7 0 0 0 256.18,740.08L243.44,737.48A87.7,87.7 0 0 1 239.75,750.43Z" fill="#2C4EA2"/>
<path d="M249.21,761.60A100.7,100.7 0 0 0 251.57,755.92L239.43,751.29A87.7,87.7 0 0 1 237.37,756.23Z" fill="#B4601C"/>
<path d="M242.62,773.81A100.7,100.7 0 0 0 248.77,762.56L236.98,757.06A87.7,87.7 0 0 1 231.63,766.86Z" fill="#58B03C"/>
<path d="M225.79,794.01A100.7,100.7 0 0 0 241.95,774.85L231.05,767.76A87.7,87.7 0 0 1 216.97,784.45Z" fill="#E8871F"/>
<path d="M220.32,798.70A100.7,100.7 0 0 0 224.88,794.83L216.18,785.17A87.7,87.7 0 0 1 212.21,788.54Z" fill="#D9A2D0"/>
<path d="M209.06,806.50A100.7,100.7 0 0 0 219.22,799.57L211.25,789.30A87.7,87.7 0 0 1 202.41,795.33Z" fill="#7ECCB9"/>
<path d="M190.95,814.98A100.7,100.7 0 0 0 207.85,807.21L201.35,795.95A87.7,87.7 0 0 1 186.63,802.72Z" fill="#AFD689"/>
<path d="M172.38,819.59A100.7,100.7 0 0 0 189.95,815.33L185.76,803.02A87.7,87.7 0 0 1 170.46,806.74Z" fill="#FFFFFF"/>
<path d="M166.28,820.32A100.7,100.7 0 0 0 171.51,819.72L169.71,806.85A87.7,87.7 0 0 1 165.14,807.37Z" fill="#2A3C92"/>
<path d="M142.96,819.65A100.7,100.7 0 0 0 165.23,820.40L164.23,807.44A87.7,87.7 0 0 1 144.84,806.78Z" fill="#CA9DCC"/>
<path d="M138.29,818.85A100.7,100.7 0 0 0 141.92,819.49L143.93,806.64A87.7,87.7 0 0 1 140.77,806.09Z" fill="#A2184B"/>
<path d="M129.57,816.75A100.7,100.7 0 0 0 137.25,818.64L139.87,805.91A87.7,87.7 0 0 1 133.18,804.26Z" fill="#9DAC32"/>
<path d="M122.89,814.57A100.7,100.7 0 0 0 128.56,816.45L132.30,804.00A87.7,87.7 0 0 1 127.36,802.36Z" fill="#2C3A84"/>
<path d="M108.22,807.82A100.7,100.7 0 0 0 121.74,814.14L126.36,801.98A87.7,87.7 0 0 1 114.58,796.48Z" fill="#E6AA64"/>
<path d="M102.21,804.17A100.7,100.7 0 0 0 107.30,807.30L113.78,796.03A87.7,87.7 0 0 1 109.35,793.30Z" fill="#6EBC48"/>
<path d="M95.92,799.68A100.7,100.7 0 0 0 101.19,803.48L108.46,792.71A87.7,87.7 0 0 1 103.87,789.39Z" fill="#E5B82A"/>
<path d="M85.55,790.46A100.7,100.7 0 0 0 94.95,798.92L103.03,788.73A87.7,87.7 0 0 1 94.84,781.36Z" fill="#26588C"/>
<path d="M80.59,785.00A100.7,100.7 0 0 0 84.70,789.57L94.10,780.59A87.7,87.7 0 0 1 90.52,776.61Z" fill="#8ED0A2"/>
<path d="M76.55,779.90A100.7,100.7 0 0 0 79.91,784.19L89.93,775.90A87.7,87.7 0 0 1 87.00,772.17Z" fill="#E6A22E"/>
<path d="M66.76,763.67A100.7,100.7 0 0 0 75.83,778.91L86.37,771.30A87.7,87.7 0 0 1 78.48,758.03Z" fill="#A8661E"/>
<path d="M60.46,746.91A100.7,100.7 0 0 0 66.31,762.72L78.08,757.20A87.7,87.7 0 0 1 72.99,743.44Z" fill="#5C2B8F"/>
<path d="M58.86,740.25A100.7,100.7 0 0 0 60.19,745.89L72.75,742.55A87.7,87.7 0 0 1 71.59,737.63Z" fill="#C3308B"/>
<path d="M57.73,733.67A100.7,100.7 0 0 0 58.65,739.21L71.41,736.73A87.7,87.7 0 0 1 70.61,731.90Z" fill="#54BE6D"/>
<path d="M56.84,722.99A100.7,100.7 0 0 0 57.59,732.62L70.49,730.99A87.7,87.7 0 0 1 69.84,722.60Z" fill="#C9DB3E"/>
<path d="M257.12,705.29A100.7,100.7 0 0 0 255.33,696.15L242.70,699.23A87.7,87.7 0 0 1 244.26,707.19Z" fill="#8B1A1E"/>
<path d="M254.90,694.45A100.7,100.7 0 0 0 251.19,683.09L239.10,687.86A87.7,87.7 0 0 1 242.33,697.75Z" fill="#B9D536"/>
<path d="M250.74,681.95A100.7,100.7 0 0 0 241.57,664.57L230.72,671.72A87.7,87.7 0 0 1 238.70,686.86Z" fill="#3DB08C"/>
<path d="M240.98,663.69A100.7,100.7 0 0 0 234.30,654.87L224.39,663.28A87.7,87.7 0 0 1 230.21,670.96Z" fill="#6B9A2C"/>
<path d="M233.50,653.93A100.7,100.7 0 0 0 225.53,645.76L216.75,655.34A87.7,87.7 0 0 1 223.69,662.46Z" fill="#8A1C20"/>
<path d="M224.62,644.93A100.7,100.7 0 0 0 207.55,632.62L201.08,643.90A87.7,87.7 0 0 1 215.95,654.62Z" fill="#0F7A3C"/>
<path d="M206.63,632.10A100.7,100.7 0 0 0 175.68,620.95L173.33,633.74A87.7,87.7 0 0 1 200.29,643.44Z" fill="#283068"/>
<path d="M174.99,620.83A100.7,100.7 0 0 0 150.48,619.55L151.38,632.51A87.7,87.7 0 0 1 172.73,633.63Z" fill="#5E1C8A"/>
<path d="M149.25,619.64A100.7,100.7 0 0 0 133.14,622.29L136.28,634.91A87.7,87.7 0 0 1 150.31,632.59Z" fill="#2F8C40"/>
<path d="M131.95,622.60A100.7,100.7 0 0 0 94.13,641.74L102.31,651.84A87.7,87.7 0 0 1 135.25,635.17Z" fill="#2FB4D2"/>
<path d="M93.31,642.41A100.7,100.7 0 0 0 69.94,670.26L81.25,676.68A87.7,87.7 0 0 1 101.60,652.43Z" fill="#E37EA8"/>
<path d="M69.26,671.49A100.7,100.7 0 0 0 57.91,705.12L70.76,707.04A87.7,87.7 0 0 1 80.65,677.75Z" fill="#7B8A24"/>
<path d="M258.4,722.8L261.4,722.9M258.2,725.5L259.8,725.6M258.1,728.3L259.7,728.4M257.8,731.0L259.4,731.2M257.5,733.2L260.5,733.6M257.1,735.9L258.7,736.1M256.7,738.6L258.3,738.9M256.4,740.1L259.3,740.7M255.8,742.8L257.4,743.1M255.1,745.4L256.7,745.8M254.4,748.1L256.0,748.5M253.6,750.7L255.1,751.2M252.8,753.3L255.6,754.3M251.8,756.0L254.6,757.1M250.8,758.5L252.2,759.1M249.7,761.0L251.1,761.7M248.9,762.6L251.7,763.9M247.8,765.1L249.2,765.8M246.5,767.5L247.9,768.3M245.2,769.9L246.6,770.7M243.8,772.3L245.2,773.1M242.1,775.0L244.6,776.6M240.6,777.2L241.9,778.1M239.0,779.4L240.3,780.4M237.4,781.6L238.7,782.6M235.7,783.8L236.9,784.8M233.9,785.9L236.2,787.8M232.1,787.9L233.3,789.0M230.3,789.9L231.4,791.0M228.3,791.8L229.5,793.0M226.4,793.7L227.5,794.9M225.0,795.0L227.0,797.2M223.0,796.8L224.0,798.0M220.9,798.5L221.9,799.8M219.3,799.7L221.2,802.1M217.2,801.4L218.1,802.7M214.9,803.0L215.9,804.3M212.7,804.5L213.6,805.8M210.4,805.9L211.2,807.3M208.0,807.4L209.5,810.0M205.6,808.7L206.3,810.1M203.2,810.0L203.9,811.4M200.7,811.2L201.4,812.6M198.2,812.3L198.9,813.8M195.7,813.4L196.8,816.2M193.2,814.4L193.7,815.9M190.0,815.5L191.0,818.4M187.4,816.4L187.9,817.9M184.8,817.1L185.2,818.7M182.2,817.8L182.6,819.4M179.5,818.5L179.9,820.0M176.8,819.0L177.4,822.0M174.2,819.5L174.4,821.1M171.5,819.9L172.0,822.9M168.8,820.3L169.0,821.9M165.2,820.6L165.5,823.6M162.5,820.8L162.6,822.4M159.8,820.9L159.8,822.5M157.1,820.9L157.1,822.5M154.3,820.9L154.3,822.4M151.6,820.7L151.4,823.7M148.9,820.5L148.7,822.1M146.2,820.3L146.0,821.9M143.5,819.9L143.2,821.5M141.9,819.7L141.4,822.6M139.2,819.2L138.9,820.8M137.2,818.8L136.6,821.8M134.5,818.3L134.2,819.8M131.9,817.6L131.5,819.1M128.5,816.6L127.6,819.5M125.9,815.8L125.4,817.3M123.3,814.9L122.8,816.4M121.7,814.3L120.6,817.1M119.1,813.3L118.5,814.8M116.6,812.2L116.0,813.7M114.1,811.1L113.5,812.6M111.7,809.9L111.0,811.3M109.3,808.6L107.8,811.3M107.2,807.5L105.7,810.1M104.9,806.1L104.0,807.4M102.5,804.6L101.7,806.0M101.1,803.6L99.4,806.1M98.8,802.1L97.9,803.4M96.6,800.5L95.7,801.8M94.8,799.1L93.0,801.4M92.7,797.4L91.7,798.6M90.6,795.6L89.6,796.8M88.6,793.7L87.5,794.9M86.7,791.8L85.5,793.0M84.6,789.7L82.4,791.8M82.7,787.7L81.5,788.8M80.9,785.7L79.7,786.7M79.8,784.3L77.4,786.2M78.0,782.2L76.8,783.2M76.4,780.0L75.1,781.0M75.7,779.0L73.2,780.8M74.1,776.8L72.8,777.7M72.6,774.5L71.2,775.4M71.1,772.2L69.8,773.0M69.8,769.8L68.4,770.6M68.5,767.4L65.8,768.9M67.2,765.0L65.8,765.7M66.1,762.8L63.4,764.1M65.0,760.3L63.5,761.0M63.9,757.8L62.5,758.4M63.0,755.3L61.5,755.8M62.0,752.7L60.5,753.2M61.2,750.1L58.3,751.0M60.4,747.5L58.9,747.9M60.0,745.9L57.1,746.7M59.3,743.3L57.8,743.7M58.7,740.6L57.2,741.0M58.5,739.3L55.5,739.8M58.0,736.6L56.4,736.8M57.6,733.9L56.0,734.1M57.4,732.6L54.4,733.0M57.1,729.9L55.5,730.1M56.9,727.2L55.3,727.3M56.7,724.5L55.1,724.6M255.5,696.1L258.4,695.4M256.1,698.8L257.7,698.4M256.7,701.4L258.3,701.1M257.1,704.1L258.7,703.9M251.4,683.0L254.2,681.9M252.3,685.6L253.8,685.0M253.2,688.2L254.8,687.6M254.1,690.8L255.6,690.3M254.8,693.4L256.4,693.0M241.7,664.5L244.2,662.8M243.2,666.8L244.6,665.9M244.6,669.1L246.0,668.3M246.0,671.5L247.4,670.7M247.2,673.9L248.7,673.1M248.5,676.3L251.2,675.0M249.6,678.8L251.1,678.1M250.7,681.3L252.2,680.7M234.5,654.7L236.7,652.8M236.2,656.8L237.4,655.8M237.9,659.0L239.1,658.0M239.5,661.2L240.8,660.3M241.1,663.4L242.4,662.5M225.7,645.6L227.7,643.4M227.7,647.5L228.8,646.3M229.6,649.4L230.7,648.3M231.5,651.4L232.6,650.3M233.3,653.4L234.5,652.3M207.6,632.4L209.1,629.8M210.0,633.8L210.8,632.5M212.3,635.3L213.2,633.9M214.6,636.8L215.5,635.5M216.8,638.4L217.7,637.1M219.0,640.0L220.8,637.6M221.1,641.7L222.1,640.5M223.2,643.4L224.3,642.2M175.7,620.8L176.3,617.8M178.4,621.3L178.7,619.7M181.1,621.9L181.4,620.3M183.7,622.6L184.1,621.0M186.3,623.3L186.8,621.8M188.9,624.1L189.9,621.3M191.5,625.0L192.1,623.5M194.1,626.0L194.6,624.5M196.6,627.0L197.2,625.5M199.1,628.1L199.8,626.6M201.6,629.2L202.9,626.5M204.0,630.5L204.7,629.0M206.4,631.8L207.2,630.4M150.5,619.3L150.3,616.4M153.2,619.2L153.1,617.6M155.9,619.1L155.9,617.5M158.6,619.1L158.7,617.5M161.4,619.2L161.4,617.6M164.1,619.3L164.3,616.3M166.8,619.5L167.0,617.9M169.5,619.8L169.7,618.2M172.2,620.2L172.5,618.6M174.9,620.6L175.2,619.0M133.1,622.1L132.4,619.2M135.7,621.5L135.4,619.9M138.4,620.9L138.1,619.3M141.1,620.4L140.8,618.9M143.8,620.0L143.6,618.4M146.5,619.7L146.2,616.7M149.2,619.4L149.1,617.8M94.0,641.6L92.1,639.3M96.1,639.9L95.2,638.6M98.3,638.3L97.4,637.0M100.6,636.7L99.7,635.4M102.8,635.2L102.0,633.8M105.2,633.7L103.6,631.2M107.5,632.4L106.7,631.0M109.9,631.0L109.1,629.6M112.3,629.8L111.6,628.3M114.8,628.6L114.1,627.1M117.3,627.5L116.1,624.7M119.8,626.4L119.2,624.9M122.3,625.4L121.8,623.9M124.9,624.5L124.4,623.0M127.5,623.7L127.0,622.1M130.1,622.9L129.3,620.0M69.8,670.2L67.2,668.7M71.1,667.8L69.8,667.0M72.6,665.5L71.2,664.6M74.1,663.2L72.8,662.3M75.7,661.0L74.4,660.0M77.3,658.8L74.9,657.0M79.0,656.6L77.7,655.6M80.7,654.5L79.5,653.5M82.5,652.5L81.3,651.4M84.4,650.5L83.2,649.4M86.3,648.5L84.2,646.4M88.2,646.6L87.1,645.5M90.2,644.8L89.2,643.6M92.3,643.0L91.3,641.8M57.7,705.1L54.7,704.6M58.1,702.4L56.6,702.1M58.7,699.7L57.1,699.4M59.2,697.0L57.7,696.7M59.9,694.4L58.4,694.0M60.6,691.8L57.8,690.9M61.4,689.2L59.9,688.7M62.3,686.6L60.8,686.0M63.2,684.0L61.7,683.4M64.2,681.5L62.8,680.9M65.3,679.0L62.6,677.7M66.5,676.5L65.0,675.8M67.7,674.0L66.3,673.3M69.0,671.6L67.5,670.9" stroke="#333" stroke-width="0.6" fill="none"/>
<path d="M264.8,723.0h0.01M263.9,734.0h0.01M262.6,741.4h0.01M258.8,755.4h0.01M257.7,758.3h0.01M254.7,765.3h0.01M247.5,778.4h0.01M238.8,790.0h0.01M229.3,799.7h0.01M223.3,804.8h0.01M211.2,812.9h0.01M198.1,819.3h0.01M192.1,821.6h0.01M178.1,825.3h0.01M172.4,826.3h0.01M165.7,827.0h0.01M151.2,827.1h0.01M140.9,826.0h0.01M135.9,825.1h0.01M126.7,822.8h0.01M119.4,820.3h0.01M106.2,814.3h0.01M104.0,813.0h0.01M97.5,809.0h0.01M90.9,804.1h0.01M79.9,794.1h0.01M74.8,788.4h0.01M70.5,782.8h0.01M62.8,770.5h0.01M60.3,765.5h0.01M55.1,752.0h0.01M53.8,747.6h0.01M52.2,740.5h0.01M51.0,733.4h0.01M261.7,694.6h0.01M257.3,680.7h0.01M247.1,660.9h0.01M254.2,673.6h0.01M239.3,650.6h0.01M230.0,640.9h0.01M210.8,626.9h0.01M222.9,634.9h0.01M176.9,614.5h0.01M190.9,618.0h0.01M204.4,623.5h0.01M150.0,613.0h0.01M164.5,612.9h0.01M131.5,615.9h0.01M145.8,613.3h0.01M90.0,636.6h0.01M101.8,628.3h0.01M114.7,621.6h0.01M128.4,616.7h0.01M64.2,667.0h0.01M72.2,654.9h0.01M81.8,644.0h0.01M51.4,704.1h0.01M54.5,690.0h0.01M59.5,676.4h0.01" stroke="#666" stroke-width="1.2" stroke-linecap="round" fill="none"/>
<text font-family='"Liberation Sans", sans-serif' font-size="5.9" fill="#111" text-anchor="start" transform="translate(271.09,728.44) rotate(4.25)"><tspan x="0" y="2.06">Nasp</tspan></text>
<text font-family='"Liberation Sans", sans-serif' font-size="5.9" fill="#111" text-anchor="start" transform="translate(269.92,738.31) rotate(9.25)"><tspan x="0" y="2.06">Rps6ka4</tspan></text>
<text font-family='"Liberation Sans", sans-serif' font-size="5.9" fill="#111" text-anchor="start" transform="translate(267.04,751.20) rotate(15.90)"><tspan x="0" y="2.06">Map1b</tspan></text>
<text font-family='"Liberation Sans", sans-serif' font-size="5.9" fill="#111" text-anchor="start" transform="translate(262.62,763.86) rotate(22.65)"><tspan x="0" y="2.06">Hivmpd</tspan></text>
<text font-family='"Liberation Sans", sans-serif' font-size="5.9" fill="#111" text-anchor="start" transform="translate(257.45,774.61) rotate(28.65)"><tspan x="0" y="2.06">Slc9a1</tspan></text>
<text font-family='"Liberation Sans", sans-serif' font-size="5.9" fill="#111" text-anchor="start" transform="translate(244.56,793.44) rotate(40.15)"><tspan x="0" y="2.06">Camk2d</tspan></text>
<text font-family='"Liberation Sans", sans-serif' font-size="5.9" fill="#111" text-anchor="start" transform="translate(231.17,806.87) rotate(49.70)"><tspan x="0" y="2.06">Mark2</tspan></text>
<text font-family='"Liberation Sans", sans-serif' font-size="5.9" fill="#111" text-anchor="start" transform="translate(221.69,814.09) rotate(55.70)"><tspan x="0" y="2.06">Pdha1</tspan></text>
<text x="0" y="0" font-family='"Liberation Serif", serif' font-size="15" font-weight="bold" fill="#D42A25" transform="translate(197.6,828.2) rotate(52) scale(0.9,1.05)">Cxcr4</text>
<text font-family='"Liberation Sans", sans-serif' font-size="5.9" fill="#111" text-anchor="start" transform="translate(184.38,830.68) rotate(76.35)"><tspan x="0" y="2.06">Cdk2</tspan></text>
<text font-family='"Liberation Sans", sans-serif' font-size="5.9" fill="#111" text-anchor="start" transform="translate(170.39,833.17) rotate(83.50)"><tspan x="0" y="2.06">Mark1</tspan></text>
<text font-family='"Liberation Sans", sans-serif' font-size="5.9" fill="#111" text-anchor="end" transform="translate(153.62,833.83) rotate(271.95)"><tspan x="0" y="2.06">Camk2g</tspan></text>
<text font-family='"Liberation Sans", sans-serif' font-size="5.9" fill="#111" text-anchor="end" transform="translate(137.82,832.19) rotate(279.95)"><tspan x="0" y="2.06">Mapre3</tspan></text>
<text font-family='"Liberation Sans", sans-serif' font-size="5.9" fill="#111" text-anchor="end" transform="translate(130.23,830.59) rotate(283.85)"><tspan x="0" y="2.06">Aldoa</tspan></text>
<text font-family='"Liberation Sans", sans-serif' font-size="5.9" fill="#111" text-anchor="end" transform="translate(121.55,828.08) rotate(288.40)"><tspan x="0" y="2.06">Cpeb3</tspan></text>
<text font-family='"Liberation Sans", sans-serif' font-size="5.9" fill="#111" text-anchor="end" transform="translate(109.27,823.19) rotate(295.05)"><tspan x="0" y="2.06">Fasn</tspan></text>
<text font-family='"Liberation Sans", sans-serif' font-size="5.9" fill="#111" text-anchor="end" transform="translate(97.82,817.01) rotate(301.60)"><tspan x="0" y="2.06">Gab1</tspan></text>
<text font-family='"Liberation Sans", sans-serif' font-size="5.9" fill="#111" text-anchor="end" transform="translate(90.79,812.32) rotate(305.85)"><tspan x="0" y="2.06">Kif1a</tspan></text>
<text font-family='"Liberation Sans", sans-serif' font-size="5.9" fill="#111" text-anchor="end" transform="translate(81.29,804.64) rotate(312.00)"><tspan x="0" y="2.06">Ncoa3</tspan></text>
<text font-family='"Liberation Sans", sans-serif' font-size="5.9" fill="#111" text-anchor="end" transform="translate(72.79,796.14) rotate(318.05)"><tspan x="0" y="2.06">Prkcd</tspan></text>
<text font-family='"Liberation Sans", sans-serif' font-size="5.9" fill="#111" text-anchor="end" transform="translate(67.81,790.20) rotate(321.95)"><tspan x="0" y="2.06">Pfas</tspan></text>
<text font-family='"Liberation Sans", sans-serif' font-size="5.9" fill="#111" text-anchor="end" transform="translate(59.61,778.24) rotate(329.25)"><tspan x="0" y="2.06">Ccnd1</tspan></text>
<text font-family='"Liberation Sans", sans-serif' font-size="5.9" fill="#111" text-anchor="end" transform="translate(50.67,759.52) rotate(339.70)"><tspan x="0" y="2.06">Camk2b</tspan></text>
<text font-family='"Liberation Sans", sans-serif' font-size="5.9" fill="#111" text-anchor="end" transform="translate(46.63,746.11) rotate(346.75)"><tspan x="0" y="2.06">Golga4</tspan></text>
<text font-family='"Liberation Sans", sans-serif' font-size="5.9" fill="#111" text-anchor="end" transform="translate(45.13,738.60) rotate(350.60)"><tspan x="0" y="2.06">Adnp2</tspan></text>
<text font-family='"Liberation Sans", sans-serif' font-size="5.9" fill="#111" text-anchor="end" transform="translate(43.94,728.84) rotate(355.55)"><tspan x="0" y="2.06">Brd4</tspan></text>
<text font-family='"Liberation Sans", sans-serif' font-size="5.9" fill="#111" text-anchor="start" transform="translate(269.29,698.17) rotate(-11.05)"><tspan x="0" y="2.06">thioester.biosynthetic.process</tspan></text>
<text font-family='"Liberation Sans", sans-serif' font-size="5.9" fill="#111" text-anchor="start" transform="translate(265.76,684.61) rotate(-18.10)"><tspan x="0" y="-1.24">sensory.perception.of.</tspan><tspan x="0" y="5.37">temperature.stimulus</tspan></text>
<text font-family='"Liberation Sans", sans-serif' font-size="5.9" fill="#111" text-anchor="start" transform="translate(258.25,666.88) rotate(-27.80)"><tspan x="0" y="-1.24">purine.containing.compound.</tspan><tspan x="0" y="5.37">biosynthetic.process</tspan></text>
<text font-family='"Liberation Sans", sans-serif' font-size="5.9" fill="#111" text-anchor="start" transform="translate(248.28,651.22) rotate(-37.15)"><tspan x="0" y="-1.24">regulation.of.</tspan><tspan x="0" y="5.37">microtubule.binding</tspan></text>
<text font-family='"Liberation Sans", sans-serif' font-size="5.9" fill="#111" text-anchor="start" transform="translate(239.09,640.52) rotate(-44.25)"><tspan x="0" y="-1.24">regulation.of.</tspan><tspan x="0" y="5.37">relaxation.of.muscle</tspan></text>
<text font-family='"Liberation Sans", sans-serif' font-size="5.9" fill="#111" text-anchor="start" transform="translate(224.13,627.62) rotate(-54.20)"><tspan x="0" y="2.06">striated.muscle.contraction</tspan></text>
<text font-family='"Liberation Sans", sans-serif' font-size="5.9" fill="#111" text-anchor="start" transform="translate(196.08,612.83) rotate(-70.20)"><tspan x="0" y="-1.24">positive.regulation.of.</tspan><tspan x="0" y="5.37">cell.growth</tspan></text>
<text font-family='"Liberation Sans", sans-serif' font-size="5.9" fill="#111" text-anchor="start" transform="translate(168.42,606.62) rotate(-84.50)"><tspan x="0" y="2.06">response.to.estradiol</tspan></text>
<text font-family='"Liberation Sans", sans-serif' font-size="5.9" fill="#111" text-anchor="end" transform="translate(139.00,607.61) rotate(80.65)"><tspan x="0" y="-4.54">establishment.of.</tspan><tspan x="0" y="2.07">mitochondrion.</tspan><tspan x="0" y="8.67">localization</tspan></text>
<text font-family='"Liberation Sans", sans-serif' font-size="5.9" fill="#111" text-anchor="end" transform="translate(103.76,619.57) rotate(61.85)"><tspan x="0" y="-1.24">Cytokine.mediated.</tspan><tspan x="0" y="5.37">signaling.pathway</tspan></text>
<text font-family='"Liberation Sans", sans-serif' font-size="5.9" fill="#111" text-anchor="end" transform="translate(68.36,649.10) rotate(38.50)"><tspan x="0" y="-1.24">cell.cycle.G1.S.</tspan><tspan x="0" y="5.37">phase.transition</tspan></text>
<text font-family='"Liberation Sans", sans-serif' font-size="5.9" fill="#111" text-anchor="end" transform="translate(48.84,685.84) rotate(17.45)"><tspan x="0" y="-1.24">G1.S.transition.of.</tspan><tspan x="0" y="5.37">mitotic.cell.cycle</tspan></text>
<text x="0" y="0" font-family='"Liberation Serif", serif' font-size="11.3" font-weight="bold" fill="#111" transform="translate(344.7,559.4) scale(1,1.13)">G</text>
<path d="M580.2,782.1A92.1,92.1 0 0 1 578.7,783.5Q548.4,723.0 598.8,677.7A92.1,92.1 0 0 1 601.2,683.5Q549.2,723.9 580.2,782.1Z" fill="#FFFFFF" fill-opacity="1.0"/><path d="M603.1,744.4A92.1,92.1 0 0 1 602.2,747.2Q540.3,703.6 539.5,627.8A92.1,92.1 0 0 1 541.7,628.5Q541.0,703.1 603.1,744.4Z" fill="#F0E274" fill-opacity="0.6"/><path d="M456.7,787.7A92.1,92.1 0 0 1 454.8,786.1Q481.1,729.7 424.0,704.8A92.1,92.1 0 0 1 424.3,702.2Q481.6,729.4 456.7,787.7Z" fill="#6AC5C1" fill-opacity="0.6"/><path d="M587.4,774.0A92.1,92.1 0 0 1 583.5,778.7Q530.0,709.9 512.4,624.6A92.1,92.1 0 0 1 517.0,624.6Q531.9,708.9 587.4,774.0Z" fill="#62B844" fill-opacity="0.6"/><path d="M471.8,797.9A92.1,92.1 0 0 1 467.8,795.6Q506.8,713.8 524.9,625.1A92.1,92.1 0 0 1 529.6,625.7Q508.7,714.5 471.8,797.9Z" fill="#6AC5C1" fill-opacity="0.6"/><path d="M551.4,801.4A92.1,92.1 0 0 1 548.0,802.8Q512.3,718.1 469.2,637.0A92.1,92.1 0 0 1 472.8,635.0Q513.9,717.4 551.4,801.4Z" fill="#8CC862" fill-opacity="0.6"/><path d="M515.3,808.8A92.1,92.1 0 0 1 511.6,808.7Q511.4,716.9 501.6,625.6A92.1,92.1 0 0 1 504.4,625.2Q512.8,716.8 515.3,808.8Z" fill="#2B8088" fill-opacity="0.6"/><path d="M502.6,807.9A92.1,92.1 0 0 1 497.5,807.1Q507.0,716.8 496.1,626.6A92.1,92.1 0 0 1 501.2,625.7Q509.3,716.7 502.6,807.9Z" fill="#AAC2EA" fill-opacity="0.6"/><path d="M433.5,759.0A92.1,92.1 0 0 1 430.7,753.1Q497.0,704.2 518.7,624.7A92.1,92.1 0 0 1 524.5,625.1Q499.0,705.6 433.5,759.0Z" fill="#AAD9C2" fill-opacity="0.6"/><path d="M453.7,785.2A92.1,92.1 0 0 1 452.4,783.9Q509.6,712.9 552.8,632.6A92.1,92.1 0 0 1 554.9,633.6Q510.4,713.4 453.7,785.2Z" fill="#E0A232" fill-opacity="0.6"/><path d="M426.7,742.0A92.1,92.1 0 0 1 426.2,740.1Q474.7,719.8 423.7,707.0A92.1,92.1 0 0 1 423.9,705.3Q474.8,719.8 426.7,742.0Z" fill="#AAD9C2" fill-opacity="0.6"/><path d="M604.8,738.3A92.1,92.1 0 0 1 603.3,744.0Q551.0,709.6 586.0,657.7A92.1,92.1 0 0 1 589.5,662.1Q552.1,709.3 604.8,738.3Z" fill="#F0E274" fill-opacity="0.6"/><path d="M511.1,808.7A92.1,92.1 0 0 1 509.2,808.6Q498.9,723.1 448.4,653.4A92.1,92.1 0 0 1 449.5,652.3Q499.5,722.9 511.1,808.7Z" fill="#2B8088" fill-opacity="0.6"/><path d="M583.1,779.0A92.1,92.1 0 0 1 581.1,781.1Q520.6,712.8 473.2,634.8A92.1,92.1 0 0 1 475.5,633.7Q521.6,712.0 583.1,779.0Z" fill="#62B844" fill-opacity="0.6"/><path d="M437.5,766.0A92.1,92.1 0 0 1 436.7,764.7Q510.9,711.6 574.2,645.9A92.1,92.1 0 0 1 575.5,647.0Q511.3,712.1 437.5,766.0Z" fill="#AAD9C2" fill-opacity="0.6"/><path d="M452.0,783.6A92.1,92.1 0 0 1 449.7,781.3Q481.2,723.8 429.4,683.5A92.1,92.1 0 0 1 430.9,679.8Q482.1,723.4 452.0,783.6Z" fill="#E0A232" fill-opacity="0.6"/><path d="M577.7,784.4A92.1,92.1 0 0 1 572.7,788.7Q548.6,729.3 606.0,700.8A92.1,92.1 0 0 1 606.9,707.0Q549.9,729.8 577.7,784.4Z" fill="#8CC862" fill-opacity="0.6"/><path d="M558.7,798.0A92.1,92.1 0 0 1 551.8,801.3Q521.2,715.1 504.9,625.2A92.1,92.1 0 0 1 512.0,624.7Q524.3,714.3 558.7,798.0Z" fill="#8CC862" fill-opacity="0.6"/><path d="M425.9,738.8A92.1,92.1 0 0 1 425.4,736.7Q514.6,714.2 602.0,685.6A92.1,92.1 0 0 1 602.7,687.5Q514.8,715.1 425.9,738.8Z" fill="#E09A32" fill-opacity="0.6"/><path d="M527.9,807.9A92.1,92.1 0 0 1 525.9,808.2Q528.0,719.3 561.2,636.8A92.1,92.1 0 0 1 563.8,638.4Q529.1,719.6 527.9,807.9Z" fill="#5CA9D9" fill-opacity="0.6"/><path d="M572.4,789.0A92.1,92.1 0 0 1 568.0,792.3Q538.2,716.1 564.2,638.7A92.1,92.1 0 0 1 568.7,641.7Q540.2,716.1 572.4,789.0Z" fill="#8CC862" fill-opacity="0.6"/><path d="M424.1,729.9A92.1,92.1 0 0 1 423.6,725.4Q500.9,698.9 543.1,628.9A92.1,92.1 0 0 1 546.9,630.2Q501.9,700.2 424.1,729.9Z" fill="#6B3B99" fill-opacity="0.6"/><path d="M602.0,747.6A92.1,92.1 0 0 1 597.5,758.2Q524.9,707.3 475.9,633.5A92.1,92.1 0 0 1 486.4,629.3Q528.3,704.0 602.0,747.6Z" fill="#F0E274" fill-opacity="0.6"/><path d="M496.1,806.8A92.1,92.1 0 0 1 487.3,804.4Q526.7,725.7 594.0,668.9A92.1,92.1 0 0 1 598.6,677.3Q529.7,728.1 496.1,806.8Z" fill="#6AC5C1" fill-opacity="0.6"/><path d="M508.7,808.6A92.1,92.1 0 0 1 504.0,808.1Q492.3,733.9 424.4,701.8A92.1,92.1 0 0 1 425.1,698.2Q493.5,733.2 508.7,808.6Z" fill="#2B8088" fill-opacity="0.6"/><path d="M606.0,733.0A92.1,92.1 0 0 1 605.2,736.9Q515.8,714.8 427.7,688.2A92.1,92.1 0 0 1 428.6,685.7Q516.2,713.4 606.0,733.0Z" fill="#E2D422" fill-opacity="0.6"/><path d="M441.4,771.6A92.1,92.1 0 0 1 437.8,766.4Q514.8,716.0 590.6,663.7A92.1,92.1 0 0 1 593.8,668.5Q516.3,718.2 441.4,771.6Z" fill="#AAD9C2" fill-opacity="0.6"/><path d="M567.6,792.5A92.1,92.1 0 0 1 559.1,797.7Q528.5,714.5 530.1,625.8A92.1,92.1 0 0 1 539.0,627.7Q532.4,713.7 567.6,792.5Z" fill="#8CC862" fill-opacity="0.6"/><path d="M547.6,803.0A92.1,92.1 0 0 1 540.5,805.3Q507.0,721.4 453.0,648.9A92.1,92.1 0 0 1 458.5,644.2Q509.8,719.8 547.6,803.0Z" fill="#8CC862" fill-opacity="0.6"/><path d="M467.4,795.4A92.1,92.1 0 0 1 464.4,793.5Q498.6,713.9 492.0,627.6A92.1,92.1 0 0 1 495.7,626.7Q500.1,714.2 467.4,795.4Z" fill="#6AC5C1" fill-opacity="0.6"/><path d="M607.2,723.3A92.1,92.1 0 0 1 606.9,725.8Q529.5,699.0 486.8,629.1A92.1,92.1 0 0 1 488.6,628.5Q530.0,698.4 607.2,723.3Z" fill="#E2D422" fill-opacity="0.6"/><path d="M606.5,729.5A92.1,92.1 0 0 1 606.0,732.5Q518.0,709.5 436.5,669.0A92.1,92.1 0 0 1 437.6,667.3Q518.3,708.4 606.5,729.5Z" fill="#E2D422" fill-opacity="0.6"/><path d="M430.5,752.7A92.1,92.1 0 0 1 429.7,750.6Q485.1,706.7 466.7,638.5A92.1,92.1 0 0 1 468.8,637.2Q485.8,706.9 430.5,752.7Z" fill="#AAD9C2" fill-opacity="0.6"/><path d="M518.0,808.8A92.1,92.1 0 0 1 515.7,808.8Q525.3,719.2 559.2,635.7A92.1,92.1 0 0 1 560.8,636.6Q526.1,719.4 518.0,808.8Z" fill="#2B8088" fill-opacity="0.6"/><path d="M521.5,808.6A92.1,92.1 0 0 1 518.5,808.7Q536.3,733.2 605.5,698.0A92.1,92.1 0 0 1 605.9,700.3Q537.1,733.7 521.5,808.6Z" fill="#2B8088" fill-opacity="0.6"/><path d="M486.9,804.3A92.1,92.1 0 0 1 475.7,799.8Q520.0,719.8 575.8,647.3A92.1,92.1 0 0 1 585.8,657.4Q524.8,723.1 486.9,804.3Z" fill="#6AC5C1" fill-opacity="0.6"/><path d="M429.5,750.2A92.1,92.1 0 0 1 426.9,742.4Q478.1,711.0 438.6,665.7A92.1,92.1 0 0 1 443.3,659.3Q479.8,711.3 429.5,750.2Z" fill="#AAD9C2" fill-opacity="0.6"/><path d="M424.6,732.8A92.1,92.1 0 0 1 424.2,730.3Q507.1,703.0 569.7,642.4A92.1,92.1 0 0 1 571.7,643.9Q507.6,703.9 424.6,732.8Z" fill="#6B3B99" fill-opacity="0.6"/><path d="M425.3,736.3A92.1,92.1 0 0 1 424.9,734.2Q507.7,704.3 572.0,644.1A92.1,92.1 0 0 1 573.9,645.6Q508.2,705.1 425.3,736.3Z" fill="#E09A32" fill-opacity="0.6"/><path d="M525.5,808.2A92.1,92.1 0 0 1 522.9,808.5Q496.7,733.1 425.2,697.7A92.1,92.1 0 0 1 426.0,694.0Q497.5,732.2 525.5,808.2Z" fill="#5CA9D9" fill-opacity="0.6"/><path d="M458.6,789.3A92.1,92.1 0 0 1 457.0,788.0Q483.2,724.3 431.1,679.4A92.1,92.1 0 0 1 432.0,677.3Q483.8,724.2 458.6,789.3Z" fill="#6AC5C1" fill-opacity="0.6"/><path d="M540.1,805.4A92.1,92.1 0 0 1 534.8,806.7Q499.6,731.7 426.2,693.5A92.1,92.1 0 0 1 427.6,688.6Q501.1,730.3 540.1,805.4Z" fill="#8CC862" fill-opacity="0.6"/><path d="M533.4,807.0A92.1,92.1 0 0 1 529.3,807.7Q503.7,722.6 449.8,652.0A92.1,92.1 0 0 1 452.6,649.2Q505.3,721.8 533.4,807.0Z" fill="#F4C2CA" fill-opacity="0.6"/><path d="M593.9,764.7A92.1,92.1 0 0 1 588.4,772.7Q513.1,720.4 432.2,676.9A92.1,92.1 0 0 1 436.3,669.4Q515.2,716.9 593.9,764.7Z" fill="#F0E274" fill-opacity="0.6"/><path d="M606.9,726.3A92.1,92.1 0 0 1 606.6,729.0Q524.3,702.3 464.0,640.2A92.1,92.1 0 0 1 465.5,639.2Q524.7,701.4 606.9,726.3Z" fill="#E2D422" fill-opacity="0.6"/><path d="M597.3,758.6A92.1,92.1 0 0 1 594.1,764.3Q520.3,711.0 458.9,643.9A92.1,92.1 0 0 1 463.6,640.5Q522.1,709.0 597.3,758.6Z" fill="#F0E274" fill-opacity="0.6"/><path d="M423.6,725.0A92.1,92.1 0 0 1 423.4,722.9Q488.9,698.2 489.8,628.2A92.1,92.1 0 0 1 491.5,627.7Q489.3,698.5 423.6,725.0Z" fill="#6B3B99" fill-opacity="0.6"/><path d="M436.4,764.3A92.1,92.1 0 0 1 433.7,759.4Q504.1,706.9 547.3,630.4A92.1,92.1 0 0 1 552.4,632.4Q505.9,708.4 436.4,764.3Z" fill="#AAD9C2" fill-opacity="0.6"/><path d="M464.0,793.2A92.1,92.1 0 0 1 459.0,789.6Q486.5,720.1 443.6,658.9A92.1,92.1 0 0 1 448.1,653.7Q488.6,719.7 464.0,793.2Z" fill="#6AC5C1" fill-opacity="0.6"/><path d="M475.3,799.7A92.1,92.1 0 0 1 472.2,798.1Q514.6,716.4 555.3,633.8A92.1,92.1 0 0 1 558.8,635.5Q516.1,717.1 475.3,799.7Z" fill="#6AC5C1" fill-opacity="0.6"/><path d="M448.6,780.2A92.1,92.1 0 0 1 441.6,772.0Q518.4,722.7 602.8,687.9A92.1,92.1 0 0 1 605.4,697.6Q520.6,726.7 448.6,780.2Z" fill="#AAD9C2" fill-opacity="0.6"/>
<path d="M619.93,740.47A107.3,107.3 0 0 0 622.34,724.18L609.37,723.28A94.3,94.3 0 0 1 607.26,737.59Z" fill="#E2D422"/>
<path d="M600.31,782.17A107.3,107.3 0 0 0 619.68,741.57L607.03,738.55A94.3,94.3 0 0 1 590.01,774.24Z" fill="#F0E274"/>
<path d="M591.83,791.91A107.3,107.3 0 0 0 599.51,783.20L589.30,775.15A94.3,94.3 0 0 1 582.56,782.80Z" fill="#62B844"/>
<path d="M589.02,794.66A107.3,107.3 0 0 0 591.04,792.70L581.86,783.50A94.3,94.3 0 0 1 580.09,785.22Z" fill="#FFFFFF"/>
<path d="M537.79,821.62A107.3,107.3 0 0 0 588.20,795.43L579.37,785.89A94.3,94.3 0 0 1 535.07,808.90Z" fill="#8CC862"/>
<path d="M531.35,822.79A107.3,107.3 0 0 0 536.69,821.85L534.10,809.11A94.3,94.3 0 0 1 529.40,809.94Z" fill="#F4C2CA"/>
<path d="M523.91,823.65A107.3,107.3 0 0 0 530.23,822.96L528.42,810.08A94.3,94.3 0 0 1 522.86,810.70Z" fill="#5CA9D9"/>
<path d="M501.85,823.15A107.3,107.3 0 0 0 522.78,823.74L521.88,810.77A94.3,94.3 0 0 1 503.48,810.26Z" fill="#2B8088"/>
<path d="M494.27,821.92A107.3,107.3 0 0 0 500.74,823.01L502.50,810.13A94.3,94.3 0 0 1 496.82,809.17Z" fill="#AAC2EA"/>
<path d="M444.62,797.43A107.3,107.3 0 0 0 493.17,821.69L495.85,808.97A94.3,94.3 0 0 1 453.19,787.65Z" fill="#6AC5C1"/>
<path d="M438.64,791.77A107.3,107.3 0 0 0 443.78,796.69L452.45,787.00A94.3,94.3 0 0 1 447.93,782.68Z" fill="#E0A232"/>
<path d="M411.46,743.75A107.3,107.3 0 0 0 437.73,790.83L447.12,781.85A94.3,94.3 0 0 1 424.05,740.47Z" fill="#AAD9C2"/>
<path d="M409.90,736.81A107.3,107.3 0 0 0 411.19,742.66L423.80,739.51A94.3,94.3 0 0 1 422.67,734.37Z" fill="#E09A32"/>
<path d="M408.22,723.62A107.3,107.3 0 0 0 409.70,735.70L422.49,733.40A94.3,94.3 0 0 1 421.20,722.79Z" fill="#6B3B99"/>
<path d="M622.03,705.67A107.3,107.3 0 0 0 616.19,680.18L603.97,684.60A94.3,94.3 0 0 1 609.10,707.01Z" fill="#B2DDCE"/>
<path d="M615.47,678.25A107.3,107.3 0 0 0 602.87,654.70L592.26,662.21A94.3,94.3 0 0 1 603.34,682.91Z" fill="#8ACA8C"/>
<path d="M601.89,653.33A107.3,107.3 0 0 0 578.52,630.00L570.86,640.51A94.3,94.3 0 0 1 591.40,661.01Z" fill="#F0A878"/>
<path d="M577.76,629.45A107.3,107.3 0 0 0 547.39,614.31L543.50,626.72A94.3,94.3 0 0 1 570.19,640.02Z" fill="#BADDA2"/>
<path d="M546.31,613.98A107.3,107.3 0 0 0 519.04,609.47L518.59,622.46A94.3,94.3 0 0 1 542.56,626.42Z" fill="#4FBDCA"/>
<path d="M517.55,609.42A107.3,107.3 0 0 0 485.36,613.66L488.99,626.14A94.3,94.3 0 0 1 517.27,622.42Z" fill="#A0459C"/>
<path d="M484.47,613.93A107.3,107.3 0 0 0 458.44,625.70L465.33,636.73A94.3,94.3 0 0 1 488.20,626.38Z" fill="#CD1C3E"/>
<path d="M457.49,626.30A107.3,107.3 0 0 0 425.82,657.48L436.66,664.65A94.3,94.3 0 0 1 464.49,637.26Z" fill="#3F8FA9"/>
<path d="M424.90,658.89A107.3,107.3 0 0 0 415.13,678.25L427.26,682.91A94.3,94.3 0 0 1 435.86,665.89Z" fill="#8B2022"/>
<path d="M414.34,680.35A107.3,107.3 0 0 0 408.57,705.67L421.50,707.01A94.3,94.3 0 0 1 426.57,684.76Z" fill="#3B55AA"/>
<path d="M622.5,724.2L625.5,724.4M622.3,727.1L623.9,727.3M622.0,730.0L623.6,730.2M621.6,732.9L623.2,733.1M621.1,735.7L622.7,736.0M620.5,738.6L623.5,739.2M619.9,741.6L622.8,742.3M619.2,744.4L620.7,744.8M618.4,747.2L619.9,747.7M617.5,750.0L619.0,750.5M616.6,752.8L618.1,753.3M615.6,755.5L618.4,756.6M614.5,758.2L615.9,758.8M613.3,760.9L614.8,761.5M612.1,763.5L613.5,764.2M610.8,766.1L612.2,766.8M609.4,768.7L612.0,770.1M608.0,771.2L609.4,772.0M606.5,773.7L607.8,774.5M604.9,776.1L606.2,777.0M603.3,778.5L604.6,779.4M601.5,780.9L604.0,782.7M599.7,783.3L602.0,785.2M597.8,785.6L599.1,786.6M595.9,787.8L597.1,788.8M594.0,789.9L595.2,791.0M592.0,792.0L593.1,793.2M591.2,792.8L593.3,795.0M588.3,795.6L590.4,797.8M586.2,797.5L587.2,798.7M584.0,799.4L585.0,800.6M581.7,801.2L582.7,802.5M579.4,803.0L580.3,804.3M577.0,804.7L578.8,807.2M574.6,806.3L575.5,807.7M572.2,807.9L573.0,809.3M569.7,809.4L570.5,810.8M567.2,810.9L567.9,812.3M564.6,812.2L566.0,814.9M562.0,813.5L562.7,815.0M559.4,814.8L560.0,816.2M556.7,815.9L557.3,817.4M554.0,817.0L554.6,818.5M551.3,818.0L552.3,820.8M548.5,818.9L549.0,820.5M545.7,819.8L546.2,821.3M542.9,820.6L543.4,822.1M540.1,821.3L540.5,822.9M536.7,822.0L537.3,825.0M533.9,822.6L534.2,824.2M530.3,823.2L530.7,826.1M527.4,823.5L527.6,825.1M524.5,823.8L524.6,825.4M522.8,823.9L523.0,826.9M519.9,824.1L520.0,825.7M517.0,824.2L517.0,825.8M514.1,824.2L514.1,825.8M511.2,824.1L511.1,825.7M508.3,824.0L508.1,827.0M505.4,823.7L505.2,825.3M502.5,823.4L502.3,825.0M500.7,823.2L500.3,826.2M497.8,822.8L497.6,824.4M495.0,822.3L494.7,823.8M493.1,821.9L492.5,824.8M490.3,821.3L489.9,822.8M487.5,820.5L487.1,822.1M484.7,819.7L484.2,821.3M481.9,818.9L481.4,820.4M479.2,817.9L478.1,820.8M476.4,816.9L475.8,818.4M473.7,815.8L473.1,817.3M471.1,814.7L470.4,816.1M468.4,813.4L467.7,814.9M465.8,812.1L464.4,814.8M463.3,810.8L462.5,812.2M460.7,809.3L459.9,810.7M458.3,807.8L457.4,809.2M455.8,806.2L454.9,807.6M453.4,804.6L451.7,807.1M451.1,802.9L450.1,804.2M448.7,801.1L447.8,802.4M446.5,799.3L445.5,800.5M443.6,796.8L441.6,799.1M441.5,794.9L440.4,796.0M439.4,792.8L438.3,794.0M437.6,791.0L435.4,793.0M435.6,788.8L434.4,789.9M433.7,786.7L432.5,787.7M431.8,784.4L430.6,785.4M430.0,782.1L428.7,783.1M428.3,779.8L425.8,781.6M426.6,777.4L425.3,778.3M425.0,775.0L423.6,775.9M423.4,772.5L422.1,773.4M422.0,770.0L420.6,770.8M420.6,767.5L417.9,768.9M419.2,764.9L417.8,765.6M418.0,762.3L416.5,763.0M416.8,759.7L415.3,760.3M415.6,757.0L414.1,757.6M414.6,754.3L411.8,755.3M413.6,751.5L412.1,752.0M412.7,748.8L411.2,749.2M411.9,746.0L410.3,746.4M411.0,742.7L408.1,743.4M410.3,739.9L408.8,740.2M409.7,737.0L408.2,737.3M409.5,735.7L406.5,736.3M409.0,732.9L407.4,733.1M408.6,730.0L407.0,730.2M408.3,727.1L406.7,727.3M408.1,724.2L406.5,724.3M616.4,680.1L619.2,679.1M617.3,682.9L618.9,682.4M618.2,685.6L619.7,685.2M619.0,688.4L620.6,688.0M619.7,691.2L621.3,690.9M620.4,694.1L623.3,693.4M621.0,696.9L622.5,696.6M621.5,699.8L623.0,699.5M621.9,702.7L623.5,702.5M622.2,705.6L623.8,705.4M603.0,654.6L605.5,652.8M604.7,657.0L606.0,656.1M606.3,659.4L607.6,658.6M607.8,661.9L609.2,661.1M609.2,664.4L610.6,663.6M610.6,667.0L613.3,665.6M611.9,669.6L613.4,668.9M613.2,672.2L614.6,671.5M614.3,674.9L615.8,674.2M615.4,677.6L616.9,677.0M578.6,629.8L580.4,627.4M581.0,631.6L581.9,630.3M583.2,633.4L584.3,632.2M585.5,635.3L586.5,634.0M587.6,637.2L588.7,636.0M589.8,639.2L591.9,637.0M591.8,641.2L593.0,640.1M593.9,643.3L595.0,642.2M595.8,645.5L597.0,644.4M597.7,647.7L598.9,646.6M599.5,649.9L601.9,648.1M601.3,652.2L602.6,651.3M547.4,614.1L548.3,611.3M550.2,615.0L550.7,613.5M552.9,616.0L553.5,614.5M555.7,617.1L556.3,615.6M558.3,618.2L559.0,616.7M561.0,619.4L562.3,616.7M563.6,620.7L564.3,619.2M566.2,622.0L566.9,620.6M568.7,623.4L569.5,622.0M571.2,624.9L572.1,623.5M573.7,626.4L575.3,623.9M576.1,628.1L577.0,626.7M519.1,609.3L519.2,606.3M522.0,609.4L522.1,607.8M524.9,609.6L525.0,608.0M527.7,609.9L527.9,608.3M530.6,610.3L530.9,608.7M533.5,610.8L534.0,607.8M536.4,611.3L536.7,609.7M539.2,611.9L539.6,610.3M542.0,612.6L542.4,611.0M544.8,613.3L545.3,611.8M485.3,613.5L484.5,610.6M488.1,612.7L487.7,611.1M490.9,612.0L490.6,610.4M493.8,611.4L493.5,609.8M496.6,610.8L496.4,609.3M499.5,610.4L499.1,607.4M502.4,610.0L502.2,608.4M505.3,609.7L505.1,608.1M508.2,609.4L508.1,607.8M511.1,609.3L511.0,607.7M514.0,609.2L514.0,606.2M516.9,609.2L516.9,607.6M458.3,625.5L456.7,623.0M460.8,624.0L460.0,622.6M463.3,622.6L462.6,621.2M465.9,621.2L465.2,619.8M468.5,619.9L467.8,618.5M471.1,618.7L469.9,616.0M473.8,617.5L473.2,616.1M476.5,616.4L475.9,614.9M479.2,615.4L478.7,613.9M482.0,614.5L481.5,613.0M425.7,657.4L423.2,655.7M427.3,655.0L426.0,654.0M429.0,652.6L427.7,651.7M430.8,650.3L429.5,649.3M432.6,648.0L431.4,647.0M434.5,645.8L432.2,643.8M436.4,643.7L435.3,642.6M438.4,641.6L437.3,640.4M440.5,639.5L439.4,638.4M442.6,637.5L441.5,636.3M444.8,635.6L442.8,633.3M447.0,633.7L446.0,632.5M449.3,631.9L448.3,630.6M451.6,630.1L450.6,628.8M453.9,628.4L453.0,627.1M456.4,626.8L454.7,624.3M414.9,678.2L412.1,677.1M416.0,675.5L414.5,674.9M417.2,672.8L415.7,672.2M418.4,670.2L417.0,669.5M419.7,667.6L418.3,666.8M421.1,665.0L418.4,663.6M422.5,662.5L421.1,661.7M424.0,660.0L422.6,659.1M408.4,705.6L405.4,705.3M408.7,702.8L407.1,702.6M409.1,699.9L407.5,699.6M409.6,697.0L408.0,696.7M410.2,694.2L408.6,693.8M410.8,691.3L407.9,690.6M411.6,688.5L410.0,688.1M412.4,685.7L410.8,685.3M413.2,682.9L411.7,682.4" stroke="#333" stroke-width="0.6" fill="none"/>
<path d="M628.9,724.6h0.01M626.8,739.9h0.01M626.1,743.1h0.01M621.5,757.8h0.01M615.0,771.7h0.01M606.7,784.7h0.01M604.7,787.3h0.01M595.7,797.4h0.01M592.7,800.3h0.01M580.7,809.9h0.01M567.5,817.9h0.01M553.4,824.0h0.01M538.0,828.3h0.01M531.2,829.5h0.01M523.2,830.3h0.01M507.9,830.4h0.01M499.8,829.5h0.01M491.8,828.2h0.01M477.0,824.0h0.01M462.9,817.8h0.01M449.7,809.8h0.01M439.4,801.6h0.01M433.0,795.4h0.01M423.1,783.6h0.01M414.9,770.5h0.01M408.6,756.5h0.01M404.8,744.3h0.01M403.2,736.9h0.01M622.4,677.9h0.01M626.6,692.7h0.01M608.3,650.9h0.01M616.3,664.0h0.01M582.4,624.7h0.01M594.2,634.6h0.01M604.6,646.0h0.01M549.4,608.0h0.01M563.7,613.6h0.01M577.2,621.1h0.01M519.3,602.9h0.01M534.6,604.4h0.01M483.5,607.3h0.01M498.6,604.0h0.01M513.9,602.8h0.01M454.9,620.1h0.01M468.5,612.9h0.01M420.3,653.8h0.01M429.7,641.6h0.01M440.6,630.7h0.01M452.8,621.4h0.01M409.0,675.9h0.01M415.4,661.9h0.01M402.0,705.0h0.01M404.6,689.8h0.01" stroke="#666" stroke-width="1.2" stroke-linecap="round" fill="none"/>
<text font-family='"Liberation Sans", sans-serif' font-size="6.3" fill="#111" text-anchor="start" transform="translate(630.15,733.66) rotate(8.40)"><tspan x="0" y="2.20">Slc9a1</tspan></text>
<text font-family='"Liberation Sans", sans-serif' font-size="6.3" fill="#111" text-anchor="start" transform="translate(620.09,766.68) rotate(25.50)"><tspan x="0" y="2.20">Prkaca</tspan></text>
<text font-family='"Liberation Sans", sans-serif' font-size="6.3" fill="#111" text-anchor="start" transform="translate(602.39,793.48) rotate(41.40)"><tspan x="0" y="2.20">Gab1</tspan></text>
<text font-family='"Liberation Sans", sans-serif' font-size="6.3" fill="#111" text-anchor="start" transform="translate(596.17,800.00) rotate(45.85)"><tspan x="0" y="2.20">Pdha1</tspan></text>
<text font-family='"Liberation Sans", sans-serif' font-size="6.3" fill="#111" text-anchor="start" transform="translate(568.82,819.73) rotate(62.55)"><tspan x="0" y="2.20">Camk2d</tspan></text>
<text font-family='"Liberation Sans", sans-serif' font-size="6.3" fill="#111" text-anchor="start" transform="translate(535.56,831.02) rotate(79.95)"><tspan x="0" y="2.20">Dnajc</tspan></text>
<text font-family='"Liberation Sans", sans-serif' font-size="6.3" fill="#111" text-anchor="start" transform="translate(528.04,832.10) rotate(83.70)"><tspan x="0" y="2.20">Prkcd</tspan></text>
<text font-family='"Liberation Sans", sans-serif' font-size="6.3" fill="#111" text-anchor="end" transform="translate(512.06,832.75) rotate(271.60)"><tspan x="0" y="2.20">Cdk2</tspan></text>
<text font-family='"Liberation Sans", sans-serif' font-size="6.3" fill="#111" text-anchor="end" transform="translate(496.04,831.19) rotate(279.55)"><tspan x="0" y="2.20">Aldoa</tspan></text>
<text font-family='"Liberation Sans", sans-serif' font-size="6.3" fill="#111" text-anchor="end" transform="translate(463.41,820.56) rotate(296.55)"><tspan x="0" y="2.20">Camk2g</tspan></text>
<text font-family='"Liberation Sans", sans-serif' font-size="6.3" fill="#111" text-anchor="end" transform="translate(435.09,800.64) rotate(313.70)"><tspan x="0" y="2.20">Arhgdia</tspan></text>
<text font-family='"Liberation Sans", sans-serif' font-size="6.3" fill="#111" text-anchor="end" transform="translate(413.90,773.25) rotate(330.85)"><tspan x="0" y="2.20">Camk2b</tspan></text>
<text font-family='"Liberation Sans", sans-serif' font-size="6.3" fill="#111" text-anchor="end" transform="translate(401.91,741.63) rotate(347.60)"><tspan x="0" y="2.20">Cpeb3</tspan></text>
<text font-family='"Liberation Sans", sans-serif' font-size="6.3" fill="#111" text-anchor="end" transform="translate(400.05,730.75) rotate(353.05)"><tspan x="0" y="2.20">Ccnd1</tspan></text>
<text font-family='"Liberation Sans", sans-serif' font-size="6.3" fill="#111" text-anchor="start" transform="translate(628.47,690.78) rotate(-12.90)"><tspan x="0" y="-1.32">Adrenergic.signaling.</tspan><tspan x="0" y="5.73">in.cardiomy</tspan></text>
<text font-family='"Liberation Sans", sans-serif' font-size="6.3" fill="#111" text-anchor="start" transform="translate(617.67,661.93) rotate(-28.15)"><tspan x="0" y="2.20">HIF.1.signaling.pathway</tspan></text>
<text font-family='"Liberation Sans", sans-serif' font-size="6.3" fill="#111" text-anchor="start" transform="translate(597.32,634.53) rotate(-45.05)"><tspan x="0" y="2.20">Cushing.syndrome</tspan></text>
<text font-family='"Liberation Sans", sans-serif' font-size="6.3" fill="#111" text-anchor="start" transform="translate(567.10,612.80) rotate(-63.50)"><tspan x="0" y="-1.32">Neurotrophin.</tspan><tspan x="0" y="5.73">signaling.pathway</tspan></text>
<text font-family='"Liberation Sans", sans-serif' font-size="6.3" fill="#111" text-anchor="start" transform="translate(534.26,602.16) rotate(-80.60)"><tspan x="0" y="2.20">GnRH.signaling.pathway</tspan></text>
<text font-family='"Liberation Sans", sans-serif' font-size="6.3" fill="#111" text-anchor="end" transform="translate(500.15,601.59) rotate(82.50)"><tspan x="0" y="2.20">Oocyte.meiosis</tspan></text>
<text font-family='"Liberation Sans", sans-serif' font-size="6.3" fill="#111" text-anchor="end" transform="translate(467.43,610.93) rotate(65.65)"><tspan x="0" y="-1.32">Inflammatory.</tspan><tspan x="0" y="5.73">mediator.regulation.</tspan></text>
<text font-family='"Liberation Sans", sans-serif' font-size="6.3" fill="#111" text-anchor="end" transform="translate(433.85,633.96) rotate(45.45)"><tspan x="0" y="2.20">Proteoglycans.in.cancer</tspan></text>
<text font-family='"Liberation Sans", sans-serif' font-size="6.3" fill="#111" text-anchor="end" transform="translate(411.67,664.35) rotate(26.80)"><tspan x="0" y="2.20">Olfactory.transduction</tspan></text>
<text font-family='"Liberation Sans", sans-serif' font-size="6.3" fill="#111" text-anchor="end" transform="translate(402.11,690.88) rotate(12.85)"><tspan x="0" y="-1.32">Gastric.acid.</tspan><tspan x="0" y="5.73">secretion</tspan></text>
</svg></body></html>
